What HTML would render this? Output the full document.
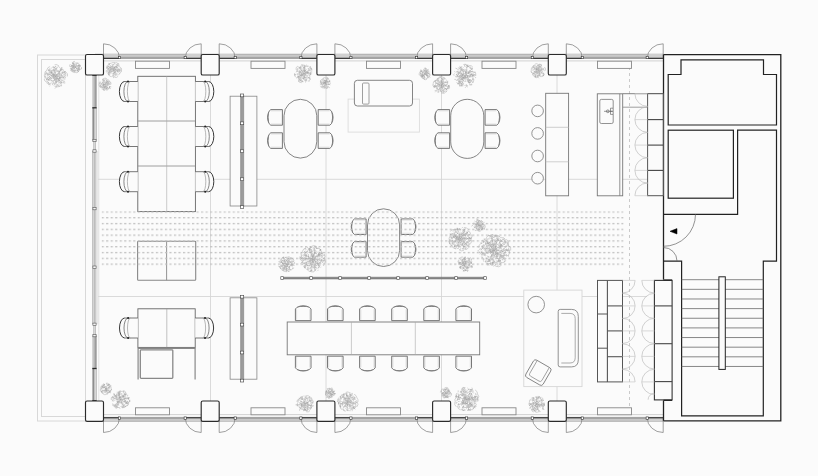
<!DOCTYPE html>
<html><head><meta charset="utf-8"><title>Floor plan</title>
<style>html,body{margin:0;padding:0;background:#fbfbfb;}svg{display:block}</style></head>
<body><svg width="818" height="476" viewBox="0 0 818 476">
<rect width="818" height="476" fill="#fbfbfb"/>
<rect x="37.5" y="55" width="57.5" height="366" fill="none" stroke="#d8d8d8" stroke-width="1" />
<rect x="41.5" y="59.5" width="44" height="357" fill="none" stroke="#d8d8d8" stroke-width="1" />
<line x1="210.5" y1="75" x2="210.5" y2="401" stroke="#d6d6d6" stroke-width="0.9" />
<line x1="326" y1="75" x2="326" y2="401" stroke="#d6d6d6" stroke-width="0.9" />
<line x1="441.5" y1="75" x2="441.5" y2="401" stroke="#d6d6d6" stroke-width="0.9" />
<line x1="557" y1="75" x2="557" y2="401" stroke="#d6d6d6" stroke-width="0.9" />
<line x1="98" y1="179.3" x2="647" y2="179.3" stroke="#d6d6d6" stroke-width="0.9" />
<line x1="98" y1="296.5" x2="647" y2="296.5" stroke="#d6d6d6" stroke-width="0.9" />
<line x1="629.5" y1="61" x2="629.5" y2="414" stroke="#c4c4c4" stroke-width="0.9" stroke-dasharray="3 3"/>
<rect x="95" y="54" width="568" height="2.5" fill="#c9c9c9" stroke="none" stroke-width="1" />
<rect x="95" y="56.5" width="568" height="2.5" fill="#a4a4a4" stroke="none" stroke-width="1" />
<line x1="95" y1="60.9" x2="663" y2="60.9" stroke="#cdcdcd" stroke-width="0.9" />
<line x1="95" y1="54.2" x2="663" y2="54.2" stroke="#9a9a9a" stroke-width="0.6" />
<rect x="95" y="419.3" width="568" height="2.3" fill="#c9c9c9" stroke="none" stroke-width="1" />
<rect x="95" y="416.9" width="568" height="2.4" fill="#a4a4a4" stroke="none" stroke-width="1" />
<line x1="95" y1="414.6" x2="663" y2="414.6" stroke="#cdcdcd" stroke-width="0.9" />
<line x1="95" y1="421.3" x2="663" y2="421.3" stroke="#9a9a9a" stroke-width="0.6" />
<rect x="103.5" y="54" width="16" height="4" fill="#d0d0d0" stroke="none" stroke-width="1" />
<line x1="103.5" y1="58.3" x2="119.5" y2="58.3" stroke="#2b2b2b" stroke-width="1.1" />
<line x1="103.5" y1="58.3" x2="103.5" y2="43.8" stroke="#777" stroke-width="0.7" />
<path d="M103.5 43.8 A16 14.5 0 0 1 119.5 58.3" fill="none" stroke="#777" stroke-width="0.7" />
<rect x="118.4" y="56.3" width="2.2" height="2.4" fill="#fff" stroke="#333" stroke-width="0.6" />
<rect x="185.2" y="54" width="16" height="4" fill="#d0d0d0" stroke="none" stroke-width="1" />
<line x1="201.2" y1="58.3" x2="185.2" y2="58.3" stroke="#2b2b2b" stroke-width="1.1" />
<line x1="201.2" y1="58.3" x2="201.2" y2="43.8" stroke="#777" stroke-width="0.7" />
<path d="M201.2 43.8 A16 14.5 0 0 0 185.2 58.3" fill="none" stroke="#777" stroke-width="0.7" />
<rect x="184.1" y="56.3" width="2.2" height="2.4" fill="#fff" stroke="#333" stroke-width="0.6" />
<rect x="219.2" y="54" width="16" height="4" fill="#d0d0d0" stroke="none" stroke-width="1" />
<line x1="219.2" y1="58.3" x2="235.2" y2="58.3" stroke="#2b2b2b" stroke-width="1.1" />
<line x1="219.2" y1="58.3" x2="219.2" y2="43.8" stroke="#777" stroke-width="0.7" />
<path d="M219.2 43.8 A16 14.5 0 0 1 235.2 58.3" fill="none" stroke="#777" stroke-width="0.7" />
<rect x="234.1" y="56.3" width="2.2" height="2.4" fill="#fff" stroke="#333" stroke-width="0.6" />
<rect x="300.9" y="54" width="16" height="4" fill="#d0d0d0" stroke="none" stroke-width="1" />
<line x1="316.9" y1="58.3" x2="300.9" y2="58.3" stroke="#2b2b2b" stroke-width="1.1" />
<line x1="316.9" y1="58.3" x2="316.9" y2="43.8" stroke="#777" stroke-width="0.7" />
<path d="M316.9 43.8 A16 14.5 0 0 0 300.9 58.3" fill="none" stroke="#777" stroke-width="0.7" />
<rect x="299.8" y="56.3" width="2.2" height="2.4" fill="#fff" stroke="#333" stroke-width="0.6" />
<rect x="334.9" y="54" width="16" height="4" fill="#d0d0d0" stroke="none" stroke-width="1" />
<line x1="334.9" y1="58.3" x2="350.9" y2="58.3" stroke="#2b2b2b" stroke-width="1.1" />
<line x1="334.9" y1="58.3" x2="334.9" y2="43.8" stroke="#777" stroke-width="0.7" />
<path d="M334.9 43.8 A16 14.5 0 0 1 350.9 58.3" fill="none" stroke="#777" stroke-width="0.7" />
<rect x="349.8" y="56.3" width="2.2" height="2.4" fill="#fff" stroke="#333" stroke-width="0.6" />
<rect x="416.6" y="54" width="16" height="4" fill="#d0d0d0" stroke="none" stroke-width="1" />
<line x1="432.6" y1="58.3" x2="416.6" y2="58.3" stroke="#2b2b2b" stroke-width="1.1" />
<line x1="432.6" y1="58.3" x2="432.6" y2="43.8" stroke="#777" stroke-width="0.7" />
<path d="M432.6 43.8 A16 14.5 0 0 0 416.6 58.3" fill="none" stroke="#777" stroke-width="0.7" />
<rect x="415.5" y="56.3" width="2.2" height="2.4" fill="#fff" stroke="#333" stroke-width="0.6" />
<rect x="450.6" y="54" width="16" height="4" fill="#d0d0d0" stroke="none" stroke-width="1" />
<line x1="450.6" y1="58.3" x2="466.6" y2="58.3" stroke="#2b2b2b" stroke-width="1.1" />
<line x1="450.6" y1="58.3" x2="450.6" y2="43.8" stroke="#777" stroke-width="0.7" />
<path d="M450.6 43.8 A16 14.5 0 0 1 466.6 58.3" fill="none" stroke="#777" stroke-width="0.7" />
<rect x="465.5" y="56.3" width="2.2" height="2.4" fill="#fff" stroke="#333" stroke-width="0.6" />
<rect x="532.3" y="54" width="16" height="4" fill="#d0d0d0" stroke="none" stroke-width="1" />
<line x1="548.3" y1="58.3" x2="532.3" y2="58.3" stroke="#2b2b2b" stroke-width="1.1" />
<line x1="548.3" y1="58.3" x2="548.3" y2="43.8" stroke="#777" stroke-width="0.7" />
<path d="M548.3 43.8 A16 14.5 0 0 0 532.3 58.3" fill="none" stroke="#777" stroke-width="0.7" />
<rect x="531.2" y="56.3" width="2.2" height="2.4" fill="#fff" stroke="#333" stroke-width="0.6" />
<rect x="566.3" y="54" width="16" height="4" fill="#d0d0d0" stroke="none" stroke-width="1" />
<line x1="566.3" y1="58.3" x2="582.3" y2="58.3" stroke="#2b2b2b" stroke-width="1.1" />
<line x1="566.3" y1="58.3" x2="566.3" y2="43.8" stroke="#777" stroke-width="0.7" />
<path d="M566.3 43.8 A16 14.5 0 0 1 582.3 58.3" fill="none" stroke="#777" stroke-width="0.7" />
<rect x="581.2" y="56.3" width="2.2" height="2.4" fill="#fff" stroke="#333" stroke-width="0.6" />
<rect x="647.2" y="54" width="16" height="4" fill="#d0d0d0" stroke="none" stroke-width="1" />
<line x1="663.2" y1="58.3" x2="647.2" y2="58.3" stroke="#2b2b2b" stroke-width="1.1" />
<line x1="663.2" y1="58.3" x2="663.2" y2="43.8" stroke="#777" stroke-width="0.7" />
<path d="M663.2 43.8 A16 14.5 0 0 0 647.2 58.3" fill="none" stroke="#777" stroke-width="0.7" />
<rect x="646.1" y="56.3" width="2.2" height="2.4" fill="#fff" stroke="#333" stroke-width="0.6" />
<rect x="103.5" y="418" width="16" height="3.5" fill="#d0d0d0" stroke="none" stroke-width="1" />
<line x1="103.5" y1="417.8" x2="119.5" y2="417.8" stroke="#2b2b2b" stroke-width="1.1" />
<line x1="103.5" y1="417.8" x2="103.5" y2="432.5" stroke="#777" stroke-width="0.7" />
<path d="M103.5 432.5 A16 14.7 0 0 0 119.5 417.8" fill="none" stroke="#777" stroke-width="0.7" />
<rect x="118.4" y="416.9" width="2.2" height="2.4" fill="#fff" stroke="#333" stroke-width="0.6" />
<rect x="185.2" y="418" width="16" height="3.5" fill="#d0d0d0" stroke="none" stroke-width="1" />
<line x1="201.2" y1="417.8" x2="185.2" y2="417.8" stroke="#2b2b2b" stroke-width="1.1" />
<line x1="201.2" y1="417.8" x2="201.2" y2="432.5" stroke="#777" stroke-width="0.7" />
<path d="M201.2 432.5 A16 14.7 0 0 1 185.2 417.8" fill="none" stroke="#777" stroke-width="0.7" />
<rect x="184.1" y="416.9" width="2.2" height="2.4" fill="#fff" stroke="#333" stroke-width="0.6" />
<rect x="219.2" y="418" width="16" height="3.5" fill="#d0d0d0" stroke="none" stroke-width="1" />
<line x1="219.2" y1="417.8" x2="235.2" y2="417.8" stroke="#2b2b2b" stroke-width="1.1" />
<line x1="219.2" y1="417.8" x2="219.2" y2="432.5" stroke="#777" stroke-width="0.7" />
<path d="M219.2 432.5 A16 14.7 0 0 0 235.2 417.8" fill="none" stroke="#777" stroke-width="0.7" />
<rect x="234.1" y="416.9" width="2.2" height="2.4" fill="#fff" stroke="#333" stroke-width="0.6" />
<rect x="300.9" y="418" width="16" height="3.5" fill="#d0d0d0" stroke="none" stroke-width="1" />
<line x1="316.9" y1="417.8" x2="300.9" y2="417.8" stroke="#2b2b2b" stroke-width="1.1" />
<line x1="316.9" y1="417.8" x2="316.9" y2="432.5" stroke="#777" stroke-width="0.7" />
<path d="M316.9 432.5 A16 14.7 0 0 1 300.9 417.8" fill="none" stroke="#777" stroke-width="0.7" />
<rect x="299.8" y="416.9" width="2.2" height="2.4" fill="#fff" stroke="#333" stroke-width="0.6" />
<rect x="334.9" y="418" width="16" height="3.5" fill="#d0d0d0" stroke="none" stroke-width="1" />
<line x1="334.9" y1="417.8" x2="350.9" y2="417.8" stroke="#2b2b2b" stroke-width="1.1" />
<line x1="334.9" y1="417.8" x2="334.9" y2="432.5" stroke="#777" stroke-width="0.7" />
<path d="M334.9 432.5 A16 14.7 0 0 0 350.9 417.8" fill="none" stroke="#777" stroke-width="0.7" />
<rect x="349.8" y="416.9" width="2.2" height="2.4" fill="#fff" stroke="#333" stroke-width="0.6" />
<rect x="416.6" y="418" width="16" height="3.5" fill="#d0d0d0" stroke="none" stroke-width="1" />
<line x1="432.6" y1="417.8" x2="416.6" y2="417.8" stroke="#2b2b2b" stroke-width="1.1" />
<line x1="432.6" y1="417.8" x2="432.6" y2="432.5" stroke="#777" stroke-width="0.7" />
<path d="M432.6 432.5 A16 14.7 0 0 1 416.6 417.8" fill="none" stroke="#777" stroke-width="0.7" />
<rect x="415.5" y="416.9" width="2.2" height="2.4" fill="#fff" stroke="#333" stroke-width="0.6" />
<rect x="450.6" y="418" width="16" height="3.5" fill="#d0d0d0" stroke="none" stroke-width="1" />
<line x1="450.6" y1="417.8" x2="466.6" y2="417.8" stroke="#2b2b2b" stroke-width="1.1" />
<line x1="450.6" y1="417.8" x2="450.6" y2="432.5" stroke="#777" stroke-width="0.7" />
<path d="M450.6 432.5 A16 14.7 0 0 0 466.6 417.8" fill="none" stroke="#777" stroke-width="0.7" />
<rect x="465.5" y="416.9" width="2.2" height="2.4" fill="#fff" stroke="#333" stroke-width="0.6" />
<rect x="532.3" y="418" width="16" height="3.5" fill="#d0d0d0" stroke="none" stroke-width="1" />
<line x1="548.3" y1="417.8" x2="532.3" y2="417.8" stroke="#2b2b2b" stroke-width="1.1" />
<line x1="548.3" y1="417.8" x2="548.3" y2="432.5" stroke="#777" stroke-width="0.7" />
<path d="M548.3 432.5 A16 14.7 0 0 1 532.3 417.8" fill="none" stroke="#777" stroke-width="0.7" />
<rect x="531.2" y="416.9" width="2.2" height="2.4" fill="#fff" stroke="#333" stroke-width="0.6" />
<rect x="566.3" y="418" width="16" height="3.5" fill="#d0d0d0" stroke="none" stroke-width="1" />
<line x1="566.3" y1="417.8" x2="582.3" y2="417.8" stroke="#2b2b2b" stroke-width="1.1" />
<line x1="566.3" y1="417.8" x2="566.3" y2="432.5" stroke="#777" stroke-width="0.7" />
<path d="M566.3 432.5 A16 14.7 0 0 0 582.3 417.8" fill="none" stroke="#777" stroke-width="0.7" />
<rect x="581.2" y="416.9" width="2.2" height="2.4" fill="#fff" stroke="#333" stroke-width="0.6" />
<rect x="647.2" y="418" width="16" height="3.5" fill="#d0d0d0" stroke="none" stroke-width="1" />
<line x1="663.2" y1="417.8" x2="647.2" y2="417.8" stroke="#2b2b2b" stroke-width="1.1" />
<line x1="663.2" y1="417.8" x2="663.2" y2="432.5" stroke="#777" stroke-width="0.7" />
<path d="M663.2 432.5 A16 14.7 0 0 1 647.2 417.8" fill="none" stroke="#777" stroke-width="0.7" />
<rect x="646.1" y="416.9" width="2.2" height="2.4" fill="#fff" stroke="#333" stroke-width="0.6" />
<rect x="92.3" y="75" width="2.1" height="32.8" fill="#c4c4c4" stroke="none" stroke-width="1" />
<rect x="94.4" y="75" width="2.3" height="32.8" fill="#9c9c9c" stroke="none" stroke-width="1" />
<rect x="92.4" y="107.8" width="2.2" height="32.7" fill="#8e8e8e" stroke="none" stroke-width="1" />
<rect x="94.6" y="107.8" width="1.6" height="32.7" fill="#dcdcdc" stroke="none" stroke-width="1" />
<line x1="96.4" y1="107.8" x2="96.4" y2="140.5" stroke="#999" stroke-width="0.6" />
<line x1="93.7" y1="140.5" x2="93.7" y2="151" stroke="#999" stroke-width="0.6" />
<line x1="95.3" y1="140.5" x2="95.3" y2="151" stroke="#999" stroke-width="0.6" />
<rect x="92.3" y="151" width="4.4" height="57.6" fill="#eeeeee" stroke="none" stroke-width="1" />
<line x1="92.6" y1="151" x2="92.6" y2="208.6" stroke="#9a9a9a" stroke-width="0.6" />
<line x1="94.2" y1="151" x2="94.2" y2="208.6" stroke="#8a8a8a" stroke-width="0.7" />
<line x1="95.8" y1="151" x2="95.8" y2="208.6" stroke="#9a9a9a" stroke-width="0.6" />
<line x1="97.7" y1="151" x2="97.7" y2="208.6" stroke="#d4d4d4" stroke-width="0.6" />
<rect x="92.3" y="208.6" width="4.4" height="58.6" fill="#eeeeee" stroke="none" stroke-width="1" />
<line x1="92.6" y1="208.6" x2="92.6" y2="267.2" stroke="#9a9a9a" stroke-width="0.6" />
<line x1="94.2" y1="208.6" x2="94.2" y2="267.2" stroke="#8a8a8a" stroke-width="0.7" />
<line x1="95.8" y1="208.6" x2="95.8" y2="267.2" stroke="#9a9a9a" stroke-width="0.6" />
<line x1="97.7" y1="208.6" x2="97.7" y2="267.2" stroke="#d4d4d4" stroke-width="0.6" />
<rect x="92.3" y="267.2" width="4.4" height="57.1" fill="#eeeeee" stroke="none" stroke-width="1" />
<line x1="92.6" y1="267.2" x2="92.6" y2="324.3" stroke="#9a9a9a" stroke-width="0.6" />
<line x1="94.2" y1="267.2" x2="94.2" y2="324.3" stroke="#8a8a8a" stroke-width="0.7" />
<line x1="95.8" y1="267.2" x2="95.8" y2="324.3" stroke="#9a9a9a" stroke-width="0.6" />
<line x1="97.7" y1="267.2" x2="97.7" y2="324.3" stroke="#d4d4d4" stroke-width="0.6" />
<line x1="93.7" y1="324.3" x2="93.7" y2="335.6" stroke="#999" stroke-width="0.6" />
<line x1="95.3" y1="324.3" x2="95.3" y2="335.6" stroke="#999" stroke-width="0.6" />
<rect x="92.3" y="335.6" width="2.1" height="32.9" fill="#c4c4c4" stroke="none" stroke-width="1" />
<rect x="94.4" y="335.6" width="2.3" height="32.9" fill="#9c9c9c" stroke="none" stroke-width="1" />
<rect x="92.4" y="368.5" width="2.2" height="32.5" fill="#8e8e8e" stroke="none" stroke-width="1" />
<rect x="94.6" y="368.5" width="1.6" height="32.5" fill="#dcdcdc" stroke="none" stroke-width="1" />
<line x1="96.4" y1="368.5" x2="96.4" y2="401" stroke="#999" stroke-width="0.6" />
<line x1="92.3" y1="107.8" x2="96.6" y2="107.8" stroke="#2b2b2b" stroke-width="1.3" />
<line x1="92.3" y1="368.5" x2="96.6" y2="368.5" stroke="#2b2b2b" stroke-width="1.3" />
<line x1="92.3" y1="75.4" x2="96.6" y2="75.4" stroke="#2b2b2b" stroke-width="1" />
<line x1="92.3" y1="400.6" x2="96.6" y2="400.6" stroke="#2b2b2b" stroke-width="1" />
<line x1="98.8" y1="75" x2="98.8" y2="401" stroke="#dadada" stroke-width="0.7" />
<rect x="92.9" y="139.3" width="3.2" height="2.4" fill="#f4f4f4" stroke="#555" stroke-width="0.6" />
<rect x="92.9" y="149.8" width="3.2" height="2.4" fill="#f4f4f4" stroke="#555" stroke-width="0.6" />
<rect x="92.9" y="207.4" width="3.2" height="2.4" fill="#f4f4f4" stroke="#555" stroke-width="0.6" />
<rect x="92.9" y="266" width="3.2" height="2.4" fill="#f4f4f4" stroke="#555" stroke-width="0.6" />
<rect x="92.9" y="323.1" width="3.2" height="2.4" fill="#f4f4f4" stroke="#555" stroke-width="0.6" />
<rect x="92.9" y="334.4" width="3.2" height="2.4" fill="#f4f4f4" stroke="#555" stroke-width="0.6" />
<rect x="85.5" y="54.5" width="18" height="20.5" rx="1.6" fill="#fbfbfb" stroke="#2b2b2b" stroke-width="1.15" />
<rect x="85.5" y="401" width="18" height="20.4" rx="1.6" fill="#fbfbfb" stroke="#2b2b2b" stroke-width="1.15" />
<rect x="201.2" y="54.5" width="18" height="20.5" rx="1.6" fill="#fbfbfb" stroke="#2b2b2b" stroke-width="1.15" />
<rect x="201.2" y="401" width="18" height="20.4" rx="1.6" fill="#fbfbfb" stroke="#2b2b2b" stroke-width="1.15" />
<rect x="316.9" y="54.5" width="18" height="20.5" rx="1.6" fill="#fbfbfb" stroke="#2b2b2b" stroke-width="1.15" />
<rect x="316.9" y="401" width="18" height="20.4" rx="1.6" fill="#fbfbfb" stroke="#2b2b2b" stroke-width="1.15" />
<rect x="432.6" y="54.5" width="18" height="20.5" rx="1.6" fill="#fbfbfb" stroke="#2b2b2b" stroke-width="1.15" />
<rect x="432.6" y="401" width="18" height="20.4" rx="1.6" fill="#fbfbfb" stroke="#2b2b2b" stroke-width="1.15" />
<rect x="548.3" y="54.5" width="18" height="20.5" rx="1.6" fill="#fbfbfb" stroke="#2b2b2b" stroke-width="1.15" />
<rect x="548.3" y="401" width="18" height="20.4" rx="1.6" fill="#fbfbfb" stroke="#2b2b2b" stroke-width="1.15" />
<rect x="135.5" y="61.2" width="34" height="7.2" fill="#fbfbfb" stroke="#888" stroke-width="0.9" />
<rect x="135.5" y="407.8" width="34" height="7" fill="#fbfbfb" stroke="#888" stroke-width="0.9" />
<rect x="251" y="61.2" width="34" height="7.2" fill="#fbfbfb" stroke="#888" stroke-width="0.9" />
<rect x="251" y="407.8" width="34" height="7" fill="#fbfbfb" stroke="#888" stroke-width="0.9" />
<rect x="366.5" y="61.2" width="34" height="7.2" fill="#fbfbfb" stroke="#888" stroke-width="0.9" />
<rect x="366.5" y="407.8" width="34" height="7" fill="#fbfbfb" stroke="#888" stroke-width="0.9" />
<rect x="482" y="61.2" width="34" height="7.2" fill="#fbfbfb" stroke="#888" stroke-width="0.9" />
<rect x="482" y="407.8" width="34" height="7" fill="#fbfbfb" stroke="#888" stroke-width="0.9" />
<rect x="597.5" y="61.2" width="34" height="7.2" fill="#fbfbfb" stroke="#888" stroke-width="0.9" />
<rect x="597.5" y="407.8" width="34" height="7" fill="#fbfbfb" stroke="#888" stroke-width="0.9" />
<path d="M663.5 54.6 L780.8 54.6 L780.8 420.8 L663.5 420.8" fill="none" stroke="#222" stroke-width="1.3" />
<path d="M663.5 54.6 L663.5 279.6" fill="none" stroke="#222" stroke-width="1.3" />
<path d="M663.5 400.5 L663.5 420.8" fill="none" stroke="#222" stroke-width="1.3" />
<path d="M668.2 125 L668.2 74.5 L681 74.5 L681 59.8 L763.5 59.8 L763.5 74.5 L776.5 74.5 L776.5 125 Z" fill="none" stroke="#222" stroke-width="1.2" />
<rect x="668.2" y="130.2" width="65.2" height="68" fill="none" stroke="#222" stroke-width="1.2" />
<path d="M663.5 214.3 L737.6 214.3 L737.6 130.2 L776.5 130.2 L776.5 261.2 L763.3 261.2 L763.3 415.9 L681.6 415.9 L681.6 261.2 L663.5 261.2" fill="none" stroke="#222" stroke-width="1.2" />
<path d="M695.5 214.3 A32 32 0 0 1 663.5 246.3" fill="none" stroke="#666" stroke-width="0.7" />
<path d="M663.5 247.5 A13.5 13.5 0 0 1 677 261" fill="none" stroke="#666" stroke-width="0.7" />
<path d="M670 231.3 L677 228.6 L677 234 Z" fill="#000" stroke="#000" stroke-width="0.5" />
<line x1="681.6" y1="279.7" x2="763.3" y2="279.7" stroke="#6a6a6a" stroke-width="0.8" />
<line x1="681.6" y1="289.34" x2="763.3" y2="289.34" stroke="#6a6a6a" stroke-width="0.8" />
<line x1="681.6" y1="298.98" x2="763.3" y2="298.98" stroke="#6a6a6a" stroke-width="0.8" />
<line x1="681.6" y1="308.62" x2="763.3" y2="308.62" stroke="#6a6a6a" stroke-width="0.8" />
<line x1="681.6" y1="318.26" x2="763.3" y2="318.26" stroke="#6a6a6a" stroke-width="0.8" />
<line x1="681.6" y1="327.9" x2="763.3" y2="327.9" stroke="#6a6a6a" stroke-width="0.8" />
<line x1="681.6" y1="337.54" x2="763.3" y2="337.54" stroke="#6a6a6a" stroke-width="0.8" />
<line x1="681.6" y1="347.18" x2="763.3" y2="347.18" stroke="#6a6a6a" stroke-width="0.8" />
<line x1="681.6" y1="356.82" x2="763.3" y2="356.82" stroke="#6a6a6a" stroke-width="0.8" />
<line x1="681.6" y1="366.46" x2="763.3" y2="366.46" stroke="#6a6a6a" stroke-width="0.8" />
<rect x="718.9" y="276.8" width="6.4" height="92.6" fill="#fbfbfb" stroke="#222" stroke-width="1" />
<rect x="137.8" y="76.3" width="57.6" height="135.3" fill="#fbfbfb" stroke="#666" stroke-width="0.9" />
<line x1="137.8" y1="121" x2="195.4" y2="121" stroke="#888" stroke-width="0.8" />
<line x1="137.8" y1="166" x2="195.4" y2="166" stroke="#888" stroke-width="0.8" />
<line x1="166.7" y1="76.3" x2="166.7" y2="211.6" stroke="#aaa" stroke-width="0.6" />
<g transform="translate(137.8,91.5) scale(1,1)">
<path d="M0 -10 L-13.2 -10 A5.2 10 0 0 0 -13.2 10 L0 10 Z" fill="#fbfbfb" stroke="none"/>
<path d="M0 -10 L-13.2 -10 M0 10 L-13.2 10" fill="none" stroke="#555" stroke-width="0.8"/>
<path d="M-13.2 -10 A5.2 10 0 0 0 -13.2 10" fill="none" stroke="#222" stroke-width="0.9"/>
<path d="M-9.8 -10 A4.1 10 0 0 0 -9.8 10" fill="none" stroke="#555" stroke-width="0.7"/>
<path d="M-7.6 -10 A2.8 10 0 0 0 -7.6 10" fill="none" stroke="#888" stroke-width="0.6"/>
<circle cx="-9.8" cy="-10" r="1" fill="#222"/><circle cx="-9.8" cy="10" r="1" fill="#222"/>
</g>
<g transform="translate(195.4,91.5) scale(-1,1)">
<path d="M0 -10 L-13.2 -10 A5.2 10 0 0 0 -13.2 10 L0 10 Z" fill="#fbfbfb" stroke="none"/>
<path d="M0 -10 L-13.2 -10 M0 10 L-13.2 10" fill="none" stroke="#555" stroke-width="0.8"/>
<path d="M-13.2 -10 A5.2 10 0 0 0 -13.2 10" fill="none" stroke="#222" stroke-width="0.9"/>
<path d="M-9.8 -10 A4.1 10 0 0 0 -9.8 10" fill="none" stroke="#555" stroke-width="0.7"/>
<path d="M-7.6 -10 A2.8 10 0 0 0 -7.6 10" fill="none" stroke="#888" stroke-width="0.6"/>
<circle cx="-9.8" cy="-10" r="1" fill="#222"/><circle cx="-9.8" cy="10" r="1" fill="#222"/>
</g>
<g transform="translate(137.8,136.5) scale(1,1)">
<path d="M0 -10 L-13.2 -10 A5.2 10 0 0 0 -13.2 10 L0 10 Z" fill="#fbfbfb" stroke="none"/>
<path d="M0 -10 L-13.2 -10 M0 10 L-13.2 10" fill="none" stroke="#555" stroke-width="0.8"/>
<path d="M-13.2 -10 A5.2 10 0 0 0 -13.2 10" fill="none" stroke="#222" stroke-width="0.9"/>
<path d="M-9.8 -10 A4.1 10 0 0 0 -9.8 10" fill="none" stroke="#555" stroke-width="0.7"/>
<path d="M-7.6 -10 A2.8 10 0 0 0 -7.6 10" fill="none" stroke="#888" stroke-width="0.6"/>
<circle cx="-9.8" cy="-10" r="1" fill="#222"/><circle cx="-9.8" cy="10" r="1" fill="#222"/>
</g>
<g transform="translate(195.4,136.5) scale(-1,1)">
<path d="M0 -10 L-13.2 -10 A5.2 10 0 0 0 -13.2 10 L0 10 Z" fill="#fbfbfb" stroke="none"/>
<path d="M0 -10 L-13.2 -10 M0 10 L-13.2 10" fill="none" stroke="#555" stroke-width="0.8"/>
<path d="M-13.2 -10 A5.2 10 0 0 0 -13.2 10" fill="none" stroke="#222" stroke-width="0.9"/>
<path d="M-9.8 -10 A4.1 10 0 0 0 -9.8 10" fill="none" stroke="#555" stroke-width="0.7"/>
<path d="M-7.6 -10 A2.8 10 0 0 0 -7.6 10" fill="none" stroke="#888" stroke-width="0.6"/>
<circle cx="-9.8" cy="-10" r="1" fill="#222"/><circle cx="-9.8" cy="10" r="1" fill="#222"/>
</g>
<g transform="translate(137.8,181.7) scale(1,1)">
<path d="M0 -10 L-13.2 -10 A5.2 10 0 0 0 -13.2 10 L0 10 Z" fill="#fbfbfb" stroke="none"/>
<path d="M0 -10 L-13.2 -10 M0 10 L-13.2 10" fill="none" stroke="#555" stroke-width="0.8"/>
<path d="M-13.2 -10 A5.2 10 0 0 0 -13.2 10" fill="none" stroke="#222" stroke-width="0.9"/>
<path d="M-9.8 -10 A4.1 10 0 0 0 -9.8 10" fill="none" stroke="#555" stroke-width="0.7"/>
<path d="M-7.6 -10 A2.8 10 0 0 0 -7.6 10" fill="none" stroke="#888" stroke-width="0.6"/>
<circle cx="-9.8" cy="-10" r="1" fill="#222"/><circle cx="-9.8" cy="10" r="1" fill="#222"/>
</g>
<g transform="translate(195.4,181.7) scale(-1,1)">
<path d="M0 -10 L-13.2 -10 A5.2 10 0 0 0 -13.2 10 L0 10 Z" fill="#fbfbfb" stroke="none"/>
<path d="M0 -10 L-13.2 -10 M0 10 L-13.2 10" fill="none" stroke="#555" stroke-width="0.8"/>
<path d="M-13.2 -10 A5.2 10 0 0 0 -13.2 10" fill="none" stroke="#222" stroke-width="0.9"/>
<path d="M-9.8 -10 A4.1 10 0 0 0 -9.8 10" fill="none" stroke="#555" stroke-width="0.7"/>
<path d="M-7.6 -10 A2.8 10 0 0 0 -7.6 10" fill="none" stroke="#888" stroke-width="0.6"/>
<circle cx="-9.8" cy="-10" r="1" fill="#222"/><circle cx="-9.8" cy="10" r="1" fill="#222"/>
</g>
<rect x="137.9" y="308.8" width="57.3" height="38.6" fill="#fbfbfb" stroke="#666" stroke-width="0.9" />
<line x1="166.8" y1="308.8" x2="166.8" y2="347.4" stroke="#999" stroke-width="0.6" />
<line x1="137.9" y1="348.3" x2="195.2" y2="348.3" stroke="#888" stroke-width="1.2" />
<line x1="138.1" y1="347.4" x2="138.1" y2="379.5" stroke="#888" stroke-width="1.2" />
<line x1="195.1" y1="347.4" x2="195.1" y2="379.5" stroke="#888" stroke-width="1.2" />
<rect x="140.3" y="349.8" width="32.5" height="28.5" rx="0.8" fill="#fbfbfb" stroke="#888" stroke-width="1.3" />
<g transform="translate(137.9,328) scale(1,1)">
<path d="M0 -10 L-13.2 -10 A5.2 10 0 0 0 -13.2 10 L0 10 Z" fill="#fbfbfb" stroke="none"/>
<path d="M0 -10 L-13.2 -10 M0 10 L-13.2 10" fill="none" stroke="#555" stroke-width="0.8"/>
<path d="M-13.2 -10 A5.2 10 0 0 0 -13.2 10" fill="none" stroke="#222" stroke-width="0.9"/>
<path d="M-9.8 -10 A4.1 10 0 0 0 -9.8 10" fill="none" stroke="#555" stroke-width="0.7"/>
<path d="M-7.6 -10 A2.8 10 0 0 0 -7.6 10" fill="none" stroke="#888" stroke-width="0.6"/>
<circle cx="-9.8" cy="-10" r="1" fill="#222"/><circle cx="-9.8" cy="10" r="1" fill="#222"/>
</g>
<g transform="translate(195.2,328) scale(-1,1)">
<path d="M0 -10 L-13.2 -10 A5.2 10 0 0 0 -13.2 10 L0 10 Z" fill="#fbfbfb" stroke="none"/>
<path d="M0 -10 L-13.2 -10 M0 10 L-13.2 10" fill="none" stroke="#555" stroke-width="0.8"/>
<path d="M-13.2 -10 A5.2 10 0 0 0 -13.2 10" fill="none" stroke="#222" stroke-width="0.9"/>
<path d="M-9.8 -10 A4.1 10 0 0 0 -9.8 10" fill="none" stroke="#555" stroke-width="0.7"/>
<path d="M-7.6 -10 A2.8 10 0 0 0 -7.6 10" fill="none" stroke="#888" stroke-width="0.6"/>
<circle cx="-9.8" cy="-10" r="1" fill="#222"/><circle cx="-9.8" cy="10" r="1" fill="#222"/>
</g>
<rect x="230.1" y="96.2" width="26.8" height="109.8" fill="#fbfbfb" stroke="#888" stroke-width="0.8" />
<rect x="240.6" y="95.2" width="3.1" height="111.8" fill="#9c9c9c" stroke="none" stroke-width="1" />
<line x1="240.6" y1="95.2" x2="240.6" y2="207" stroke="#777" stroke-width="0.5" />
<line x1="243.7" y1="95.2" x2="243.7" y2="207" stroke="#777" stroke-width="0.5" />
<rect x="240.6" y="94" width="3.1" height="2.8" fill="#fff" stroke="#444" stroke-width="0.6" />
<rect x="240.6" y="121.9" width="3.1" height="2.8" fill="#fff" stroke="#444" stroke-width="0.6" />
<rect x="240.6" y="149.8" width="3.1" height="2.8" fill="#fff" stroke="#444" stroke-width="0.6" />
<rect x="240.6" y="177.8" width="3.1" height="2.8" fill="#fff" stroke="#444" stroke-width="0.6" />
<rect x="240.6" y="205.7" width="3.1" height="2.8" fill="#fff" stroke="#444" stroke-width="0.6" />
<rect x="230.1" y="297.8" width="26.8" height="81.4" fill="#fbfbfb" stroke="#888" stroke-width="0.8" />
<rect x="240.6" y="296.8" width="3.1" height="83.4" fill="#9c9c9c" stroke="none" stroke-width="1" />
<line x1="240.6" y1="296.8" x2="240.6" y2="380.2" stroke="#777" stroke-width="0.5" />
<line x1="243.7" y1="296.8" x2="243.7" y2="380.2" stroke="#777" stroke-width="0.5" />
<rect x="240.6" y="295.3" width="3.1" height="2.8" fill="#fff" stroke="#444" stroke-width="0.6" />
<rect x="240.6" y="323.2" width="3.1" height="2.8" fill="#fff" stroke="#444" stroke-width="0.6" />
<rect x="240.6" y="351.1" width="3.1" height="2.8" fill="#fff" stroke="#444" stroke-width="0.6" />
<rect x="240.6" y="379.2" width="3.1" height="2.8" fill="#fff" stroke="#444" stroke-width="0.6" />
<g transform="translate(282.4,117.4) rotate(-90)">
<path d="M-7.8 0 L-7.8 -11.6 L-6.2 -13.3 Q0 -16.4 6.2 -13.3 L7.8 -11.6 L7.8 0 Z" fill="#fbfbfb" stroke="#555" stroke-width="0.8"/>
<path d="M-6.2 -13.3 Q0 -16.4 6.2 -13.3 Q0 -14.6 -6.2 -13.3 Z" fill="#777" stroke="none"/>
<path d="M-6.6 -0.8 L-6.6 -11.4 M6.6 -0.8 L6.6 -11.4" fill="none" stroke="#c4c4c4" stroke-width="0.5"/>
</g>
<g transform="translate(318.2,117.4) rotate(90)">
<path d="M-7.8 0 L-7.8 -11.6 L-6.2 -13.3 Q0 -16.4 6.2 -13.3 L7.8 -11.6 L7.8 0 Z" fill="#fbfbfb" stroke="#555" stroke-width="0.8"/>
<path d="M-6.2 -13.3 Q0 -16.4 6.2 -13.3 Q0 -14.6 -6.2 -13.3 Z" fill="#777" stroke="none"/>
<path d="M-6.6 -0.8 L-6.6 -11.4 M6.6 -0.8 L6.6 -11.4" fill="none" stroke="#c4c4c4" stroke-width="0.5"/>
</g>
<g transform="translate(282.4,140.6) rotate(-90)">
<path d="M-7.8 0 L-7.8 -11.6 L-6.2 -13.3 Q0 -16.4 6.2 -13.3 L7.8 -11.6 L7.8 0 Z" fill="#fbfbfb" stroke="#555" stroke-width="0.8"/>
<path d="M-6.2 -13.3 Q0 -16.4 6.2 -13.3 Q0 -14.6 -6.2 -13.3 Z" fill="#777" stroke="none"/>
<path d="M-6.6 -0.8 L-6.6 -11.4 M6.6 -0.8 L6.6 -11.4" fill="none" stroke="#c4c4c4" stroke-width="0.5"/>
</g>
<g transform="translate(318.2,140.6) rotate(90)">
<path d="M-7.8 0 L-7.8 -11.6 L-6.2 -13.3 Q0 -16.4 6.2 -13.3 L7.8 -11.6 L7.8 0 Z" fill="#fbfbfb" stroke="#555" stroke-width="0.8"/>
<path d="M-6.2 -13.3 Q0 -16.4 6.2 -13.3 Q0 -14.6 -6.2 -13.3 Z" fill="#777" stroke="none"/>
<path d="M-6.6 -0.8 L-6.6 -11.4 M6.6 -0.8 L6.6 -11.4" fill="none" stroke="#c4c4c4" stroke-width="0.5"/>
</g>
<rect x="284" y="99.3" width="32.8" height="58.8" rx="16.4" fill="#fbfbfb" stroke="#666" stroke-width="0.8" />
<g transform="translate(449.6,117.4) rotate(-90)">
<path d="M-7.8 0 L-7.8 -11.6 L-6.2 -13.3 Q0 -16.4 6.2 -13.3 L7.8 -11.6 L7.8 0 Z" fill="#fbfbfb" stroke="#555" stroke-width="0.8"/>
<path d="M-6.2 -13.3 Q0 -16.4 6.2 -13.3 Q0 -14.6 -6.2 -13.3 Z" fill="#777" stroke="none"/>
<path d="M-6.6 -0.8 L-6.6 -11.4 M6.6 -0.8 L6.6 -11.4" fill="none" stroke="#c4c4c4" stroke-width="0.5"/>
</g>
<g transform="translate(485.1,117.4) rotate(90)">
<path d="M-7.8 0 L-7.8 -11.6 L-6.2 -13.3 Q0 -16.4 6.2 -13.3 L7.8 -11.6 L7.8 0 Z" fill="#fbfbfb" stroke="#555" stroke-width="0.8"/>
<path d="M-6.2 -13.3 Q0 -16.4 6.2 -13.3 Q0 -14.6 -6.2 -13.3 Z" fill="#777" stroke="none"/>
<path d="M-6.6 -0.8 L-6.6 -11.4 M6.6 -0.8 L6.6 -11.4" fill="none" stroke="#c4c4c4" stroke-width="0.5"/>
</g>
<g transform="translate(449.6,140.6) rotate(-90)">
<path d="M-7.8 0 L-7.8 -11.6 L-6.2 -13.3 Q0 -16.4 6.2 -13.3 L7.8 -11.6 L7.8 0 Z" fill="#fbfbfb" stroke="#555" stroke-width="0.8"/>
<path d="M-6.2 -13.3 Q0 -16.4 6.2 -13.3 Q0 -14.6 -6.2 -13.3 Z" fill="#777" stroke="none"/>
<path d="M-6.6 -0.8 L-6.6 -11.4 M6.6 -0.8 L6.6 -11.4" fill="none" stroke="#c4c4c4" stroke-width="0.5"/>
</g>
<g transform="translate(485.1,140.6) rotate(90)">
<path d="M-7.8 0 L-7.8 -11.6 L-6.2 -13.3 Q0 -16.4 6.2 -13.3 L7.8 -11.6 L7.8 0 Z" fill="#fbfbfb" stroke="#555" stroke-width="0.8"/>
<path d="M-6.2 -13.3 Q0 -16.4 6.2 -13.3 Q0 -14.6 -6.2 -13.3 Z" fill="#777" stroke="none"/>
<path d="M-6.6 -0.8 L-6.6 -11.4 M6.6 -0.8 L6.6 -11.4" fill="none" stroke="#c4c4c4" stroke-width="0.5"/>
</g>
<rect x="450.7" y="99.3" width="33.1" height="59.1" rx="16.55" fill="#fbfbfb" stroke="#666" stroke-width="0.8" />
<rect x="348.1" y="99.1" width="71.3" height="33" fill="none" stroke="#dcdcdc" stroke-width="0.9" />
<rect x="354.4" y="80.3" width="58.1" height="25.7" rx="3" fill="#fbfbfb" stroke="#777" stroke-width="0.9" />
<rect x="362.5" y="83" width="6.5" height="21.1" rx="1" fill="#fbfbfb" stroke="#888" stroke-width="0.8" />
<rect x="545.7" y="93.3" width="22.9" height="102.5" fill="#fbfbfb" stroke="#777" stroke-width="0.9" />
<line x1="545.7" y1="127.3" x2="568.6" y2="127.3" stroke="#bbb" stroke-width="0.7" />
<line x1="545.7" y1="161.8" x2="568.6" y2="161.8" stroke="#bbb" stroke-width="0.7" />
<circle cx="537.6" cy="110.9" r="5.8" fill="#fbfbfb" stroke="#777" stroke-width="0.8"/>
<circle cx="537.6" cy="133.4" r="5.8" fill="#fbfbfb" stroke="#777" stroke-width="0.8"/>
<circle cx="537.6" cy="156" r="5.8" fill="#fbfbfb" stroke="#777" stroke-width="0.8"/>
<circle cx="537.6" cy="178.2" r="5.8" fill="#fbfbfb" stroke="#777" stroke-width="0.8"/>
<rect x="597.3" y="93.8" width="25.4" height="102" fill="#fbfbfb" stroke="#777" stroke-width="0.9" />
<line x1="619.8" y1="93.8" x2="619.8" y2="195.8" stroke="#777" stroke-width="0.8" />
<rect x="599.8" y="99.4" width="13.4" height="24.1" rx="1.5" fill="#fbfbfb" stroke="#777" stroke-width="0.8" />
<circle cx="607.8" cy="111.3" r="1.4" fill="none" stroke="#555" stroke-width="0.6"/>
<line x1="604" y1="111.3" x2="612.5" y2="111.3" stroke="#555" stroke-width="0.6" />
<line x1="610.5" y1="108.2" x2="610.5" y2="114.4" stroke="#555" stroke-width="0.6" />
<line x1="610.5" y1="108.2" x2="613" y2="108.2" stroke="#555" stroke-width="0.6" />
<line x1="610.5" y1="111.3" x2="613" y2="111.3" stroke="#555" stroke-width="0.6" />
<line x1="610.5" y1="114.4" x2="613" y2="114.4" stroke="#555" stroke-width="0.6" />
<line x1="622.8" y1="93.7" x2="663" y2="93.7" stroke="#777" stroke-width="0.9" />
<line x1="622.8" y1="107.2" x2="647.6" y2="107.2" stroke="#888" stroke-width="0.8" />
<rect x="647.6" y="93.7" width="15.6" height="102" fill="#fbfbfb" stroke="#555" stroke-width="1" />
<line x1="647.6" y1="119.6" x2="663" y2="119.6" stroke="#444" stroke-width="1.1" />
<line x1="647.6" y1="145.1" x2="663" y2="145.1" stroke="#444" stroke-width="1.1" />
<line x1="647.6" y1="170.4" x2="663" y2="170.4" stroke="#444" stroke-width="1.1" />
<path d="M634.9 93.7 A12.7 12.7 0 0 0 647.6 106.4" fill="none" stroke="#bdbdbd" stroke-width="0.7" />
<line x1="634.9" y1="93.7" x2="647.6" y2="93.7" stroke="#c8c8c8" stroke-width="0.7" />
<path d="M647.6 106.9 A12.7 12.7 0 0 0 647.6 132.3" fill="none" stroke="#bdbdbd" stroke-width="0.7" />
<line x1="634.9" y1="119.6" x2="647.6" y2="119.6" stroke="#c8c8c8" stroke-width="0.7" />
<path d="M647.6 132.4 A12.7 12.7 0 0 0 647.6 157.8" fill="none" stroke="#bdbdbd" stroke-width="0.7" />
<line x1="634.9" y1="145.1" x2="647.6" y2="145.1" stroke="#c8c8c8" stroke-width="0.7" />
<path d="M647.6 157.7 A12.7 12.7 0 0 0 647.6 183.1" fill="none" stroke="#bdbdbd" stroke-width="0.7" />
<line x1="634.9" y1="170.4" x2="647.6" y2="170.4" stroke="#c8c8c8" stroke-width="0.7" />
<path d="M647.6 183 A12.7 12.7 0 0 0 634.9 195.7" fill="none" stroke="#bdbdbd" stroke-width="0.7" />
<line x1="634.9" y1="195.7" x2="647.6" y2="195.7" stroke="#c8c8c8" stroke-width="0.7" />
<rect x="597.5" y="280.4" width="25" height="101.5" fill="#fbfbfb" stroke="#555" stroke-width="1" />
<line x1="607.4" y1="280.4" x2="607.4" y2="381.9" stroke="#555" stroke-width="1.1" />
<line x1="597.5" y1="314" x2="607.4" y2="314" stroke="#555" stroke-width="1" />
<line x1="597.5" y1="348.2" x2="607.4" y2="348.2" stroke="#555" stroke-width="1" />
<line x1="607.4" y1="305.9" x2="622.5" y2="305.9" stroke="#555" stroke-width="1.1" />
<line x1="607.4" y1="330.9" x2="622.5" y2="330.9" stroke="#555" stroke-width="1.1" />
<line x1="607.4" y1="356.7" x2="622.5" y2="356.7" stroke="#555" stroke-width="1.1" />
<rect x="654.4" y="280.4" width="17.7" height="119.5" fill="#fbfbfb" stroke="#333" stroke-width="1.1" />
<line x1="654.4" y1="305.9" x2="672.1" y2="305.9" stroke="#444" stroke-width="1.1" />
<line x1="654.4" y1="343.7" x2="672.1" y2="343.7" stroke="#444" stroke-width="1.1" />
<line x1="654.4" y1="381.6" x2="672.1" y2="381.6" stroke="#444" stroke-width="1.1" />
<path d="M635.1 280.4 A12.6 12.6 0 0 1 622.5 293" fill="none" stroke="#bdbdbd" stroke-width="0.7" />
<line x1="622.5" y1="280.4" x2="635.1" y2="280.4" stroke="#c8c8c8" stroke-width="0.7" />
<path d="M622.5 293.3 A12.6 12.6 0 0 1 622.5 318.5" fill="none" stroke="#bdbdbd" stroke-width="0.7" />
<line x1="622.5" y1="305.9" x2="635.1" y2="305.9" stroke="#c8c8c8" stroke-width="0.7" />
<path d="M622.5 318.3 A12.6 12.6 0 0 1 622.5 343.5" fill="none" stroke="#bdbdbd" stroke-width="0.7" />
<line x1="622.5" y1="330.9" x2="635.1" y2="330.9" stroke="#c8c8c8" stroke-width="0.7" />
<path d="M622.5 343.8 A12.6 12.6 0 0 1 622.5 369" fill="none" stroke="#bdbdbd" stroke-width="0.7" />
<line x1="622.5" y1="356.4" x2="635.1" y2="356.4" stroke="#c8c8c8" stroke-width="0.7" />
<path d="M622.5 369.3 A12.6 12.6 0 0 1 635.1 381.9" fill="none" stroke="#bdbdbd" stroke-width="0.7" />
<line x1="622.5" y1="381.9" x2="635.1" y2="381.9" stroke="#c8c8c8" stroke-width="0.7" />
<path d="M641.8 280.4 A12.6 12.6 0 0 0 654.4 293" fill="none" stroke="#bdbdbd" stroke-width="0.7" />
<line x1="641.8" y1="280.4" x2="654.4" y2="280.4" stroke="#c8c8c8" stroke-width="0.7" />
<path d="M654.4 293.3 A12.6 12.6 0 0 0 654.4 318.5" fill="none" stroke="#bdbdbd" stroke-width="0.7" />
<line x1="641.8" y1="305.9" x2="654.4" y2="305.9" stroke="#c8c8c8" stroke-width="0.7" />
<path d="M654.4 318.3 A12.6 12.6 0 0 0 654.4 343.5" fill="none" stroke="#bdbdbd" stroke-width="0.7" />
<line x1="641.8" y1="330.9" x2="654.4" y2="330.9" stroke="#c8c8c8" stroke-width="0.7" />
<path d="M654.4 343.8 A12.6 12.6 0 0 0 654.4 369" fill="none" stroke="#bdbdbd" stroke-width="0.7" />
<line x1="641.8" y1="356.4" x2="654.4" y2="356.4" stroke="#c8c8c8" stroke-width="0.7" />
<path d="M654.4 369.3 A12.6 12.6 0 0 0 654.4 394.5" fill="none" stroke="#bdbdbd" stroke-width="0.7" />
<line x1="641.8" y1="381.9" x2="654.4" y2="381.9" stroke="#c8c8c8" stroke-width="0.7" />
<path d="M654.4 393.4 A6.3 6.3 0 0 0 648.1 399.7" fill="none" stroke="#bdbdbd" stroke-width="0.7" />
<line x1="672.1" y1="400.3" x2="663.5" y2="400.3" stroke="#222" stroke-width="1.3" />
<line x1="663.5" y1="280" x2="672.1" y2="280" stroke="#222" stroke-width="1.2" />
<rect x="523.8" y="290.1" width="58.2" height="96.5" fill="#fbfbfb" stroke="#d6d6d6" stroke-width="0.9" />
<circle cx="536.2" cy="304.6" r="8.3" fill="#fbfbfb" stroke="#777" stroke-width="0.8"/>
<path d="M560.2 309.4 L571.5 309.4 Q578.3 309.4 578.3 316.5 L578.3 359.8 Q578.3 366.9 571.5 366.9 L560.2 366.9 Q558.2 366.9 558.2 364.9 L558.2 311.4 Q558.2 309.4 560.2 309.4 Z" fill="#fbfbfb" stroke="#777" stroke-width="0.8" />
<path d="M561.3 313.4 L570 313.4 Q575.2 313.4 575.2 318.6 L575.2 357.8 Q575.2 363 570 363 L561.3 363" fill="none" stroke="#888" stroke-width="0.7" />
<g transform="translate(538.3,372.6) rotate(30)">
<rect x="-10" y="-10" width="20" height="20" rx="2.5" fill="#fbfbfb" stroke="#777" stroke-width="0.8"/>
<path d="M-7 -10 L-7 5 Q-7 7 -5 7 L5 7 Q7 7 7 5 L7 -10" fill="none" stroke="#888" stroke-width="0.7"/>
</g>
<g transform="translate(303.2,320.6) rotate(0)">
<path d="M-7.8 0 L-7.8 -11.6 L-6.2 -13.3 Q0 -16.4 6.2 -13.3 L7.8 -11.6 L7.8 0 Z" fill="#fbfbfb" stroke="#555" stroke-width="0.8"/>
<path d="M-6.2 -13.3 Q0 -16.4 6.2 -13.3 Q0 -14.6 -6.2 -13.3 Z" fill="#777" stroke="none"/>
<path d="M-6.6 -0.8 L-6.6 -11.4 M6.6 -0.8 L6.6 -11.4" fill="none" stroke="#c4c4c4" stroke-width="0.5"/>
</g>
<g transform="translate(303.2,356.2) rotate(180)">
<path d="M-7.8 0 L-7.8 -11.6 L-6.2 -13.3 Q0 -16.4 6.2 -13.3 L7.8 -11.6 L7.8 0 Z" fill="#fbfbfb" stroke="#555" stroke-width="0.8"/>
<path d="M-6.2 -13.3 Q0 -16.4 6.2 -13.3 Q0 -14.6 -6.2 -13.3 Z" fill="#777" stroke="none"/>
<path d="M-6.6 -0.8 L-6.6 -11.4 M6.6 -0.8 L6.6 -11.4" fill="none" stroke="#c4c4c4" stroke-width="0.5"/>
</g>
<g transform="translate(335.3,320.6) rotate(0)">
<path d="M-7.8 0 L-7.8 -11.6 L-6.2 -13.3 Q0 -16.4 6.2 -13.3 L7.8 -11.6 L7.8 0 Z" fill="#fbfbfb" stroke="#555" stroke-width="0.8"/>
<path d="M-6.2 -13.3 Q0 -16.4 6.2 -13.3 Q0 -14.6 -6.2 -13.3 Z" fill="#777" stroke="none"/>
<path d="M-6.6 -0.8 L-6.6 -11.4 M6.6 -0.8 L6.6 -11.4" fill="none" stroke="#c4c4c4" stroke-width="0.5"/>
</g>
<g transform="translate(335.3,356.2) rotate(180)">
<path d="M-7.8 0 L-7.8 -11.6 L-6.2 -13.3 Q0 -16.4 6.2 -13.3 L7.8 -11.6 L7.8 0 Z" fill="#fbfbfb" stroke="#555" stroke-width="0.8"/>
<path d="M-6.2 -13.3 Q0 -16.4 6.2 -13.3 Q0 -14.6 -6.2 -13.3 Z" fill="#777" stroke="none"/>
<path d="M-6.6 -0.8 L-6.6 -11.4 M6.6 -0.8 L6.6 -11.4" fill="none" stroke="#c4c4c4" stroke-width="0.5"/>
</g>
<g transform="translate(367.4,320.6) rotate(0)">
<path d="M-7.8 0 L-7.8 -11.6 L-6.2 -13.3 Q0 -16.4 6.2 -13.3 L7.8 -11.6 L7.8 0 Z" fill="#fbfbfb" stroke="#555" stroke-width="0.8"/>
<path d="M-6.2 -13.3 Q0 -16.4 6.2 -13.3 Q0 -14.6 -6.2 -13.3 Z" fill="#777" stroke="none"/>
<path d="M-6.6 -0.8 L-6.6 -11.4 M6.6 -0.8 L6.6 -11.4" fill="none" stroke="#c4c4c4" stroke-width="0.5"/>
</g>
<g transform="translate(367.4,356.2) rotate(180)">
<path d="M-7.8 0 L-7.8 -11.6 L-6.2 -13.3 Q0 -16.4 6.2 -13.3 L7.8 -11.6 L7.8 0 Z" fill="#fbfbfb" stroke="#555" stroke-width="0.8"/>
<path d="M-6.2 -13.3 Q0 -16.4 6.2 -13.3 Q0 -14.6 -6.2 -13.3 Z" fill="#777" stroke="none"/>
<path d="M-6.6 -0.8 L-6.6 -11.4 M6.6 -0.8 L6.6 -11.4" fill="none" stroke="#c4c4c4" stroke-width="0.5"/>
</g>
<g transform="translate(399.5,320.6) rotate(0)">
<path d="M-7.8 0 L-7.8 -11.6 L-6.2 -13.3 Q0 -16.4 6.2 -13.3 L7.8 -11.6 L7.8 0 Z" fill="#fbfbfb" stroke="#555" stroke-width="0.8"/>
<path d="M-6.2 -13.3 Q0 -16.4 6.2 -13.3 Q0 -14.6 -6.2 -13.3 Z" fill="#777" stroke="none"/>
<path d="M-6.6 -0.8 L-6.6 -11.4 M6.6 -0.8 L6.6 -11.4" fill="none" stroke="#c4c4c4" stroke-width="0.5"/>
</g>
<g transform="translate(399.5,356.2) rotate(180)">
<path d="M-7.8 0 L-7.8 -11.6 L-6.2 -13.3 Q0 -16.4 6.2 -13.3 L7.8 -11.6 L7.8 0 Z" fill="#fbfbfb" stroke="#555" stroke-width="0.8"/>
<path d="M-6.2 -13.3 Q0 -16.4 6.2 -13.3 Q0 -14.6 -6.2 -13.3 Z" fill="#777" stroke="none"/>
<path d="M-6.6 -0.8 L-6.6 -11.4 M6.6 -0.8 L6.6 -11.4" fill="none" stroke="#c4c4c4" stroke-width="0.5"/>
</g>
<g transform="translate(431.6,320.6) rotate(0)">
<path d="M-7.8 0 L-7.8 -11.6 L-6.2 -13.3 Q0 -16.4 6.2 -13.3 L7.8 -11.6 L7.8 0 Z" fill="#fbfbfb" stroke="#555" stroke-width="0.8"/>
<path d="M-6.2 -13.3 Q0 -16.4 6.2 -13.3 Q0 -14.6 -6.2 -13.3 Z" fill="#777" stroke="none"/>
<path d="M-6.6 -0.8 L-6.6 -11.4 M6.6 -0.8 L6.6 -11.4" fill="none" stroke="#c4c4c4" stroke-width="0.5"/>
</g>
<g transform="translate(431.6,356.2) rotate(180)">
<path d="M-7.8 0 L-7.8 -11.6 L-6.2 -13.3 Q0 -16.4 6.2 -13.3 L7.8 -11.6 L7.8 0 Z" fill="#fbfbfb" stroke="#555" stroke-width="0.8"/>
<path d="M-6.2 -13.3 Q0 -16.4 6.2 -13.3 Q0 -14.6 -6.2 -13.3 Z" fill="#777" stroke="none"/>
<path d="M-6.6 -0.8 L-6.6 -11.4 M6.6 -0.8 L6.6 -11.4" fill="none" stroke="#c4c4c4" stroke-width="0.5"/>
</g>
<g transform="translate(463.7,320.6) rotate(0)">
<path d="M-7.8 0 L-7.8 -11.6 L-6.2 -13.3 Q0 -16.4 6.2 -13.3 L7.8 -11.6 L7.8 0 Z" fill="#fbfbfb" stroke="#555" stroke-width="0.8"/>
<path d="M-6.2 -13.3 Q0 -16.4 6.2 -13.3 Q0 -14.6 -6.2 -13.3 Z" fill="#777" stroke="none"/>
<path d="M-6.6 -0.8 L-6.6 -11.4 M6.6 -0.8 L6.6 -11.4" fill="none" stroke="#c4c4c4" stroke-width="0.5"/>
</g>
<g transform="translate(463.7,356.2) rotate(180)">
<path d="M-7.8 0 L-7.8 -11.6 L-6.2 -13.3 Q0 -16.4 6.2 -13.3 L7.8 -11.6 L7.8 0 Z" fill="#fbfbfb" stroke="#555" stroke-width="0.8"/>
<path d="M-6.2 -13.3 Q0 -16.4 6.2 -13.3 Q0 -14.6 -6.2 -13.3 Z" fill="#777" stroke="none"/>
<path d="M-6.6 -0.8 L-6.6 -11.4 M6.6 -0.8 L6.6 -11.4" fill="none" stroke="#c4c4c4" stroke-width="0.5"/>
</g>
<rect x="287.2" y="322" width="192.5" height="32.8" fill="#fbfbfb" stroke="#777" stroke-width="0.9" />
<line x1="351.4" y1="322" x2="351.4" y2="354.8" stroke="#aaa" stroke-width="0.6" />
<line x1="415.3" y1="322" x2="415.3" y2="354.8" stroke="#aaa" stroke-width="0.6" />
<rect x="282.2" y="277.2" width="202.7" height="1.8" fill="#8a8a8a" stroke="none" stroke-width="1" />
<line x1="282.2" y1="277.2" x2="484.9" y2="277.2" stroke="#666" stroke-width="0.5" />
<line x1="282.2" y1="279" x2="484.9" y2="279" stroke="#666" stroke-width="0.5" />
<rect x="280.8" y="276.7" width="2.8" height="2.8" fill="#fff" stroke="#444" stroke-width="0.6" />
<rect x="309.8" y="276.7" width="2.8" height="2.8" fill="#fff" stroke="#444" stroke-width="0.6" />
<rect x="338.8" y="276.7" width="2.8" height="2.8" fill="#fff" stroke="#444" stroke-width="0.6" />
<rect x="367.8" y="276.7" width="2.8" height="2.8" fill="#fff" stroke="#444" stroke-width="0.6" />
<rect x="396.8" y="276.7" width="2.8" height="2.8" fill="#fff" stroke="#444" stroke-width="0.6" />
<rect x="425.8" y="276.7" width="2.8" height="2.8" fill="#fff" stroke="#444" stroke-width="0.6" />
<rect x="454.8" y="276.7" width="2.8" height="2.8" fill="#fff" stroke="#444" stroke-width="0.6" />
<rect x="483.8" y="276.7" width="2.8" height="2.8" fill="#fff" stroke="#444" stroke-width="0.6" />
<g transform="translate(366.1,226.7) rotate(-90)">
<path d="M-7.8 0 L-7.8 -11.6 L-6.2 -13.3 Q0 -16.4 6.2 -13.3 L7.8 -11.6 L7.8 0 Z" fill="#fbfbfb" stroke="#555" stroke-width="0.8"/>
<path d="M-6.2 -13.3 Q0 -16.4 6.2 -13.3 Q0 -14.6 -6.2 -13.3 Z" fill="#777" stroke="none"/>
<path d="M-6.6 -0.8 L-6.6 -11.4 M6.6 -0.8 L6.6 -11.4" fill="none" stroke="#c4c4c4" stroke-width="0.5"/>
</g>
<g transform="translate(401.1,226.7) rotate(90)">
<path d="M-7.8 0 L-7.8 -11.6 L-6.2 -13.3 Q0 -16.4 6.2 -13.3 L7.8 -11.6 L7.8 0 Z" fill="#fbfbfb" stroke="#555" stroke-width="0.8"/>
<path d="M-6.2 -13.3 Q0 -16.4 6.2 -13.3 Q0 -14.6 -6.2 -13.3 Z" fill="#777" stroke="none"/>
<path d="M-6.6 -0.8 L-6.6 -11.4 M6.6 -0.8 L6.6 -11.4" fill="none" stroke="#c4c4c4" stroke-width="0.5"/>
</g>
<g transform="translate(366.1,249.4) rotate(-90)">
<path d="M-7.8 0 L-7.8 -11.6 L-6.2 -13.3 Q0 -16.4 6.2 -13.3 L7.8 -11.6 L7.8 0 Z" fill="#fbfbfb" stroke="#555" stroke-width="0.8"/>
<path d="M-6.2 -13.3 Q0 -16.4 6.2 -13.3 Q0 -14.6 -6.2 -13.3 Z" fill="#777" stroke="none"/>
<path d="M-6.6 -0.8 L-6.6 -11.4 M6.6 -0.8 L6.6 -11.4" fill="none" stroke="#c4c4c4" stroke-width="0.5"/>
</g>
<g transform="translate(401.1,249.4) rotate(90)">
<path d="M-7.8 0 L-7.8 -11.6 L-6.2 -13.3 Q0 -16.4 6.2 -13.3 L7.8 -11.6 L7.8 0 Z" fill="#fbfbfb" stroke="#555" stroke-width="0.8"/>
<path d="M-6.2 -13.3 Q0 -16.4 6.2 -13.3 Q0 -14.6 -6.2 -13.3 Z" fill="#777" stroke="none"/>
<path d="M-6.6 -0.8 L-6.6 -11.4 M6.6 -0.8 L6.6 -11.4" fill="none" stroke="#c4c4c4" stroke-width="0.5"/>
</g>
<rect x="367.5" y="208.8" width="32.1" height="57.7" rx="16.05" fill="#fbfbfb" stroke="#666" stroke-width="0.8" />
<rect x="137.6" y="241.3" width="58.1" height="38.9" rx="0.8" fill="none" stroke="#888" stroke-width="1.1" />
<line x1="166.6" y1="241.3" x2="166.6" y2="280.2" stroke="#888" stroke-width="0.9" />
<defs><pattern id="dp" x="101.6" y="211.3" width="4.52" height="5.8" patternUnits="userSpaceOnUse"><rect x="0" y="0" width="2.2" height="1.3" fill="#c2c2c2"/></pattern></defs>
<rect x="101.6" y="211.3" width="522" height="54.5" fill="url(#dp)"/>
<path d="M55.8 76.4L56.0 78.1L55.6 79.3L56.4 81.1L56.0 83.4L56.3 84.9L56.4 86.4M56.0 78.1l2.0 1.1M56.0 78.1l-1.7 1.1M55.6 79.3l1.7 0.8M55.6 79.3l-1.4 1.8M56.4 81.1l2.1 1.0M56.0 83.4l-1.4 0.8M55.8 76.4L54.9 78.5L54.3 80.0L53.5 81.6L52.9 83.2L52.3 85.1M54.9 78.5l-2.3 0.0M54.3 80.0l-2.1 0.9M52.9 83.2l0.8 1.0M55.8 76.4L53.9 77.3L53.2 77.2L51.5 78.0L49.5 78.5L48.5 79.5L46.4 79.9M53.9 77.3l-0.2 1.5M53.2 77.2l-1.0 -1.1M51.5 78.0l-0.2 1.0M51.5 78.0l-1.6 -1.0M49.5 78.5l-1.1 2.0M49.5 78.5l-1.6 -1.7M48.5 79.5l-0.5 1.7M48.5 79.5l-1.5 -1.1M55.8 76.4L54.3 75.9L52.9 75.3L51.0 75.4L49.6 74.6L47.7 74.1L46.6 73.3L45.1 73.3M54.3 75.9l-1.3 1.1M54.3 75.9l-0.8 -1.9M52.9 75.3l-1.1 -1.7M51.0 75.4l-0.7 -1.8M49.6 74.6l-1.2 0.8M49.6 74.6l-0.4 -1.4M47.7 74.1l-0.7 0.7M47.7 74.1l-0.3 -1.4M46.6 73.3l-0.9 1.0M46.6 73.3l-0.7 -1.9M55.8 76.4L54.4 75.6L53.3 74.6L51.8 73.1L51.0 72.5L49.6 70.9L48.1 70.1M54.4 75.6l-2.1 0.9M54.4 75.6l-0.1 -2.2M53.3 74.6l-1.4 0.6M53.3 74.6l-0.0 -2.2M51.8 73.1l-1.6 0.3M51.8 73.1l0.1 -2.4M51.0 72.5l-2.4 -0.0M49.6 70.9l0.7 -2.3M55.8 76.4L55.7 74.8L55.1 72.7L54.7 70.9L54.1 69.4L54.0 67.8L53.4 66.1M55.7 74.8l-2.3 -0.5M55.1 72.7l-1.6 -1.3M55.1 72.7l1.2 -1.6M54.7 70.9l-2.1 -1.1M54.7 70.9l0.9 -1.1M54.1 69.4l1.2 -0.9M54.0 67.8l-2.0 -0.9M54.0 67.8l1.9 -1.5M55.8 76.4L56.5 75.1L58.4 73.2L59.0 71.9L60.4 70.6L61.5 69.5L62.3 67.5M56.5 75.1l-0.1 -1.1M58.4 73.2l1.5 0.1M59.0 71.9l-0.4 -1.9M59.0 71.9l1.3 -0.0M60.4 70.6l-0.2 -1.8M61.5 69.5l-0.1 -1.3M61.5 69.5l2.1 0.2M55.8 76.4L57.5 75.6L59.0 74.9L60.9 74.0L62.5 73.3L63.8 72.6L65.8 71.4M57.5 75.6l0.5 -2.2M59.0 74.9l-0.0 -2.2M59.0 74.9l1.0 0.6M60.9 74.0l1.7 1.4M62.5 73.3l0.1 -1.8M62.5 73.3l0.9 0.5M63.8 72.6l0.0 -1.1M63.8 72.6l2.2 0.7M55.8 76.4L57.9 76.3L59.7 76.9L61.5 77.4L63.1 77.4L64.4 77.6M57.9 76.3l0.7 -0.9M59.7 76.9l1.0 1.5M61.5 77.4l0.9 1.1M63.1 77.4l0.9 -1.3M63.1 77.4l0.8 1.3M55.8 76.4L57.0 78.1L58.2 79.3L59.2 80.6L61.0 82.0L62.0 83.2M57.0 78.1l1.2 -0.4M57.0 78.1l-0.8 2.2M58.2 79.3l2.1 -0.2M58.2 79.3l-0.1 1.3M59.2 80.6l1.3 -0.0M59.2 80.6l-0.6 1.3M61.0 82.0l-0.7 1.7M59.0 86.2Q57.0 87.6 54.8 86.1M47.9 82.1Q44.0 81.7 44.3 78.8M45.2 78.6Q43.9 76.4 45.5 74.2M44.7 74.0Q44.4 71.3 47.1 70.1M46.8 69.9Q47.4 67.1 50.1 66.5M54.6 64.8Q57.1 63.6 59.0 66.4M65.8 71.9Q68.3 73.7 67.5 76.4M56.3 86.4l0.4 1.0M54.5 71.9l1.2 -1.5M59.4 72.3l-0.5 1.2M63.7 81.1l1.5 1.0M52.2 81.0l-1.4 -0.8M55.3 77.2l-1.3 0.5M51.5 73.9l1.2 -0.4M61.6 81.8l-0.2 1.6M58.6 74.0l0.8 -0.5M48.4 83.8l0.2 -1.7M53.2 71.2l-1.0 -1.5M55.9 70.8l1.6 -0.4M61.8 81.6l-1.2 0.0M51.8 68.2l-0.9 -0.4M49.9 70.0l0.8 1.7M62.1 82.5l0.9 -0.4M54.7 70.3l-1.2 -0.8M47.4 78.7l-0.4 0.9M55.2 73.6l0.0 -1.5M49.9 83.6l-0.1 1.3M65.5 79.0l-1.1 -0.0M50.0 83.9l-0.6 1.1M56.9 68.5l-1.1 1.4M55.3 80.0l0.8 0.5M54.4 67.0l0.4 0.9M55.5 69.4l0.7 -1.6M60.8 83.0l-0.8 0.6M48.7 73.1l0.3 1.1M65.2 78.2l0.6 -1.8M48.0 83.5l-1.4 -0.5M64.3 75.2l-0.4 -1.1M45.8 77.4l-1.3 -1.0M55.9 75.9l-0.7 -1.2M48.2 78.3l0.5 1.3M53.7 76.4l-0.8 -1.1M63.7 74.3l0.7 -0.6M48.9 69.7l1.2 0.4M60.4 78.9l-1.9 -0.5M60.0 71.9l-0.3 -0.9M47.7 70.5l1.5 -0.7M50.6 84.1l0.7 -1.8M46.6 80.3l0.1 -1.4M59.2 77.3l0.9 0.5M51.5 76.5l-0.5 -1.4M51.6 70.7l-0.5 1.3M48.1 81.9l0.8 1.7M49.7 83.2l-1.0 1.0M57.2 84.6l1.1 0.0M61.7 83.9l-1.0 0.3M58.2 80.7l-0.8 0.6M57.2 77.5l0.7 1.2M58.4 76.8l-1.2 0.4M64.4 79.3l-1.0 0.7M57.5 76.0l0.2 0.9M59.6 82.8l-0.9 -0.8M59.4 77.6l-0.2 -1.1M46.4 78.5l1.1 -0.5M55.3 81.8l0.6 -1.4M61.1 79.9l-0.8 -1.8M64.1 76.6l0.9 0.2M60.1 77.4l1.5 0.5M58.9 86.2l1.4 -0.2M64.2 71.6l0.8 -0.3M51.1 72.7l0.9 -0.3M59.2 71.7l1.0 0.8M53.1 70.8l0.9 -0.4M54.9 67.2l0.8 -1.3M49.0 84.3l-0.9 0.5M46.3 77.6l-0.1 1.0M48.6 70.7l-0.3 -1.2M60.1 82.6l-0.2 -0.8M56.2 69.0l-0.4 -0.8M58.7 72.0l-1.2 -1.4M46.2 79.5l1.3 -1.0M51.5 80.9l1.2 0.6M64.1 82.9l-0.8 -0.4M54.0 73.9l0.1 0.9M53.2 73.1l-0.7 -0.4M60.9 75.3l0.3 1.4M57.2 69.5l-1.4 -1.1M58.8 83.7l0.4 0.8M63.3 82.8l1.9 0.3M59.6 73.4l1.2 0.7M58.2 71.9l-1.2 -1.0M62.3 69.6l-0.9 1.3M61.3 81.0l0.8 -1.3M58.5 85.8l-1.3 -0.3M64.0 80.7l-0.8 1.1M53.1 75.5l-0.1 -1.3M49.0 71.0l0.3 1.2M50.3 85.7l-0.8 0.4M58.4 80.7l1.5 -0.7M65.9 75.5l-1.5 -1.2M48.9 80.3l1.8 -0.6M45.3 77.4l0.2 -1.3M65.3 71.2l-0.5 1.9M59.6 79.0l-0.2 -1.1M50.8 70.4l1.6 0.4M50.6 78.7l-0.9 1.4M53.6 85.5l0.9 0.7M61.9 79.6l1.0 1.4M64.7 75.1l1.8 -0.2M59.3 82.0l-0.5 1.3M48.2 74.4l-1.2 1.4M50.2 77.7l1.3 -1.2M56.1 82.3l0.3 -0.8M52.0 75.6l-1.0 -0.2M56.5 78.7l0.2 -1.3M58.2 66.0l0.8 -0.1M60.4 76.8l-1.1 0.5M53.5 75.7l1.0 0.7M57.5 71.3l-1.0 0.5M53.8 77.4l-1.1 -1.2M59.5 66.8l0.0 1.0M58.1 67.3l-1.8 -0.1M54.3 84.3l0.4 0.7M62.7 71.2l1.1 -0.8M63.7 72.6l0.6 -1.4M48.9 75.6l0.5 0.9M64.7 76.0l-1.2 -0.4M49.6 78.2l0.4 -1.3M61.7 85.2l-0.6 1.3M59.9 70.8l0.9 -1.7M64.1 78.0l-1.3 -0.7M54.4 83.8l-0.5 -1.8M54.1 73.4l-1.0 1.0M65.7 73.9l-0.6 -0.8M60.1 85.8l-1.3 1.2M55.0 82.4l1.8 -0.6M51.1 80.2l-0.2 0.9M61.2 75.7l0.9 0.5M60.0 78.7l-1.7 -0.3M49.1 69.1l0.3 -0.7M61.4 75.0l1.0 0.5M55.0 83.9l-0.8 -0.2M60.9 75.0l1.2 1.5M60.4 76.2l-0.7 -1.4M59.6 77.8l0.1 -1.0M57.9 72.2l0.6 -0.6M45.5 74.1l-0.7 0.6M62.5 75.9l-0.2 0.9M58.7 79.3l-1.1 1.5M56.9 79.2l1.9 -0.7M56.1 87.1l-1.2 1.5M53.6 69.2l-0.3 0.8M55.7 70.1l0.3 -1.5M48.7 74.7l-1.3 0.5M58.8 85.8l-1.6 -1.1M60.1 85.4l1.8 -0.4M55.4 80.8l0.3 0.8M46.8 82.2l0.7 -0.7M56.7 75.5l0.5 -1.9M47.0 75.0l0.1 -0.9M48.4 79.3l0.9 1.2M49.7 76.2l-0.8 0.8M50.6 72.6l1.9 -0.2M60.9 67.8l-0.5 1.9M59.8 80.3l-1.7 -0.0M51.9 71.4l-0.4 1.9M48.6 77.4l-1.8 -0.4M45.2 74.5l-1.4 0.6M53.3 77.7l1.0 -1.4M57.4 74.3l-1.5 1.3M57.2 82.8l-1.8 -0.6M60.6 71.2l-0.3 -1.2M49.9 76.2l-1.0 0.7M62.0 70.2l-0.8 -0.5M52.3 80.1l-0.7 -0.6M54.5 79.2l-0.2 0.8M62.8 72.6l-1.6 -0.4M60.9 68.0l1.1 -0.7" fill="none" stroke="#a2a2a2" stroke-width="0.45"/>
<path d="M75.3 67.0L74.1 65.4L73.5 63.6L71.9 62.4M74.1 65.4l-1.0 -0.3M74.1 65.4l0.3 -2.0M73.5 63.6l-1.5 -0.2M73.5 63.6l0.6 -1.7M75.3 67.0L75.7 65.8L76.9 63.5L77.4 62.4M75.7 65.8l1.4 -0.7M76.9 63.5l-1.3 -1.5M76.9 63.5l1.7 -0.4M75.3 67.0L76.8 66.2L78.6 65.7L80.4 65.7M76.8 66.2l0.7 -1.1M76.8 66.2l1.1 1.3M78.6 65.7l0.2 -1.8M78.6 65.7l1.2 0.7M75.3 67.0L76.7 67.9L78.0 68.8L79.9 69.7M76.7 67.9l0.5 1.4M78.0 68.8l2.0 -0.6M78.0 68.8l-0.1 2.1M75.3 67.0L76.3 68.4L77.2 69.9L78.5 71.8M77.2 69.9l1.5 0.1M77.2 69.9l-0.3 1.3M75.3 67.0L74.3 68.3L73.8 70.2L72.9 71.8M74.3 68.3l1.0 1.4M74.3 68.3l-1.5 0.1M73.8 70.2l0.9 1.5M73.8 70.2l-1.8 0.8M75.3 67.0L73.7 67.3L72.2 68.1L69.9 68.7M73.7 67.3l-1.0 -1.3M72.2 68.1l-0.3 1.4M75.3 67.0L73.8 66.7L72.3 65.8L71.1 65.1M73.8 66.7l-1.7 1.1M73.8 66.7l-0.8 -1.8M72.3 65.8l-1.9 0.9M81.5 67.0Q81.8 68.8 80.5 70.0M79.9 69.6Q79.4 71.1 77.8 71.3M78.2 72.1Q77.0 73.2 75.3 72.4M75.3 72.6Q73.7 73.0 72.7 71.5M72.5 71.9Q70.9 71.4 70.6 69.7M70.0 67.0Q69.1 65.3 70.3 64.1M79.7 64.5Q80.7 65.6 80.3 67.0M76.5 70.8l-1.0 -0.0M73.5 66.6l1.6 -0.9M72.0 69.4l1.0 0.5M78.3 65.9l1.4 1.3M71.7 68.6l-0.2 1.9M73.1 65.9l-1.0 -0.1M78.0 66.8l0.4 -1.6M79.7 70.1l-0.5 -1.6M72.7 67.7l1.2 -0.2M77.8 71.3l-0.6 -1.0M72.5 69.9l1.2 -1.2M73.8 63.3l-1.6 0.8M72.5 66.2l-1.1 -0.6M75.9 68.1l-0.7 -0.8M70.4 66.8l1.7 -0.5M71.9 70.5l1.4 0.4M79.6 64.7l0.3 0.9M74.9 61.4l-1.7 0.2M73.2 66.4l-0.7 -1.3M76.8 68.7l-1.3 -1.3M77.4 67.1l1.5 0.9M71.9 68.0l1.5 -0.1M74.4 64.2l1.1 0.0M77.6 71.2l1.4 0.3M78.5 66.4l1.4 1.1M76.5 63.7l-1.5 0.5M75.8 70.2l-1.7 0.5M75.7 70.3l-0.8 0.5M72.4 65.6l-1.5 -0.4M78.3 67.5l1.2 0.2M73.0 65.9l-0.2 1.7M73.0 63.3l-0.1 -1.4M74.0 70.5l1.6 0.7M78.5 69.4l1.3 -0.7M71.2 68.7l1.4 1.4M73.7 68.7l0.9 -0.0M71.3 67.5l0.0 1.9M78.9 67.3l-0.8 0.1M78.5 63.5l0.7 -0.5M73.7 71.4l-1.1 0.2M77.4 69.3l-0.6 -0.6M80.7 68.5l1.0 -0.2M75.2 65.4l-1.7 -0.3M72.5 64.0l1.4 0.8M79.2 66.0l0.9 0.0M79.5 64.9l-1.5 0.8M72.0 69.7l-1.5 0.3M75.0 67.9l-0.1 -1.1M75.1 70.9l-1.0 1.2M80.0 65.7l-1.0 0.2M78.4 68.2l0.1 1.5" fill="none" stroke="#a2a2a2" stroke-width="0.45"/>
<path d="M113.8 70.1L112.1 68.9L111.1 68.1L110.1 67.5L108.3 66.4M112.1 68.9l-1.8 0.9M112.1 68.9l0.1 -1.4M111.1 68.1l-1.2 0.3M111.1 68.1l0.1 -2.0M110.1 67.5l-1.4 0.8M110.1 67.5l-0.0 -1.6M113.8 70.1L113.4 68.6L113.1 66.6L112.6 65.5L112.0 64.0M113.4 68.6l-2.1 -0.4M113.4 68.6l1.5 -1.7M113.1 66.6l-2.2 -0.3M113.1 66.6l0.6 -1.1M112.6 65.5l0.8 -1.3M113.8 70.1L114.5 69.2L115.8 67.5L117.3 66.1L117.7 65.4M114.5 69.2l-0.3 -2.2M114.5 69.2l1.4 0.4M115.8 67.5l-0.2 -1.7M115.8 67.5l1.7 0.0M117.3 66.1l-0.9 -2.0M113.8 70.1L115.6 69.4L117.6 69.6L120.2 69.0M115.6 69.4l0.9 -1.3M115.6 69.4l0.8 1.1M117.6 69.6l0.2 -1.2M113.8 70.1L115.2 70.9L117.2 70.9L119.2 71.6L120.6 71.7M115.2 70.9l1.9 -0.9M115.2 70.9l0.7 1.2M117.2 70.9l1.4 -1.0M117.2 70.9l0.6 1.3M119.2 71.6l1.1 -1.2M113.8 70.1L114.6 72.2L115.9 73.7L117.0 75.8M114.6 72.2l1.5 0.2M114.6 72.2l-0.7 1.5M115.9 73.7l1.6 0.2M113.8 70.1L113.4 72.3L113.4 74.2L113.3 75.6L113.5 78.1M113.4 74.2l-0.9 0.7M113.3 75.6l-1.8 0.9M113.8 70.1L112.5 71.0L110.3 72.2L108.7 72.4L107.7 73.4M112.5 71.0l-0.4 1.2M110.3 72.2l-0.3 2.2M110.3 72.2l-1.7 -1.0M108.7 72.4l0.0 1.9M108.7 72.4l-1.6 -0.5M113.8 70.1L112.3 69.5L110.9 69.5L109.0 69.3L107.1 69.1M110.9 69.5l-1.0 0.7M109.0 69.3l-1.3 1.1M109.0 69.3l-0.7 -1.2M121.5 70.1Q122.0 72.1 119.9 73.3M118.1 76.3Q116.8 77.9 114.7 77.4M111.3 76.7Q109.4 76.5 108.7 74.6M107.0 68.4Q106.1 66.0 107.8 64.8M108.5 65.4Q109.1 63.3 111.1 63.1M111.2 63.2Q112.8 62.0 114.7 62.9M114.7 63.0Q116.8 62.1 118.2 63.7M119.9 66.9Q122.1 68.0 121.6 70.1M111.8 70.3l-1.5 0.6M113.5 73.4l1.0 1.1M119.4 70.1l0.5 0.9M106.9 72.1l-1.1 -0.5M116.1 64.6l-0.4 -0.7M108.9 70.4l1.7 0.5M112.7 74.1l-1.1 -1.1M117.1 66.1l-1.2 -0.1M112.0 69.5l-0.9 1.1M118.1 70.3l1.0 0.2M115.1 68.3l-0.9 -0.5M109.7 65.4l1.6 0.6M117.3 70.0l0.7 0.9M116.2 67.3l0.6 -1.4M111.2 71.3l-0.3 -0.8M117.6 64.2l1.5 -0.7M119.5 69.2l-0.1 1.2M114.9 72.4l0.3 -0.9M108.7 74.0l1.2 -1.2M117.2 65.0l1.1 0.3M109.8 72.0l-0.9 -1.6M119.5 67.3l-0.4 -1.2M113.8 64.8l0.5 -1.1M110.5 67.2l0.3 1.8M113.8 70.0l-1.0 0.1M108.3 71.0l1.8 -0.4M117.7 66.0l0.7 -0.7M117.2 64.3l1.7 -0.1M115.1 74.5l-0.6 -0.9M108.1 67.2l0.6 -1.1M117.2 67.8l-0.7 -1.1M108.7 72.3l-0.9 -1.1M117.7 69.6l1.3 -1.1M115.1 73.8l-0.2 -1.8M115.2 75.9l-0.3 -1.4M110.0 67.7l-1.5 0.5M120.2 69.4l1.1 1.0M109.8 64.1l-1.6 -0.9M114.1 68.8l-1.1 -1.0M110.8 67.3l1.0 1.0M117.2 68.5l0.5 -1.3M109.0 74.3l-1.0 -0.1M114.4 63.3l0.1 -0.9M120.5 70.6l-1.3 -0.6M112.2 70.9l1.2 -1.0M115.4 66.3l-1.2 1.5M117.9 72.3l0.9 -0.2M114.3 66.4l1.1 1.0M108.0 66.4l-1.0 1.4M107.9 66.9l-0.8 -0.8M118.5 69.9l0.8 -0.1M114.3 73.3l0.3 -1.0M114.1 67.1l1.0 1.7M117.8 67.1l0.4 -0.9M108.2 73.4l0.1 0.8M108.1 67.8l-0.6 1.7M110.7 71.2l1.0 0.6M106.9 70.1l0.6 0.9M112.8 75.9l0.7 -0.6M108.8 65.3l0.5 -1.1M114.7 71.8l-0.6 -0.6M114.3 67.7l1.3 -1.3M107.4 67.8l1.2 -1.2M108.9 72.6l0.9 0.1M110.2 71.0l1.4 1.4M113.5 64.5l0.8 -0.7M120.5 68.3l-0.1 0.9M118.9 65.9l0.4 -1.2M118.1 73.9l0.1 1.3M119.2 73.5l0.8 -0.4M114.4 77.3l0.7 -1.6M106.7 71.4l-0.4 -1.1M119.0 74.4l1.1 -1.0M115.5 69.4l-0.4 0.8M117.5 70.7l-0.3 1.6M108.8 64.7l1.1 -1.4M109.1 74.2l-0.0 1.0M115.4 75.3l-0.1 -1.2M108.4 68.5l-0.7 -0.7M112.4 66.6l0.4 1.6M108.2 74.8l1.5 -0.4M106.7 68.9l0.0 -1.6M110.6 69.7l-1.2 -0.7" fill="none" stroke="#a2a2a2" stroke-width="0.45"/>
<path d="M105.2 84.3L104.7 82.3L103.9 80.9L103.3 78.6M104.7 82.3l-1.5 0.0M103.9 80.9l-1.5 -0.4M103.9 80.9l1.2 -1.2M105.2 84.3L105.9 82.8L106.5 81.4L106.5 79.8M105.9 82.8l-0.7 -1.4M105.9 82.8l1.8 -0.8M105.2 84.3L106.3 83.2L107.8 82.0L109.1 81.2M106.3 83.2l-0.2 -1.1M106.3 83.2l1.0 0.1M107.8 82.0l-0.2 -1.7M107.8 82.0l1.8 0.9M105.2 84.3L107.1 84.4L108.0 84.3L110.1 84.4M107.1 84.4l0.8 -1.2M107.1 84.4l0.6 1.9M108.0 84.3l0.8 -1.1M108.0 84.3l0.8 1.5M105.2 84.3L106.0 86.1L107.6 87.1L108.1 89.5M106.0 86.1l1.7 -0.2M106.0 86.1l-0.4 0.9M107.6 87.1l-1.2 1.7M105.2 84.3L104.8 86.2L104.6 87.4L104.5 89.8M104.8 86.2l1.1 1.1M104.8 86.2l-1.8 1.2M104.6 87.4l1.6 1.3M104.6 87.4l-1.5 1.3M105.2 84.3L103.9 85.4L101.9 86.3L100.8 87.8M103.9 85.4l-0.2 1.3M101.9 86.3l0.1 1.8M101.9 86.3l-1.4 -0.5M105.2 84.3L103.6 84.2L101.2 84.3L99.2 83.5M103.6 84.2l-0.9 1.4M103.6 84.2l-0.3 -1.1M101.2 84.3l-0.9 1.8M109.9 87.0Q109.4 88.5 107.7 88.6M108.2 89.6Q106.9 90.8 105.2 89.3M105.2 90.3Q103.5 90.7 102.5 88.9M100.5 87.0Q98.6 86.1 99.0 84.3M99.2 84.3Q98.8 82.6 100.2 81.4M102.4 79.4Q103.6 78.3 105.2 78.8M105.2 79.0Q106.7 78.7 107.8 79.8M107.9 79.6Q109.4 80.1 109.6 81.8M110.0 81.5Q111.3 82.7 111.0 84.3M107.2 87.0l-0.9 1.6M107.7 82.7l-0.6 1.8M102.9 85.1l0.7 0.7M102.5 87.4l-1.0 -0.2M103.8 87.1l0.7 -0.5M107.4 81.4l-1.0 -0.5M109.6 87.9l0.5 0.6M107.6 81.4l-0.2 1.1M109.7 86.7l1.6 0.2M103.5 84.0l0.9 1.2M100.2 85.8l-0.2 1.5M109.6 86.0l0.1 1.2M104.6 88.3l-0.6 -0.9M102.0 88.6l0.2 0.9M105.6 86.3l1.0 -0.9M108.9 83.4l1.7 -0.4M103.9 86.8l-1.1 -0.0M106.0 87.5l0.1 1.7M101.1 85.8l-1.5 0.3M109.8 85.0l0.8 -1.1M108.4 83.4l0.1 -1.2M104.4 84.6l-1.2 0.5M103.6 83.5l-0.1 1.7M104.1 88.3l0.6 -1.2M104.9 85.9l1.2 0.4M110.2 82.3l-0.6 -0.8M106.0 87.0l-1.1 1.1M104.4 84.4l-1.4 0.7M101.1 87.4l-0.9 -0.7M102.7 81.4l1.3 0.5M106.8 88.0l0.0 1.8M106.4 87.4l-0.3 1.4M103.1 87.2l-0.5 1.0M101.9 81.9l1.3 0.8M108.3 83.9l0.9 -0.4M102.5 88.2l1.4 1.2M106.4 79.0l-1.3 -1.5M103.3 80.5l-1.1 -1.5M103.4 89.2l0.4 1.4M102.6 87.8l1.2 -1.4M100.6 83.3l-0.3 -1.0M108.8 88.0l1.3 -0.9M106.3 87.1l-1.1 -0.8M109.1 87.0l0.9 -0.9M104.9 80.5l-1.0 -0.8M102.2 85.0l1.1 0.2M109.0 87.8l1.6 0.9M101.8 83.7l-1.4 -0.9M105.6 81.1l1.8 0.0M103.0 82.1l-0.6 1.6M102.4 82.2l-0.8 1.6" fill="none" stroke="#a2a2a2" stroke-width="0.45"/>
<path d="M303.9 73.4L304.3 71.4L303.8 70.1L304.5 67.7L304.5 66.5L304.1 64.6M304.3 71.4l-1.5 -0.9M304.3 71.4l1.4 -1.3M303.8 70.1l0.8 -0.8M304.5 67.7l-1.9 -0.8M304.5 66.5l1.9 -1.4M303.9 73.4L305.8 72.6L307.3 71.7L308.6 70.0L310.2 68.9L311.7 68.4M305.8 72.6l0.2 -1.1M305.8 72.6l1.7 0.7M307.3 71.7l1.1 0.3M308.6 70.0l1.9 1.0M310.2 68.9l-0.2 -1.4M310.2 68.9l1.9 0.7M303.9 73.4L305.3 73.4L307.1 72.8L308.6 73.0L310.2 72.9L312.2 72.8M305.3 73.4l1.2 2.0M307.1 72.8l0.8 -0.8M310.2 72.9l0.6 -1.0M310.2 72.9l0.6 1.2M303.9 73.4L305.4 74.5L306.4 76.1L308.3 77.4L309.3 78.5L311.0 79.5M305.4 74.5l0.0 1.0M308.3 77.4l1.4 0.0M308.3 77.4l-0.3 1.2M309.3 78.5l1.4 -0.4M303.9 73.4L304.4 75.0L304.4 77.1L305.2 78.4L305.3 80.2L305.5 81.4M304.4 75.0l1.1 0.2M304.4 77.1l2.0 0.3M304.4 77.1l-1.3 1.9M305.3 80.2l1.9 0.8M303.9 73.4L303.2 75.0L302.0 75.6L300.7 77.4L299.9 78.9L299.1 80.0M303.2 75.0l0.6 1.9M302.0 75.6l-2.4 -0.1M300.7 77.4l0.1 1.2M299.9 78.9l0.8 2.0M303.9 73.4L302.6 74.5L301.1 75.5L299.4 76.4L297.8 76.7L296.1 78.3M302.6 74.5l-0.2 2.2M302.6 74.5l-1.4 -0.9M301.1 75.5l-0.4 1.2M301.1 75.5l-1.6 -0.7M299.4 76.4l-0.0 1.1M299.4 76.4l-1.6 -0.3M297.8 76.7l0.2 1.5M303.9 73.4L302.6 72.7L300.8 72.5L299.6 72.0L297.3 71.3L296.5 71.1M302.6 72.7l-1.2 0.6M300.8 72.5l-0.9 1.0M300.8 72.5l-0.3 -1.3M299.6 72.0l-1.1 0.9M299.6 72.0l-0.6 -2.3M297.3 71.3l-1.5 0.8M297.3 71.3l-0.7 -2.2M303.9 73.4L302.8 71.8L301.8 70.7L300.7 69.6L300.2 68.4L298.5 66.5M302.8 71.8l0.1 -1.1M301.8 70.7l0.3 -1.1M300.2 68.4l-1.7 0.4M300.2 68.4l0.2 -1.4M301.8 82.7Q299.4 82.8 298.0 80.8M295.9 77.3Q293.8 75.7 294.5 73.4M295.9 69.5Q295.7 66.9 298.0 66.0M309.0 67.0Q311.7 67.2 312.1 69.5M300.6 70.1l1.1 0.8M298.6 77.9l0.1 -1.8M304.2 68.7l0.1 -1.5M297.6 70.5l-0.1 -1.6M301.1 69.6l-0.3 -1.3M300.5 81.2l-1.4 -0.5M306.7 79.8l-0.5 -0.8M297.6 75.4l-0.6 -1.7M305.0 82.3l1.2 -0.7M310.1 75.0l0.7 -0.8M302.3 77.9l0.1 1.1M299.2 72.4l-1.1 1.3M311.8 69.8l-1.1 1.1M302.7 65.8l-0.8 0.6M299.5 66.9l-1.0 1.3M304.4 71.1l1.6 -1.2M302.8 70.6l0.2 -1.0M306.5 79.9l0.2 0.8M306.7 69.5l-1.5 -0.9M309.0 80.6l1.1 -1.5M300.3 79.7l0.6 1.2M303.5 78.9l-0.7 -1.4M306.0 77.4l-1.7 0.0M299.3 67.7l1.4 -1.0M303.7 67.4l-0.6 -1.0M301.3 76.0l-0.3 -1.7M299.1 72.1l1.4 0.7M304.6 67.4l0.6 -0.7M308.1 81.2l1.9 -0.4M302.8 77.5l1.2 1.5M311.6 71.8l0.4 -1.2M299.0 79.6l-0.6 1.2M300.8 80.3l-1.4 -0.5M296.0 74.9l-1.3 0.7M303.2 67.3l0.8 0.6M302.4 74.3l0.9 -1.2M310.5 70.6l0.5 -1.0M299.8 72.4l0.2 1.5M301.9 75.0l-0.2 -1.1M303.9 69.9l0.7 1.8M309.3 68.9l-1.4 -0.3M308.2 75.0l1.0 -0.3M306.2 72.3l-1.5 -0.3M302.9 64.8l-0.1 1.1M300.8 66.8l0.2 1.1M309.9 75.7l0.5 -1.5M300.8 71.7l-0.8 -0.5M305.4 67.7l-1.6 0.5M308.2 73.4l-0.7 -1.3M303.3 74.1l1.3 0.0M304.0 77.2l-0.3 0.9M299.1 73.3l1.0 1.1M302.3 64.8l0.9 -0.3M304.3 80.7l1.3 -0.6M305.1 65.9l0.6 0.7M307.3 66.0l-0.8 0.3M304.3 72.1l-0.4 -1.2M306.5 66.5l1.7 0.1M310.0 66.9l1.0 -0.9M309.2 78.0l0.4 -1.5M309.4 75.2l0.6 1.2M295.4 74.9l0.7 -0.8M304.3 77.9l-0.4 1.7M301.6 78.3l-0.6 -1.2M301.1 65.4l0.6 -1.1M298.5 75.1l1.9 -0.1M297.1 73.7l1.6 0.8M297.9 77.1l0.7 1.2M303.0 80.9l-0.1 1.4M310.2 73.7l1.2 0.5M298.3 78.5l1.1 0.1M304.3 69.4l0.3 2.0M306.0 77.8l1.4 0.2M305.2 67.1l-0.7 -1.3M305.8 72.5l0.0 1.1M300.7 71.4l-0.7 -1.0M308.5 73.7l-1.4 -0.9M304.1 76.5l0.0 -1.7M307.2 73.1l-0.3 -1.6M308.9 72.3l-1.5 0.6M308.4 65.7l0.4 0.9M306.9 76.2l1.1 -1.0M299.7 78.0l-1.3 0.0M297.3 77.3l1.2 -1.3M303.9 65.0l0.6 1.2M298.8 79.9l-0.9 -0.5M299.8 80.5l-1.1 1.4M306.6 73.5l-1.2 0.6M301.5 75.3l0.2 -1.8M306.3 65.1l1.1 0.6M309.8 74.5l0.2 -1.1M300.3 66.3l-0.1 1.2M305.9 79.1l1.3 0.1M303.8 77.7l0.4 -1.6M309.6 74.3l0.1 -1.1M303.9 70.5l0.9 -0.6M309.0 69.1l-1.2 -0.2M307.4 74.0l1.4 -1.1M301.6 70.4l0.6 1.6M302.1 68.2l-0.9 -0.2M300.1 67.8l0.8 0.2M303.1 68.8l1.3 -0.2M301.8 65.3l-0.2 1.3M295.7 74.3l-1.7 -0.1M300.5 74.3l-1.5 -0.2M302.9 80.8l-1.3 0.2M304.6 70.6l1.4 -0.4M300.0 77.6l-1.2 0.4M308.3 71.9l-0.7 0.8M311.2 73.6l-0.9 1.2M301.2 81.1l1.9 0.6M303.1 73.9l-2.0 -0.1M304.2 78.8l-0.3 1.2M306.7 71.4l-1.7 -0.1M301.5 69.3l0.9 -0.6M302.0 82.0l-0.4 -1.9M309.5 70.8l-1.0 0.8M297.0 68.2l0.9 0.3M300.4 79.0l1.7 0.6M308.1 70.5l-0.7 0.8" fill="none" stroke="#a2a2a2" stroke-width="0.45"/>
<path d="M325.5 82.9L323.8 83.4L322.0 84.0L320.1 84.5M323.8 83.4l-0.1 1.9M323.8 83.4l-0.8 -0.6M322.0 84.0l-1.2 -1.0M325.5 82.9L323.6 82.1L321.6 82.2L320.0 81.0M323.6 82.1l-1.3 0.7M321.6 82.2l-1.7 1.3M325.5 82.9L325.4 81.5L324.2 80.4L323.7 78.9M325.4 81.5l-1.4 -0.7M325.4 81.5l1.2 -1.6M324.2 80.4l-1.4 -0.2M325.5 82.9L325.8 81.5L326.6 79.3L327.3 78.0M325.8 81.5l-1.0 -1.4M325.8 81.5l1.3 -0.7M326.6 79.3l1.6 -0.7M325.5 82.9L326.9 81.9L329.3 81.8L330.4 81.2M326.9 81.9l0.3 -1.4M326.9 81.9l1.3 0.8M329.3 81.8l0.3 -2.0M329.3 81.8l1.2 0.5M325.5 82.9L326.6 83.8L328.5 83.9L330.3 84.9M325.5 82.9L326.4 84.6L327.1 86.2L328.0 88.0M326.4 84.6l2.0 0.1M327.1 86.2l-0.4 2.1M325.5 82.9L325.0 84.7L324.7 86.6L324.5 88.5M325.0 84.7l0.8 0.8M324.7 86.6l1.0 1.4M324.7 86.6l-1.9 0.4M328.2 87.6Q327.1 88.8 325.5 88.4M322.8 87.6Q320.9 87.5 320.4 85.8M320.5 82.9Q320.1 81.4 321.1 80.3M323.1 78.7Q324.0 77.5 325.5 77.8M325.5 77.3Q327.1 76.9 328.3 78.1M328.4 86.5l1.3 1.2M325.6 82.9l0.7 1.7M322.6 84.3l-1.8 -0.5M325.9 83.9l-1.3 0.9M323.7 83.7l-0.8 -0.4M328.4 84.1l0.7 -0.4M323.8 81.5l0.2 1.5M328.7 82.7l-1.1 -0.5M323.2 83.2l0.2 -1.6M320.9 82.4l1.2 -0.5M329.4 81.8l0.3 -1.3M326.1 78.0l-0.3 1.2M322.1 86.3l-0.9 1.2M325.4 84.4l1.1 -0.1M330.4 83.1l-0.5 1.3M328.4 81.8l1.1 -0.3M327.3 81.9l0.4 -1.4M326.8 83.0l-0.6 -1.5M323.6 86.1l-0.2 1.2M322.8 80.6l-1.0 0.6M324.1 80.7l0.9 -0.4M322.6 79.1l0.1 1.0M328.5 86.9l0.7 0.6M321.9 86.3l1.1 0.0M321.6 83.5l1.1 1.5M324.8 87.4l-0.5 1.0M324.9 82.4l-0.2 1.6M323.3 87.4l-0.3 1.2M329.1 84.0l-0.9 0.8M326.4 81.3l-0.5 -1.3M325.3 81.4l-1.4 1.3M325.8 87.3l0.0 -1.5M326.4 79.8l-0.5 0.9M324.6 82.2l-0.1 1.0M325.7 81.7l-0.3 1.8M327.7 78.2l0.3 1.9M328.0 79.3l1.0 -0.6M328.2 80.9l-0.2 0.9M324.5 82.5l-0.7 1.8M325.1 83.2l-0.4 -1.5M322.6 78.8l1.4 -1.4M321.4 79.8l-1.2 0.9M325.4 85.5l-1.3 -0.2M328.4 84.6l1.2 -0.1M323.3 86.0l-1.6 -0.6M321.3 79.7l1.1 -0.5M323.5 86.1l0.9 -0.2M325.8 80.3l0.1 0.9" fill="none" stroke="#a2a2a2" stroke-width="0.45"/>
<path d="M424.7 73.9L423.4 75.0L422.4 76.1L421.5 77.3M423.4 75.0l0.9 1.9M423.4 75.0l-1.1 -0.1M422.4 76.1l0.5 2.1M422.4 76.1l-1.9 -0.2M424.7 73.9L422.9 74.5L421.7 75.0L420.0 74.8M422.9 74.5l-0.5 1.3M422.9 74.5l-1.2 -1.0M421.7 75.0l-0.2 1.3M424.7 73.9L423.2 72.8L421.9 71.7L420.2 70.9M423.2 72.8l-1.6 0.9M423.2 72.8l0.1 -1.2M421.9 71.7l-2.0 0.3M421.9 71.7l0.3 -1.4M424.7 73.9L424.8 72.1L424.4 70.4L424.0 69.1M424.8 72.1l1.3 -1.6M424.4 70.4l-1.4 -0.6M424.4 70.4l0.9 -0.6M424.7 73.9L425.8 72.6L426.9 72.2L428.0 70.8M425.8 72.6l0.3 -1.6M425.8 72.6l1.6 0.7M426.9 72.2l-0.5 -2.1M426.9 72.2l1.7 0.8M424.7 73.9L426.1 73.7L428.5 73.4L430.0 73.2M426.1 73.7l0.9 -1.2M426.1 73.7l1.2 1.7M428.5 73.4l1.2 1.7M424.7 73.9L425.8 74.4L427.5 75.8L428.7 76.4M425.8 74.4l1.0 -0.5M425.8 74.4l0.4 1.3M427.5 75.8l-0.1 1.8M424.7 73.9L424.2 75.5L424.6 77.5L424.4 78.8M424.2 75.5l-1.6 0.6M424.6 77.5l0.8 0.7M430.0 73.9Q430.3 75.5 429.1 76.8M428.9 76.6Q428.3 78.1 426.7 78.3M427.1 79.1Q425.6 80.1 423.9 79.4M424.0 78.6Q422.5 78.8 421.5 77.6M419.4 75.5Q418.6 73.9 419.7 72.4M419.9 72.5Q420.1 70.9 421.6 70.3M423.9 68.4Q425.6 67.8 426.9 69.1M426.7 69.5Q428.1 69.9 428.5 71.4M424.9 74.6l1.5 -0.2M426.8 75.2l0.8 0.1M423.7 75.5l0.6 0.9M427.6 76.9l1.1 1.3M422.8 71.9l-0.4 1.6M424.6 74.4l0.8 -0.9M425.7 77.9l1.0 0.8M428.1 74.7l-1.3 -0.2M424.9 70.8l1.0 -0.8M425.1 71.0l0.1 -1.4M422.5 77.3l-0.2 -1.5M423.2 78.5l1.7 0.7M426.0 70.1l-0.0 -1.7M426.8 71.5l-1.0 -0.9M426.5 75.1l0.1 1.2M422.5 71.8l1.4 -0.4M428.9 74.2l-0.5 -1.4M422.0 77.6l-0.9 -1.1M420.5 75.8l0.8 -1.6M420.9 73.9l-0.4 -1.4M429.4 71.8l-1.6 0.0M426.1 72.9l-0.6 -0.6M425.0 73.5l0.3 -1.5M424.8 77.2l-1.9 0.2M428.7 75.0l0.2 0.9M427.5 69.9l1.2 -0.6M427.4 75.0l-0.0 1.2M423.0 76.7l-0.3 -1.8M426.0 71.0l-0.3 1.1M428.6 76.4l1.8 0.9M421.7 75.8l0.3 -1.9M425.8 70.9l1.3 1.4M422.2 76.1l0.9 0.1M427.1 76.1l-1.1 -1.7M424.8 71.1l-1.3 -0.8M420.1 74.3l0.5 -0.9M420.5 73.1l0.3 1.0M421.4 70.1l-1.4 0.0M421.5 70.3l0.3 1.9M425.6 69.2l-0.4 -1.6M427.6 73.5l-0.2 -1.0M420.5 76.0l1.7 0.7M422.5 75.1l1.2 0.8M426.4 70.5l1.8 -0.5" fill="none" stroke="#a2a2a2" stroke-width="0.45"/>
<path d="M441.5 85.4L440.4 83.8L439.8 82.4L438.9 80.8L437.8 79.3L437.1 78.1M440.4 83.8l0.5 -1.9M439.8 82.4l-1.7 0.2M439.8 82.4l1.1 -2.1M438.9 80.8l-1.7 -0.1M437.8 79.3l0.7 -2.0M441.5 85.4L441.8 83.1L441.7 82.0L442.3 79.7L442.7 78.1M441.8 83.1l0.9 -0.4M441.7 82.0l-1.3 -1.0M441.7 82.0l1.9 -0.5M442.3 79.7l1.6 -1.0M441.5 85.4L442.5 84.7L444.2 82.9L445.6 82.4L446.3 81.5M442.5 84.7l-0.1 -2.0M442.5 84.7l1.6 0.3M444.2 82.9l-0.6 -2.1M445.6 82.4l2.2 0.4M441.5 85.4L443.5 85.6L444.7 86.0L447.1 86.4L448.8 87.0M443.5 85.6l0.3 1.1M444.7 86.0l1.3 -0.8M441.5 85.4L442.6 86.7L444.6 87.8L446.0 89.1L447.4 90.3M442.6 86.7l0.2 1.8M446.0 89.1l1.2 -0.4M446.0 89.1l-0.0 1.3M441.5 85.4L442.1 87.1L442.6 88.8L443.1 90.6L443.5 92.3M442.1 87.1l-1.5 1.8M442.6 88.8l1.5 0.8M443.1 90.6l1.5 0.4M443.1 90.6l-0.8 0.8M441.5 85.4L440.8 86.6L439.8 88.1L438.7 89.6L438.0 91.0M440.8 86.6l0.5 1.3M439.8 88.1l0.2 1.3M438.7 89.6l-1.3 -0.3M441.5 85.4L439.7 85.4L438.3 85.9L436.7 86.4L435.0 86.4L433.5 86.6M439.7 85.4l-0.5 1.3M439.7 85.4l-0.7 -0.9M438.3 85.9l-0.8 -0.6M436.7 86.4l-1.1 -1.3M435.0 86.4l-1.1 1.7M435.0 86.4l-1.6 -1.7M441.5 85.4L439.7 84.6L438.6 84.3L436.6 83.4L435.0 82.7M439.7 84.6l-1.1 1.0M439.7 84.6l-0.2 -1.3M438.6 84.3l-1.8 1.1M438.6 84.3l-0.4 -1.3M436.6 83.4l-1.6 0.7M436.6 83.4l-0.6 -1.3M448.8 85.4Q450.3 87.6 448.8 89.2M445.9 91.7Q444.7 93.7 442.5 93.4M433.9 87.3Q432.2 85.4 433.3 83.4M433.1 83.3Q433.0 81.0 436.2 80.7M436.0 80.5Q436.9 78.7 438.9 78.5M438.8 78.2Q440.3 75.9 442.6 76.8M442.5 77.2Q444.7 76.9 445.7 79.3M442.4 89.9l0.3 1.1M444.9 88.2l-0.7 1.8M436.1 80.5l1.9 -0.5M443.8 86.1l-0.7 1.2M449.4 86.7l-0.5 -1.7M441.9 81.3l0.6 -0.7M435.1 86.5l0.1 -1.0M448.0 85.9l1.3 0.3M437.2 87.4l0.5 1.9M436.3 85.5l-1.2 1.4M444.5 84.0l0.7 1.7M437.3 82.3l0.2 1.8M442.3 81.7l-1.0 -1.6M444.0 77.9l0.8 1.6M442.5 83.0l0.9 -0.5M442.1 83.9l-1.0 1.3M448.3 82.8l-1.8 -0.2M442.5 77.8l-1.3 1.4M445.7 82.4l-1.0 0.9M442.7 86.3l1.2 -0.6M434.7 86.5l-0.2 -1.4M440.3 88.2l-0.7 -0.7M448.7 88.3l-1.7 -0.7M445.7 90.8l1.3 1.0M445.7 88.4l1.1 1.1M441.2 86.6l1.0 -0.4M448.8 86.6l0.3 0.8M435.3 82.6l0.2 -1.8M446.8 89.7l-0.8 0.2M436.4 90.4l-1.8 0.4M435.2 80.5l-1.4 1.2M443.1 92.6l-1.9 0.6M448.3 81.3l-1.0 0.1M443.6 92.7l-1.0 -0.8M436.6 90.9l-1.3 1.3M448.3 85.3l0.7 0.7M434.9 85.5l1.1 -0.8M439.8 85.7l0.0 1.8M446.2 80.0l1.1 0.9M445.0 84.9l0.9 1.3M443.6 91.9l-0.8 -0.5M441.1 87.2l1.2 0.6M447.4 82.4l-0.1 1.4M438.8 91.5l-0.5 1.2M436.8 91.0l0.1 -1.0M440.4 89.7l0.1 1.0M443.5 80.8l-1.1 -1.7M440.0 89.6l0.1 1.4M442.4 82.7l-0.8 0.4M436.4 87.8l0.4 1.1M448.1 85.3l-0.9 -0.7M440.8 86.7l0.1 1.3M440.5 90.7l1.0 1.6M440.3 77.7l1.3 -0.6M435.1 87.9l-0.9 -1.6M443.5 79.0l-0.9 -0.8M447.2 81.1l0.1 1.0M441.5 86.1l0.4 0.9M440.2 88.4l1.0 1.7M443.6 85.6l1.1 -0.6M438.6 91.7l0.8 0.1M448.8 87.8l-1.0 0.4M436.9 89.9l0.4 -1.0M447.3 84.7l-1.9 -0.4M442.8 84.2l-1.5 1.3M441.3 92.1l0.1 -1.0M441.2 79.6l0.4 0.8M444.3 92.2l0.1 -1.4M443.8 82.7l-0.8 0.8M449.1 84.9l-1.0 1.7M442.2 82.9l-0.9 -0.6M439.4 90.0l-0.6 -1.2M438.9 80.9l-0.5 0.7M445.2 81.2l0.1 1.1M445.5 91.9l1.1 -0.3M440.9 81.8l1.1 -0.9M444.4 88.4l1.6 0.1M438.8 91.7l-1.7 0.3M438.7 79.3l0.9 -0.5M436.0 79.8l-0.7 1.5M437.7 87.7l0.8 -1.6M443.7 79.6l0.8 -0.9M443.5 84.6l1.2 0.5M439.0 84.8l0.2 -0.8M436.9 88.6l-0.9 -1.6M447.6 87.8l-0.8 1.1M443.5 82.9l-0.8 0.9M437.9 84.5l0.3 -0.9M439.9 90.8l1.2 0.5M436.7 81.2l1.6 -0.0M440.4 77.8l-0.7 -1.7M441.7 78.0l-0.5 1.0M448.9 86.6l-1.4 1.2M437.2 85.5l-0.9 1.3M448.3 88.1l-1.5 1.0M446.6 84.7l-0.2 1.4M443.8 82.9l-1.8 0.2" fill="none" stroke="#a2a2a2" stroke-width="0.45"/>
<path d="M465.1 76.0L463.9 74.7L463.6 72.5L462.6 71.0L461.6 69.8L460.8 67.9L459.6 65.9M463.9 74.7l-2.3 -0.4M463.9 74.7l1.1 -1.5M463.6 72.5l0.5 -2.1M462.6 71.0l-1.3 -0.4M462.6 71.0l1.2 -1.6M461.6 69.8l-1.5 -0.2M461.6 69.8l0.6 -1.9M460.8 67.9l-1.1 -0.1M460.8 67.9l1.3 -1.9M465.1 76.0L465.7 74.5L466.0 72.5L465.9 71.5L466.5 70.1L466.8 68.0L467.2 66.9L467.8 64.8M465.7 74.5l-0.7 -0.7M466.0 72.5l-1.7 -1.5M466.0 72.5l1.9 -0.7M465.9 71.5l-1.4 -1.8M465.9 71.5l1.0 -0.3M466.5 70.1l-1.3 -0.9M466.8 68.0l-1.0 -1.3M467.2 66.9l-0.8 -1.6M467.2 66.9l1.6 -0.5M465.1 76.0L466.2 74.5L467.4 73.1L468.7 72.4L470.1 70.9L471.2 69.5L472.8 68.8M466.2 74.5l-0.6 -2.3M466.2 74.5l1.2 0.4M467.4 73.1l1.1 0.0M468.7 72.4l-0.4 -1.5M468.7 72.4l1.3 0.4M470.1 70.9l2.1 0.9M471.2 69.5l-0.8 -2.1M465.1 76.0L466.6 75.7L468.4 75.8L469.9 75.3L471.5 74.9L473.0 74.7L475.1 74.5M466.6 75.7l1.9 1.5M468.4 75.8l1.0 -1.4M469.9 75.3l0.6 -0.9M469.9 75.3l1.6 1.5M471.5 74.9l0.5 -1.1M471.5 74.9l1.6 1.1M473.0 74.7l1.3 1.8M465.1 76.0L466.4 77.1L468.0 78.1L468.9 79.8L470.8 80.6L472.1 81.3L473.4 82.9M466.4 77.1l2.0 -0.3M468.0 78.1l-0.2 1.5M468.9 79.8l1.9 -0.1M468.9 79.8l0.0 1.7M470.8 80.6l-0.2 1.9M465.1 76.0L465.6 77.6L467.1 79.6L467.6 81.0L468.8 82.1L469.7 84.4L470.1 85.6M465.6 77.6l2.4 -0.2M465.6 77.6l-0.5 1.1M467.1 79.6l2.3 0.6M467.6 81.0l1.9 0.1M467.6 81.0l-0.7 0.9M468.8 82.1l2.2 0.7M469.7 84.4l2.1 0.7M465.1 76.0L464.6 77.5L464.1 78.7L463.6 80.3L462.6 82.3L461.7 83.3L461.7 84.9L461.2 86.6M464.6 77.5l0.8 1.3M464.6 77.5l-1.7 0.2M464.1 78.7l0.9 0.9M464.1 78.7l-1.7 0.1M463.6 80.3l0.6 1.0M463.6 80.3l-1.2 0.5M462.6 82.3l1.1 1.3M461.7 83.3l0.7 1.3M461.7 83.3l-1.4 0.2M461.7 84.9l0.7 1.3M461.7 84.9l-1.0 0.1M465.1 76.0L463.6 77.4L462.5 78.9L461.0 79.7L459.0 80.8L458.3 82.3M463.6 77.4l0.1 1.5M463.6 77.4l-1.7 -0.2M462.5 78.9l-0.1 1.2M462.5 78.9l-1.9 -0.4M461.0 79.7l-2.1 -0.6M459.0 80.8l0.2 1.2M459.0 80.8l-1.4 -0.5M465.1 76.0L462.9 75.9L461.3 76.0L459.2 76.4L457.7 75.9L455.3 76.3M461.3 76.0l-0.7 1.9M461.3 76.0l-1.0 -1.3M459.2 76.4l-1.4 1.4M457.7 75.9l-0.8 1.3M457.7 75.9l-1.5 -1.9M465.1 76.0L463.2 75.2L461.6 74.3L460.4 73.1L458.8 72.5L457.3 71.3M463.2 75.2l-1.5 0.7M461.6 74.3l-1.1 0.4M461.6 74.3l-0.3 -1.3M460.4 73.1l-2.2 0.8M460.4 73.1l-0.3 -1.7M458.8 72.5l-2.2 0.4M458.8 72.5l0.3 -1.9M473.9 79.9Q473.8 82.3 471.6 83.3M460.2 84.4Q457.3 84.6 456.6 82.2M463.9 64.3Q466.4 63.2 468.1 66.7M468.5 65.7Q471.6 64.8 472.9 67.3M474.5 71.8Q476.5 73.6 475.7 76.0M462.0 67.5l-1.3 1.2M466.1 84.2l0.4 1.0M471.4 68.6l0.8 1.3M467.8 77.1l-0.6 -1.3M458.6 78.8l-1.2 0.4M470.4 73.7l1.4 0.6M462.1 79.4l0.9 0.3M473.4 77.7l-1.3 0.8M471.6 80.9l-1.1 0.6M471.5 68.8l-1.5 -1.0M472.0 75.0l-0.4 -1.8M463.6 71.9l-0.8 -1.4M466.5 86.1l1.1 1.0M470.1 75.0l1.2 -0.7M457.8 69.6l1.3 -0.8M470.0 75.8l-0.1 0.9M459.6 68.2l0.7 -0.8M470.1 66.9l-0.5 -0.6M458.5 82.8l0.8 0.9M460.9 85.6l-1.8 0.4M458.8 82.6l-0.7 1.3M463.9 68.2l-0.6 -0.8M468.3 66.4l-1.0 -0.0M469.8 70.5l-0.2 1.2M464.6 67.0l0.6 -1.1M466.3 85.2l1.5 0.5M468.9 72.3l-0.5 1.1M474.9 77.7l1.2 -0.2M464.0 77.9l0.8 0.8M458.0 73.1l0.7 1.9M468.3 78.6l-0.1 0.8M470.8 84.4l1.5 0.2M469.7 80.3l-1.0 0.2M462.1 75.9l0.1 1.2M472.7 75.7l-1.2 -0.9M459.3 77.4l-0.2 1.8M470.5 67.1l-1.4 0.9M466.6 70.3l1.0 -0.3M468.2 75.9l-1.6 -0.8M468.4 66.6l0.9 0.7M469.7 71.3l-0.1 -1.1M466.3 72.1l0.6 -0.6M469.8 80.0l-0.7 0.3M468.3 81.9l1.8 0.7M468.9 74.1l-0.2 -1.2M460.5 80.8l-0.2 1.5M461.8 73.9l-1.0 0.1M462.6 86.3l-1.2 -1.2M457.0 71.6l-1.3 0.3M473.7 79.6l-1.7 -0.7M457.9 76.8l-0.6 -1.6M460.1 72.3l0.6 -1.4M470.0 75.9l-0.9 1.3M464.1 73.7l-1.8 -0.6M470.2 76.7l-0.6 1.2M461.8 84.3l0.2 -1.8M467.0 75.8l1.0 0.4M466.1 73.1l1.1 -0.3M473.0 74.2l0.1 -1.1M471.5 72.3l1.0 -1.0M472.5 79.5l-1.4 1.1M465.8 78.0l-0.8 -0.3M465.2 71.4l0.5 1.3M454.8 74.3l-0.3 -0.8M457.4 74.5l-1.4 0.1M463.0 74.2l-1.0 1.3M469.7 73.1l-1.7 0.4M463.5 83.6l-1.0 0.4M460.0 82.0l-0.2 2.0M454.5 75.3l-1.6 -0.7M457.7 80.4l-1.8 -0.0M462.8 77.5l1.3 0.7M463.5 76.7l0.8 0.9M466.2 86.6l-1.2 1.3M465.8 80.9l-1.3 0.7M464.9 80.9l1.0 0.4M459.5 72.2l-0.4 1.4M463.3 85.4l-0.3 -1.7M464.5 65.6l-1.0 -1.2M470.3 71.9l0.5 1.1M461.3 75.8l1.3 -0.9M466.1 75.1l1.0 0.4M472.5 77.0l0.4 -1.6M458.7 67.6l-1.0 0.5M460.9 71.6l0.5 -0.9M460.5 69.7l0.2 1.6M461.8 80.7l0.5 1.9M464.3 78.0l-1.1 -0.9M460.0 75.8l-1.4 0.3M468.7 82.2l-0.4 -1.1M460.2 84.3l0.7 -0.8M473.6 74.5l-0.5 1.7M473.1 76.2l-1.1 -0.7M466.0 73.3l-0.6 -1.8M462.6 79.0l-1.1 -0.6M462.5 78.8l-1.3 0.6M458.8 79.4l-1.6 -0.0M459.8 76.7l1.0 -1.4M473.7 71.8l-1.8 0.1M459.2 83.6l0.1 -1.4M469.5 82.9l-0.1 -1.2M458.1 74.9l0.1 -2.0M460.1 67.3l-0.4 1.4M460.0 82.8l1.0 -0.6M472.8 74.7l0.3 1.3M474.6 71.9l-1.5 0.6M472.1 80.2l1.6 -0.9M467.4 86.1l-1.7 -0.5M471.3 68.2l1.5 0.5M469.1 80.9l-0.9 -0.0M459.7 78.4l-1.0 0.7M457.6 75.6l0.6 0.9M471.3 76.8l-1.9 -0.3M469.1 72.4l-0.9 1.0M456.2 79.4l-1.9 0.0M462.4 77.0l-0.4 1.3M462.1 68.6l-0.5 1.8M466.9 65.6l-1.4 -1.1M463.3 74.3l-1.1 0.4M458.8 82.3l0.7 -0.6M459.6 76.9l0.6 0.7M464.4 84.9l1.1 1.2M457.5 69.5l-0.8 -0.8M467.3 65.9l0.5 -1.4M460.0 76.9l-1.2 1.0M466.3 79.9l-0.9 -0.3M460.9 74.9l-1.7 0.6M455.1 72.3l-0.8 -1.0M459.1 81.9l1.0 -1.0M460.5 78.6l0.5 -0.7M465.1 65.2l-1.1 -0.0M462.1 80.5l-0.2 -1.5M459.5 81.2l-0.9 0.5M462.7 69.8l1.9 0.2M463.7 76.5l-0.4 1.4M460.7 72.7l1.8 0.5M472.2 68.5l-0.3 -0.9M457.5 72.0l0.4 -1.3M461.7 84.9l1.0 0.2M460.1 85.5l0.7 0.8M468.9 66.2l-0.8 0.3M474.8 76.2l-0.0 -1.3M471.5 76.6l-1.0 -1.6M470.3 70.9l0.5 1.1M467.9 82.5l1.4 -0.1M464.9 75.8l0.7 1.0M459.9 84.3l-0.2 1.8M470.4 74.3l0.9 0.2M457.1 68.8l-1.7 -0.6M469.1 71.7l-0.3 1.8M471.2 71.5l1.7 -0.4M461.1 77.0l1.1 -0.7M460.3 77.0l0.6 0.7M473.4 76.5l-1.0 0.7M458.9 83.4l-1.5 0.6M460.7 76.6l0.4 1.2M474.2 72.6l1.7 -0.5M463.1 77.0l-0.8 0.9M461.9 69.4l1.5 0.1M465.1 73.4l1.5 -0.6M474.5 74.8l1.0 -0.6M456.7 77.0l-1.3 -0.2M464.4 77.2l1.8 0.3M474.1 79.4l-1.2 -1.4M460.4 68.8l-1.3 0.1M470.4 79.3l-0.4 1.0M460.2 81.1l-0.7 1.9M461.1 79.3l0.5 -1.1M462.9 75.1l-1.0 1.5M462.0 81.4l-1.5 -0.1M468.7 77.5l0.1 -1.1" fill="none" stroke="#a2a2a2" stroke-width="0.45"/>
<path d="M538.2 70.6L539.4 70.0L540.9 69.8L542.9 69.4L544.3 69.1M539.4 70.0l1.7 1.4M540.9 69.8l1.2 -1.8M540.9 69.8l1.2 0.8M542.9 69.4l1.8 1.4M538.2 70.6L539.6 71.2L541.4 72.5L542.8 73.1L544.3 73.6M539.6 71.2l1.6 -1.2M539.6 71.2l0.2 1.3M541.4 72.5l1.5 -0.9M541.4 72.5l0.4 1.4M538.2 70.6L538.7 71.8L539.2 73.5L539.6 75.1L540.4 76.7M538.7 71.8l1.7 0.2M539.2 73.5l1.5 0.5M539.2 73.5l-0.8 1.8M538.2 70.6L537.0 72.2L536.6 73.5L535.8 74.9L535.3 76.5M537.0 72.2l0.7 2.2M537.0 72.2l-1.0 0.1M536.6 73.5l0.4 0.9M535.8 74.9l0.4 1.5M535.8 74.9l-2.0 0.4M538.2 70.6L536.7 71.6L535.6 72.1L533.9 73.6L532.2 73.9M536.7 71.6l-2.1 -0.4M535.6 72.1l0.0 1.2M535.6 72.1l-1.2 -0.6M533.9 73.6l0.2 1.4M533.9 73.6l-1.0 -0.7M538.2 70.6L536.8 69.3L535.0 68.6L533.6 67.7L532.4 67.4M536.8 69.3l-1.3 0.8M536.8 69.3l-0.2 -1.5M535.0 68.6l-1.3 0.6M535.0 68.6l-0.2 -1.2M533.6 67.7l-1.8 0.8M533.6 67.7l-0.0 -1.3M538.2 70.6L537.6 69.2L536.7 67.1L535.6 65.3M537.6 69.2l0.6 -0.9M536.7 67.1l-2.1 -0.3M536.7 67.1l0.7 -1.2M538.2 70.6L538.8 68.5L539.1 66.6L539.6 64.7M538.8 68.5l-1.5 -1.1M538.8 68.5l1.5 -0.3M539.1 66.6l-0.9 -1.6M539.1 66.6l1.1 -0.2M544.4 74.2Q543.7 76.1 541.7 76.6M538.2 77.4Q536.1 78.3 534.6 76.8M534.7 76.6Q532.8 76.0 532.4 74.0M532.9 73.7Q530.7 72.6 531.1 70.6M531.3 70.6Q530.9 68.6 532.2 67.1M532.2 67.1Q532.8 65.2 535.1 65.3M534.6 64.4Q536.2 63.0 538.2 64.3M538.2 64.5Q540.0 63.9 541.4 65.1M544.4 67.0Q546.0 68.5 545.6 70.6M535.8 76.0l-0.4 0.8M534.5 74.0l-1.2 -0.5M538.5 65.0l-1.2 0.7M540.0 75.9l-0.6 -0.7M534.7 71.9l-1.3 0.0M537.3 76.9l0.6 -1.6M537.6 73.7l-0.3 -1.5M541.6 66.5l0.6 0.8M535.7 76.9l-0.9 -0.7M539.2 68.4l0.0 -1.1M538.4 68.5l-0.3 1.7M541.6 70.4l0.8 0.9M535.9 68.3l0.2 -0.9M542.8 68.5l-1.3 1.0M536.6 76.1l1.4 -1.1M539.4 75.1l1.4 1.2M533.1 70.0l-0.7 0.4M540.9 71.7l1.5 -1.2M535.0 67.5l-1.6 -1.1M542.7 75.6l1.4 -0.6M539.2 66.6l1.7 0.4M543.7 73.9l-0.2 2.0M533.3 66.1l0.9 -0.2M540.8 67.1l1.1 0.4M536.0 69.2l1.4 -0.1M543.9 73.1l-1.7 0.9M538.3 77.3l0.6 1.0M543.0 75.1l-0.1 1.2M539.1 66.1l-1.7 -0.2M540.4 66.4l-0.9 1.2M534.6 72.8l0.8 1.7M542.0 69.1l-0.5 -0.8M541.9 65.3l-0.9 -0.6M536.7 76.7l1.6 -1.0M537.2 72.2l1.8 -0.2M535.3 72.2l0.7 -0.5M537.5 68.0l-1.2 1.0M533.8 70.6l-0.9 -1.4M536.2 69.4l1.9 -0.3M536.2 70.3l0.6 1.9M541.1 68.6l-1.6 1.1M536.2 70.3l-1.1 -0.7M539.9 67.3l1.5 1.0M541.1 64.8l-0.8 -1.0M538.4 75.3l-0.1 1.4M539.8 70.6l-1.0 -1.7M543.2 73.5l0.7 0.6M538.2 65.3l-0.8 0.2M539.5 64.1l0.8 1.6M536.2 76.9l-0.8 -0.3M539.4 74.5l1.6 -0.6M538.0 67.2l0.6 0.6M540.2 66.7l1.0 -0.5M534.8 71.9l-1.3 1.0M538.4 75.3l-0.3 1.4M539.1 72.3l0.4 1.0M536.8 70.4l-0.8 -0.8M536.0 76.9l-1.6 0.0M543.2 68.4l0.9 0.3M539.6 71.7l-1.0 1.1M542.0 65.9l-1.2 -0.8M539.2 75.1l0.3 1.2M536.5 68.9l0.0 2.0M538.4 66.7l-0.1 1.1M533.8 69.6l1.0 -0.2M539.2 71.2l0.5 -0.7M540.9 76.6l1.0 -0.6M531.9 72.4l-0.6 0.6M534.1 71.8l1.3 -0.6M532.2 72.6l-1.1 -1.1M536.2 69.3l-0.3 -1.3M539.7 73.1l-1.7 0.9" fill="none" stroke="#a2a2a2" stroke-width="0.45"/>
<path d="M286.8 264.2L285.3 265.1L283.1 265.4L281.3 265.8L280.0 266.3M285.3 265.1l-0.2 1.3M283.1 265.4l-0.5 1.1M281.3 265.8l-0.7 1.7M281.3 265.8l-1.0 -1.0M286.8 264.2L284.9 263.7L282.9 263.5L281.6 262.4L279.4 261.8M284.9 263.7l-0.5 -1.2M282.9 263.5l-1.0 0.9M282.9 263.5l-0.3 -1.3M281.6 262.4l-0.7 -2.2M286.8 264.2L285.6 262.0L284.5 260.8L283.9 258.3M285.6 262.0l-1.1 -0.2M285.6 262.0l0.5 -2.2M284.5 260.8l-2.1 -0.3M284.5 260.8l0.9 -1.8M286.8 264.2L287.5 262.2L287.9 260.6L288.3 259.0L288.9 257.5M287.5 262.2l-0.6 -1.0M287.5 262.2l1.8 -0.7M287.9 260.6l-0.7 -1.6M287.9 260.6l1.8 -0.2M288.3 259.0l-0.6 -0.9M288.3 259.0l1.1 -0.5M286.8 264.2L288.4 263.3L290.2 262.6L291.9 262.0L292.9 261.5M288.4 263.3l0.9 -1.9M288.4 263.3l0.9 0.4M290.2 262.6l0.5 -1.7M290.2 262.6l1.3 0.7M286.8 264.2L288.3 264.5L290.9 265.1L292.6 265.3L294.6 265.4M288.3 264.5l0.8 -1.0M290.9 265.1l1.0 -1.6M290.9 265.1l0.9 1.3M292.6 265.3l1.0 -1.7M286.8 264.2L287.8 265.7L288.6 267.1L289.5 268.4L290.9 270.0M287.8 265.7l-0.3 1.0M288.6 267.1l1.5 0.3M289.5 268.4l-1.0 1.9M286.8 264.2L286.9 266.1L286.1 267.8L286.6 269.9L286.2 272.1M286.9 266.1l0.9 1.0M286.1 267.8l1.6 1.0M286.1 267.8l-1.4 0.9M286.6 269.9l1.0 0.8M286.6 269.9l-1.3 0.6M286.8 264.2L285.8 265.8L284.3 267.5L283.7 268.6L282.1 270.8M285.8 265.8l0.5 1.0M284.3 267.5l0.4 1.9M284.3 267.5l-2.3 0.3M283.7 268.6l0.5 2.1M292.8 267.4Q292.8 269.5 290.9 270.2M290.7 269.9Q289.6 271.6 287.7 271.4M284.2 271.0Q282.3 270.8 281.5 268.9M281.3 269.1Q279.3 268.2 279.3 266.0M281.0 259.1Q281.9 257.1 284.0 256.9M284.4 257.9Q285.9 256.7 287.6 257.4M287.7 256.7Q289.7 256.5 290.9 258.2M290.8 258.4Q293.6 258.2 294.1 260.4M293.0 260.9Q295.3 262.1 294.7 264.2M285.9 269.6l0.6 0.8M281.8 266.6l1.0 -0.6M290.3 259.6l0.2 -1.6M282.6 258.4l0.8 -1.4M284.1 262.0l-0.1 -1.6M291.7 265.0l-1.5 -0.9M281.0 259.9l-1.1 0.1M288.1 261.1l1.3 0.2M283.4 266.6l0.9 -0.0M285.8 257.7l1.0 0.4M288.7 267.8l-1.3 1.2M279.8 261.2l-1.4 0.5M282.8 262.8l-0.5 1.3M282.0 262.5l-1.4 -0.6M283.8 268.1l-1.1 0.9M285.7 262.9l-0.6 -0.8M283.2 257.9l0.7 -1.1M286.6 271.7l-1.4 -0.3M282.6 264.8l0.8 -0.3M290.5 269.7l-1.6 -0.4M289.4 259.4l0.2 -0.8M286.4 260.5l-0.4 -1.4M287.5 265.7l-0.6 1.3M286.8 270.7l-1.0 -1.2M289.6 260.5l0.2 1.7M287.1 260.5l-1.1 0.4M281.8 269.1l0.3 -1.4M286.2 266.0l0.2 0.9M286.0 263.7l-1.6 0.0M291.3 265.1l1.1 -1.3M280.5 267.2l-0.1 1.9M284.7 263.6l0.9 0.8M292.3 259.2l-0.9 -0.0M291.3 261.1l0.5 -0.7M282.9 264.5l1.2 0.4M286.3 269.9l0.1 -1.9M282.9 263.8l-0.2 -1.0M281.8 261.8l0.8 -1.3M285.3 257.2l1.1 1.3M281.8 262.3l-1.5 0.1M282.4 266.5l0.7 -0.8M283.7 267.6l0.9 0.0M292.0 263.9l-1.0 -0.4M286.5 265.7l1.1 -0.4M281.3 259.9l1.6 1.1M291.8 265.3l1.2 -1.0M284.9 265.5l-0.9 0.5M290.5 259.4l-0.6 -0.9M281.2 259.1l1.0 1.5M290.4 257.7l1.4 -0.1M288.3 263.2l-0.9 -1.8M283.0 257.6l1.5 1.1M284.9 265.3l-0.9 0.5M286.1 259.9l0.9 1.3M288.9 266.9l1.0 -0.5M286.4 263.8l-1.5 -0.2M284.9 271.5l-1.6 -0.7M284.2 261.9l-0.7 1.8M287.4 265.7l-0.1 -0.9M283.4 269.4l-0.9 -1.3M292.6 261.6l0.4 0.8M290.9 265.4l-1.4 1.4M284.3 266.7l1.6 0.4M281.9 263.3l1.0 -0.5M287.0 270.3l1.8 -0.8M291.1 262.4l0.4 0.8M285.0 268.6l0.4 1.1M284.8 267.2l-0.3 -1.0M290.1 259.4l-0.9 -0.0M289.5 266.9l-0.4 1.6M280.7 266.1l1.4 0.4M279.7 266.6l-1.4 -0.4M291.7 262.5l1.2 0.6M292.8 268.6l1.3 -0.7M291.2 261.6l1.0 -0.2M290.2 265.6l-0.8 1.2M284.2 260.5l0.8 0.1M284.9 268.9l-1.3 0.8M292.3 265.9l0.7 0.4M293.0 261.8l0.7 -1.1M280.9 261.0l0.8 0.4M280.2 263.5l-0.8 -1.0M287.6 268.1l-1.4 -0.0M281.2 265.1l-0.1 -0.9M289.2 271.0l-1.0 0.6M287.5 264.5l1.4 0.0M285.0 262.0l-1.7 -0.8M285.9 267.8l-0.5 -1.7M292.8 260.7l0.5 -0.7" fill="none" stroke="#a2a2a2" stroke-width="0.45"/>
<path d="M312.8 259.0L311.0 258.7L308.9 258.5L307.1 258.5L305.3 258.7L303.6 258.4L301.9 258.0L300.0 257.9M311.0 258.7l-0.7 -1.1M308.9 258.5l-0.6 1.0M308.9 258.5l-0.7 -1.7M307.1 258.5l-1.5 1.4M307.1 258.5l-1.0 -1.1M305.3 258.7l-0.7 -1.8M303.6 258.4l-0.7 1.3M303.6 258.4l-0.6 -1.0M301.9 258.0l-1.6 1.3M312.8 259.0L311.2 258.3L309.6 257.5L308.4 256.3L306.2 255.8L305.0 255.2L303.3 254.5M309.6 257.5l-1.4 1.2M308.4 256.3l0.2 -2.2M306.2 255.8l-1.3 0.9M306.2 255.8l-0.3 -1.4M305.0 255.2l-2.0 0.9M305.0 255.2l-0.7 -2.0M312.8 259.0L312.5 256.8L311.7 255.8L311.8 253.7L311.6 251.6L311.1 250.0L310.1 248.7L310.4 246.3M312.5 256.8l-2.3 -0.4M312.5 256.8l1.8 -1.4M311.7 255.8l-1.2 -0.3M311.7 255.8l1.5 -1.8M311.8 253.7l-1.5 -0.8M311.6 251.6l-1.1 -0.2M311.6 251.6l0.7 -1.1M311.1 250.0l1.1 -1.3M310.1 248.7l-1.9 -0.3M312.8 259.0L313.3 257.5L313.3 255.9L314.0 254.2L314.2 252.1L314.4 250.9L314.4 249.2L314.6 247.6M313.3 257.5l-0.7 -1.3M313.3 255.9l-1.2 -1.2M313.3 255.9l1.5 -0.7M314.0 254.2l1.8 -1.4M314.2 252.1l1.9 -1.3M314.4 250.9l-1.2 -1.5M314.4 249.2l-0.8 -1.4M312.8 259.0L314.4 258.3L315.3 257.5L316.8 256.3L318.3 255.1L319.6 254.5L321.5 253.6L322.7 253.1M314.4 258.3l-0.0 -1.9M314.4 258.3l1.2 0.8M315.3 257.5l-0.2 -1.7M316.8 256.3l0.3 -1.6M316.8 256.3l1.5 0.6M318.3 255.1l0.4 -2.0M318.3 255.1l2.1 0.6M319.6 254.5l-0.3 -2.5M319.6 254.5l2.2 0.8M321.5 253.6l0.5 -1.8M312.8 259.0L314.4 259.5L316.5 259.3L318.3 259.5L319.5 259.9L321.7 260.2L323.5 260.6L325.2 260.8M314.4 259.5l1.1 -1.0M314.4 259.5l0.9 1.5M316.5 259.3l1.2 -1.4M316.5 259.3l1.5 2.0M319.5 259.9l1.2 1.7M321.7 260.2l0.9 1.9M323.5 260.6l0.7 1.8M312.8 259.0L314.1 260.6L315.4 261.3L316.2 263.1L317.5 264.0L318.5 265.3L319.4 266.4M315.4 261.3l2.3 -0.5M315.4 261.3l-0.2 1.8M316.2 263.1l2.1 -0.5M316.2 263.1l-0.9 2.3M317.5 264.0l1.1 -0.2M318.5 265.3l2.1 -0.1M318.5 265.3l-0.2 1.2M312.8 259.0L312.9 260.9L313.6 262.4L313.6 264.1L313.7 265.3L314.4 267.1L314.4 268.4L314.6 270.7M312.9 260.9l1.5 0.6M312.9 260.9l-1.6 1.9M313.6 262.4l-1.4 1.1M313.7 265.3l1.3 0.6M314.4 267.1l2.3 0.7M314.4 267.1l-0.8 0.7M314.4 268.4l1.4 1.1M312.8 259.0L312.5 260.5L312.3 262.8L311.9 264.3L311.9 266.4L311.1 267.9L311.4 269.9L310.5 271.8M312.5 260.5l1.3 0.9M312.3 262.8l-1.0 0.5M311.9 264.3l-1.6 1.0M311.9 266.4l-1.3 0.7M311.1 267.9l-2.0 0.4M311.4 269.9l-1.2 0.7M312.8 259.0L311.0 260.1L310.0 261.0L308.4 261.3L306.6 262.6L305.0 263.0L304.0 264.4M311.0 260.1l-0.6 2.4M311.0 260.1l-2.1 -1.2M310.0 261.0l-0.5 1.8M310.0 261.0l-1.4 -1.1M308.4 261.3l-1.3 -0.4M306.6 262.6l-0.3 2.4M306.6 262.6l-1.4 -0.5M305.0 263.0l-1.1 -0.6M324.8 259.0Q326.5 261.9 324.4 264.2M316.1 269.0Q314.3 273.2 311.4 271.9M311.5 271.6Q308.5 272.2 306.9 269.2M302.1 261.3Q298.4 259.0 300.0 256.3M301.5 256.6Q300.0 253.3 302.5 251.5M302.4 251.4Q303.2 248.3 306.2 247.6M311.5 246.3Q314.3 244.7 316.8 246.6M316.2 248.5Q319.5 247.4 321.0 249.9M320.3 250.7Q322.7 251.8 322.8 254.5M324.1 254.0Q326.1 256.2 323.8 259.0M308.8 265.7l1.6 -0.1M311.8 265.2l1.2 -0.9M304.0 256.8l0.3 0.8M314.5 267.6l1.1 -0.9M319.3 255.7l-1.0 -1.5M309.3 249.0l0.4 -1.2M310.9 267.7l0.7 -1.1M309.4 252.2l0.8 0.3M318.4 268.9l-1.0 -0.7M313.4 267.2l-0.5 -0.6M314.9 253.4l-0.3 -1.4M319.0 259.3l1.3 1.4M305.1 268.1l-0.6 -1.2M302.9 264.0l0.6 -0.6M304.8 266.1l1.0 -0.1M309.3 256.4l-1.0 0.1M309.0 261.8l0.3 -1.5M316.6 268.3l-0.7 -0.5M313.5 259.2l1.4 1.2M301.5 256.0l-0.5 1.2M304.6 252.2l-1.5 0.3M321.1 256.1l0.7 1.5M315.4 257.5l0.8 -1.7M311.5 254.0l-0.5 1.2M304.7 265.0l0.9 -0.2M317.4 264.8l1.3 -0.7M303.2 260.6l-0.4 0.7M307.5 264.7l-1.5 0.6M314.4 264.7l1.2 1.2M317.9 269.9l-0.0 1.0M305.4 257.1l0.9 -0.6M318.1 255.3l1.3 1.4M316.1 247.6l0.5 1.4M302.1 258.8l-0.0 1.6M307.5 250.0l0.4 0.8M311.2 252.4l-2.0 0.1M315.8 253.4l1.0 0.3M312.0 256.2l1.2 -0.4M317.8 263.2l0.2 1.2M308.9 256.9l-0.7 0.5M303.6 263.5l-1.5 1.1M315.2 252.7l1.2 1.5M315.4 256.2l1.2 -0.1M307.1 251.8l0.6 -0.9M303.7 263.6l1.6 0.2M301.8 262.6l-1.2 0.8M304.9 250.0l0.6 -1.6M311.8 257.6l1.6 -0.2M307.7 256.6l1.3 -0.2M318.9 257.1l-0.2 -1.2M320.0 261.9l1.4 1.1M308.4 249.3l1.2 -0.1M310.1 247.4l1.4 0.1M302.4 257.1l-0.5 1.9M307.9 265.5l-1.1 -0.4M309.7 252.6l1.0 0.1M310.8 263.8l-0.9 0.2M322.7 264.9l1.4 0.9M312.7 266.3l-0.7 -0.4M307.0 259.5l1.3 -0.2M305.9 251.2l1.4 0.6M322.3 253.7l-1.3 -0.7M319.0 251.6l0.9 -1.6M303.4 266.5l1.4 -0.7M308.1 248.3l-0.9 -1.4M310.8 250.9l0.9 -0.4M305.5 253.0l-1.0 -1.5M319.6 261.8l-0.7 1.8M323.0 256.1l-1.6 -1.0M305.9 256.1l0.0 -1.2M315.7 262.9l-1.1 -0.3M318.4 253.9l0.3 -0.8M303.7 258.6l0.0 1.0M313.5 254.4l1.1 -0.7M307.6 269.0l1.7 0.7M308.1 265.0l-1.6 1.1M316.9 261.8l-1.7 -0.4M311.3 259.0l1.3 -0.4M310.4 263.5l0.3 -1.3M312.2 267.8l1.2 -0.9M311.1 269.3l-0.7 -0.4M303.6 259.7l-0.1 1.0M309.0 249.9l1.2 -1.2M304.1 267.2l1.4 0.1M307.1 254.8l-1.9 -0.3M311.8 246.9l-0.6 1.0M315.7 264.1l-1.6 0.1M304.6 259.4l-0.7 1.0M304.4 267.1l1.5 0.2M321.1 262.9l-1.7 -0.2M309.5 264.3l-0.9 -1.2M311.3 270.4l-0.9 0.4M304.3 267.7l0.4 -1.4M315.9 256.8l0.1 0.8M311.1 270.6l0.9 0.3M310.1 249.4l-1.3 0.2M318.1 255.4l0.8 0.5M320.6 251.0l-0.2 -2.0M306.6 268.8l1.0 1.2M310.1 259.7l1.6 0.8M313.6 256.9l0.8 -0.4M320.3 262.9l0.0 0.9M317.4 265.5l-1.7 0.1M321.8 258.0l0.7 -1.8M312.1 252.3l1.1 -1.7M304.6 266.9l1.4 -0.2M323.3 263.0l-1.4 -0.9M310.6 247.5l-0.8 1.1M319.3 266.1l-0.9 1.8M312.0 253.2l1.0 0.4M309.8 260.9l0.3 0.7M305.1 267.9l0.2 0.9M310.6 263.1l-0.9 0.2M319.2 266.1l-0.3 -1.0M309.6 250.2l0.7 1.7M308.6 267.8l-1.0 0.8M315.3 247.1l1.7 0.5M316.3 250.8l0.7 1.0M320.8 250.2l-1.1 -0.9M308.6 263.4l-1.3 -0.1M309.0 251.4l1.4 -0.8M320.2 267.0l-1.2 -0.3M311.7 263.1l1.4 -1.5M319.7 263.3l-0.9 -0.3M319.0 264.0l-0.9 -0.7M314.3 265.5l-0.0 1.7M315.1 270.0l1.1 1.0M317.5 263.8l-0.0 -1.5M319.2 255.2l-1.5 -0.2M315.0 250.3l1.0 -0.3M309.7 250.7l0.9 -1.5M314.4 261.2l0.4 -1.1M301.3 257.6l-1.2 -0.2M310.8 260.1l-0.7 -0.7M307.2 256.6l-1.3 -0.8M314.0 254.6l-1.8 0.7M317.3 260.5l0.9 -1.7M307.2 261.6l-1.1 -1.1M322.6 258.3l0.8 -0.1M309.2 258.3l-0.5 0.9M307.4 266.0l2.0 -0.3M303.7 266.2l0.8 -1.1M312.3 256.9l0.3 -1.0M314.2 249.3l0.2 1.2M323.0 254.6l0.6 1.3M316.7 253.2l0.7 -0.9M306.1 264.7l-1.0 1.4M313.6 262.9l-0.4 -1.4M313.6 267.2l-0.8 1.2M320.9 250.9l-0.0 -1.5M304.5 253.4l1.6 -0.7M313.9 248.0l-1.2 -0.5M319.7 254.7l0.6 -0.8M321.3 267.0l-0.7 0.5M311.0 259.6l0.5 -0.9M314.1 254.4l0.5 -1.9M311.6 270.0l0.1 1.2M321.2 252.6l-1.5 1.3M307.8 268.7l-0.0 -1.2M306.4 249.5l-0.8 -1.2M307.4 253.8l0.8 -0.7M308.9 249.5l-1.2 -0.3M310.9 266.3l0.9 -0.4M311.0 254.8l0.4 -0.8M317.8 254.5l1.5 -0.5M304.5 260.5l0.9 -1.8M309.2 250.9l0.7 -1.7M320.6 261.4l1.3 -0.3M305.7 251.8l0.7 0.5M320.3 255.1l-1.6 -0.8M306.2 256.6l0.3 -1.1M319.5 255.4l0.1 1.0M309.4 266.2l-0.5 -1.2M315.7 268.4l0.1 -1.9M306.3 258.9l0.8 -0.3M311.5 263.2l-1.2 0.6M312.4 260.2l1.2 0.2M306.9 262.5l-0.7 -0.5M304.7 252.5l1.3 0.5M324.1 255.4l0.8 -0.6M302.2 256.1l-0.3 -1.6M302.4 261.4l0.9 1.6M311.9 262.0l0.6 -1.0M320.7 256.4l0.8 -1.3M308.7 268.5l-1.2 -1.3M309.2 262.3l-1.0 -0.1M319.6 249.5l1.3 0.4M321.4 260.0l0.5 -1.2M310.7 264.4l0.9 1.2M301.2 262.4l1.7 0.6M302.6 262.7l-0.4 -1.0M323.7 258.3l0.5 1.2M317.8 263.9l1.0 0.7M311.8 258.5l0.5 1.3M315.6 247.6l0.3 0.8M322.5 259.6l-0.9 0.2M303.6 260.9l-1.7 -0.1M308.4 264.7l-0.5 0.8M313.1 264.2l-0.7 0.4M316.8 248.4l1.8 -0.3M312.4 257.3l1.1 -1.5M322.1 253.7l-1.0 -0.7M308.6 252.4l-1.3 -1.0M311.0 261.6l0.4 -1.6M305.0 258.8l0.6 1.5M312.3 269.7l-0.5 1.2M323.3 260.6l1.8 -0.7M305.4 251.0l-1.4 1.1M313.9 259.9l-0.7 -0.8M317.9 262.0l0.3 -1.8M321.6 261.3l-0.2 -1.7M316.2 265.3l-0.6 1.0M317.5 257.6l0.1 -1.4M318.0 263.6l-1.1 -0.5M319.3 267.3l-1.3 0.5" fill="none" stroke="#a2a2a2" stroke-width="0.45"/>
<path d="M460.3 238.7L459.1 238.0L457.4 237.0L455.7 236.5L454.2 235.2L452.7 234.0L451.8 233.5M459.1 238.0l-0.9 0.6M459.1 238.0l0.3 -2.2M457.4 237.0l-2.1 1.2M457.4 237.0l-0.6 -2.1M455.7 236.5l-1.6 1.1M455.7 236.5l-0.6 -1.8M454.2 235.2l-1.9 0.7M454.2 235.2l0.1 -1.1M452.7 234.0l-1.2 0.4M460.3 238.7L459.7 237.4L459.8 235.7L459.2 233.5L458.8 231.9L457.9 230.3L457.3 229.3L457.2 227.7M459.7 237.4l-2.1 -0.9M457.9 230.3l-1.3 -0.7M457.9 230.3l1.8 -1.4M457.3 229.3l-1.0 -0.5M457.3 229.3l0.7 -1.2M460.3 238.7L461.0 237.3L462.1 235.8L462.3 234.1L463.1 232.4L464.1 231.1L464.5 229.6M461.0 237.3l-1.2 -1.9M462.1 235.8l-0.8 -2.0M462.3 234.1l-0.5 -1.2M462.3 234.1l1.8 -0.1M463.1 232.4l-0.4 -1.2M463.1 232.4l1.3 -0.5M464.1 231.1l-1.4 -1.9M464.1 231.1l1.3 -0.0M460.3 238.7L461.6 237.7L463.0 236.2L463.8 235.0L465.1 234.1L467.0 233.2L468.1 231.8M461.6 237.7l-0.6 -1.9M463.0 236.2l0.0 -1.3M463.8 235.0l-0.2 -1.7M463.8 235.0l2.1 1.0M465.1 234.1l-0.6 -1.7M465.1 234.1l1.4 0.6M467.0 233.2l0.0 -1.8M467.0 233.2l1.1 0.5M460.3 238.7L462.3 238.6L463.9 238.3L465.7 238.4L467.6 238.6L468.9 238.2L470.9 238.4M462.3 238.6l1.2 -1.9M462.3 238.6l0.8 1.7M463.9 238.3l1.2 -1.2M463.9 238.3l1.8 1.7M465.7 238.4l1.3 -1.8M467.6 238.6l1.0 -1.0M467.6 238.6l1.7 1.9M468.9 238.2l0.6 -0.9M468.9 238.2l0.9 1.6M460.3 238.7L461.6 239.6L462.7 240.7L464.1 242.2L465.2 243.5L466.4 244.2L467.5 246.0M461.6 239.6l2.3 -0.5M461.6 239.6l-0.0 2.0M462.7 240.7l-0.0 1.3M464.1 242.2l-0.3 1.1M465.2 243.5l1.2 -0.4M465.2 243.5l-0.3 1.4M466.4 244.2l1.2 0.0M466.4 244.2l-0.5 2.0M460.3 238.7L461.2 240.2L461.7 242.3L462.2 243.9L462.5 245.3L463.5 246.5L463.7 248.6M461.2 240.2l-1.7 1.5M462.2 243.9l1.9 0.1M462.2 243.9l-1.2 1.5M462.5 245.3l2.0 0.3M463.5 246.5l1.8 0.5M460.3 238.7L459.8 240.2L458.7 241.9L458.3 243.6L457.8 245.6L456.4 247.7M458.7 241.9l0.9 1.7M458.7 241.9l-1.9 0.7M458.3 243.6l1.3 1.7M457.8 245.6l1.0 1.3M457.8 245.6l-1.6 0.5M460.3 238.7L459.2 239.5L457.2 240.2L455.7 241.4L454.4 241.7L453.0 243.1L451.5 243.3M459.2 239.5l-0.2 2.0M459.2 239.5l-1.6 -0.5M457.2 240.2l0.3 1.7M457.2 240.2l-1.0 -0.4M455.7 241.4l-0.0 1.3M455.7 241.4l-1.0 -0.5M454.4 241.7l-0.3 2.2M454.4 241.7l-1.6 -0.3M453.0 243.1l-0.2 1.5M453.0 243.1l-1.4 -1.1M460.3 238.7L458.6 238.7L456.9 238.6L455.1 238.3L453.9 237.4L451.7 237.3L450.2 237.7M458.6 238.7l-0.9 1.0M458.6 238.7l-1.5 -1.7M456.9 238.6l-0.7 0.9M456.9 238.6l-0.6 -1.7M455.1 238.3l-0.6 -2.4M453.9 237.4l-1.2 -2.2M451.7 237.3l-0.7 0.8M451.7 237.3l-0.8 -1.1M470.6 238.7Q472.7 241.3 470.8 243.4M470.3 243.2Q470.1 245.8 467.0 246.1M468.4 247.7Q467.0 250.3 463.5 248.7M464.0 250.2Q461.7 251.9 459.1 249.6M454.6 248.5Q451.9 248.0 451.9 244.8M451.1 245.4Q448.9 243.8 449.2 241.1M450.2 240.8Q448.3 238.7 449.7 236.4M450.4 231.5Q451.3 228.7 455.3 230.1M463.9 227.5Q467.0 227.1 468.4 229.7M467.5 230.7Q470.4 231.4 470.7 234.1M461.2 240.5l-1.5 0.5M460.0 229.3l1.0 0.4M456.1 239.9l0.5 -1.6M467.5 242.5l-1.3 0.9M456.0 240.3l-1.0 0.6M453.1 237.2l1.5 -1.0M467.2 234.8l-1.2 -1.1M468.3 235.1l-1.2 -0.2M450.4 239.1l-1.1 1.5M468.9 242.1l-1.5 -0.3M467.2 238.3l1.3 0.5M450.5 241.6l-1.7 0.7M456.7 230.2l0.2 -1.0M469.3 240.7l0.8 1.5M469.5 234.3l0.5 1.3M463.5 240.5l-0.5 -0.6M460.2 237.0l-0.5 1.2M459.3 245.2l-1.9 -0.1M469.4 243.0l-0.7 1.0M468.7 234.5l0.9 -0.0M465.3 236.7l0.4 -1.8M466.4 240.0l-0.4 -0.7M460.6 244.0l0.5 1.1M454.7 246.4l0.4 -1.3M454.0 241.3l-1.6 -1.0M460.3 244.0l0.0 -2.0M468.5 245.9l-0.9 0.0M461.6 245.0l-0.0 0.9M465.6 238.4l-0.7 -1.5M457.6 243.7l1.1 -1.5M466.7 243.1l-1.6 0.0M463.8 229.6l0.9 -0.1M449.7 240.7l-1.3 -0.7M452.3 242.0l0.5 -1.1M460.3 244.2l-0.4 1.1M449.3 240.8l-0.6 1.2M455.1 245.7l-1.0 1.3M457.5 229.8l-0.0 -1.3M455.5 236.1l1.3 1.0M459.1 228.3l1.3 1.0M466.0 242.2l1.2 -0.4M457.4 240.0l-1.3 -1.4M461.7 235.6l0.6 0.7M458.9 235.2l0.1 -1.7M457.1 234.7l-1.3 0.1M466.8 234.6l0.3 1.1M457.1 236.2l1.4 0.3M451.4 241.6l1.2 0.4M455.5 230.5l-0.0 -1.3M471.4 238.8l-1.0 -0.6M456.7 238.3l-0.7 -0.8M451.3 233.3l-0.1 1.2M461.9 230.0l1.1 0.2M466.1 234.0l-1.2 -0.4M453.9 244.1l0.1 1.0M464.2 238.2l0.2 1.4M465.0 246.1l0.3 0.8M465.1 245.3l-0.5 -1.9M461.5 237.6l-0.1 -1.0M454.7 245.2l-0.3 1.2M451.5 245.3l-0.9 0.3M455.9 248.3l-0.1 1.1M466.9 246.7l-1.1 1.0M457.0 233.7l0.9 -0.3M449.9 236.9l0.8 -0.7M463.1 236.8l0.4 1.8M463.6 235.0l0.6 -0.8M450.1 235.6l0.3 -1.0M451.8 239.9l0.5 1.1M459.4 249.9l1.2 -0.4M456.9 233.3l-0.7 -1.1M457.3 233.2l0.7 0.9M455.9 248.6l-1.9 -0.4M465.4 240.6l-1.1 -1.2M470.1 237.7l-1.5 -0.7M469.7 240.8l0.9 -0.3M463.6 242.9l0.9 -1.7M467.9 242.3l0.8 0.5M462.1 243.9l1.3 -0.5M464.5 238.5l-0.5 0.7M458.8 240.6l-1.2 -1.2M468.4 236.6l-0.6 -1.8M455.8 245.0l0.6 1.6M457.5 241.1l-1.0 0.7M453.6 244.4l1.0 0.8M457.2 237.7l0.9 0.7M467.3 241.7l0.5 1.2M454.2 236.5l-1.5 0.3M455.9 236.8l1.7 1.0M463.4 242.2l1.4 -0.3M461.9 241.4l0.9 1.2M455.1 236.6l1.6 -0.9M455.2 235.1l-0.7 -1.8M469.9 238.7l1.4 -0.7M464.1 232.3l0.6 -1.1M467.9 232.7l-1.1 -0.6M458.8 235.0l-0.2 1.0M462.1 235.8l0.4 -1.0M456.8 243.3l-0.8 -0.3M459.7 234.4l0.8 -0.4M455.5 232.5l-1.1 1.4M459.3 236.6l-0.3 1.6M469.4 238.5l-0.2 -1.2M461.1 234.8l0.9 -1.2M454.1 235.9l-0.6 1.8M462.2 248.3l1.0 0.3M455.0 232.7l0.2 -1.5M457.1 245.8l0.2 -1.7M463.1 238.1l-1.0 0.5M458.3 233.9l-1.4 -1.3M455.6 239.8l0.2 -1.1M469.3 237.8l0.8 1.5M450.4 234.6l-0.3 -1.1M456.9 248.4l1.9 0.1M469.9 238.0l0.8 1.2M450.6 243.8l-0.9 -1.4M470.9 237.2l0.9 0.6M458.4 229.8l-0.7 -1.7M457.7 229.4l-0.8 0.9M452.9 243.7l-0.4 -0.9M458.6 246.5l-0.0 -1.7M459.3 237.4l0.6 -1.9M457.8 231.5l-0.1 1.0M464.9 236.0l0.3 -1.0M458.2 246.3l0.5 1.5M465.9 232.6l0.8 0.1M454.3 232.3l-1.0 1.4M470.7 237.3l0.9 0.3M461.2 242.9l-1.8 -0.9M470.6 234.9l0.8 0.4M466.5 233.3l1.2 -1.4M450.7 239.0l1.5 -0.5M453.2 233.5l-0.8 0.4M453.2 230.2l-0.1 1.4M458.0 240.0l0.9 -0.3M462.8 245.5l-0.2 -0.9M456.8 231.2l-0.7 1.5M468.8 244.9l-0.9 -1.4M464.8 229.5l0.8 -0.7M452.0 244.4l-0.7 1.4M461.9 233.3l-1.3 -1.2M461.8 238.2l-0.0 -0.8M455.6 244.6l0.2 0.9M450.1 234.3l0.8 0.0M464.8 230.1l-1.6 0.4M461.9 244.1l1.3 -0.0M461.7 228.1l1.1 -0.8M467.2 241.0l-0.4 1.7M453.2 238.0l-1.0 0.6M470.6 234.7l1.8 0.7M452.3 234.6l-1.1 0.6M453.1 240.2l-1.6 0.6M469.2 233.9l-0.3 0.9M455.3 230.7l0.6 1.3M462.0 248.9l1.7 0.1M468.5 237.0l-0.9 -0.4M471.1 236.9l1.5 -0.2M465.7 247.3l0.3 1.4M461.8 234.1l-1.3 0.3M450.3 243.0l-1.3 0.9M462.7 232.1l1.1 1.0M459.4 234.3l1.2 0.1M451.5 237.7l0.8 1.7M471.2 240.8l-1.1 -0.4M453.3 247.0l1.5 -0.6M464.6 237.6l0.8 1.3M470.9 238.2l1.1 0.6M462.6 246.6l2.0 -0.2M459.4 239.3l-1.7 -0.1M463.2 235.4l-1.3 0.1M461.3 248.7l-1.0 -0.1M465.2 248.1l0.8 1.5M467.2 238.0l0.7 1.4M465.1 244.3l-0.9 0.1M450.3 233.8l0.8 1.1M459.3 229.5l0.9 1.0M465.0 228.8l-0.6 0.7M460.4 233.1l0.8 0.6M459.6 239.3l1.4 -0.6M465.7 239.4l1.3 -0.2M460.5 246.9l-1.4 -1.3M454.6 244.7l0.8 -0.4M466.5 234.0l-1.0 0.6M454.1 230.3l-0.3 -1.3M455.2 236.0l1.0 -0.7" fill="none" stroke="#a2a2a2" stroke-width="0.45"/>
<path d="M479.0 225.4L477.2 226.1L476.2 227.0L474.1 227.6M477.2 226.1l0.1 1.2M477.2 226.1l-1.5 -1.4M476.2 227.0l0.1 1.4M476.2 227.0l-1.3 -0.6M479.0 225.4L477.0 224.7L475.7 224.6L473.9 223.5M477.0 224.7l-0.9 0.5M477.0 224.7l-0.5 -1.3M475.7 224.6l-1.1 0.5M475.7 224.6l-0.1 -1.8M479.0 225.4L478.1 223.7L477.3 223.1L475.9 221.3M478.1 223.7l-1.2 0.3M478.1 223.7l0.2 -1.3M477.3 223.1l0.1 -1.2M479.0 225.4L479.2 223.3L478.7 221.4L479.4 220.0M479.2 223.3l-0.9 -1.0M479.2 223.3l0.8 -0.7M478.7 221.4l-1.2 -0.7M478.7 221.4l1.0 -1.0M479.0 225.4L480.2 225.0L482.3 224.2L483.3 223.3M480.2 225.0l0.3 -2.2M480.2 225.0l1.1 1.0M482.3 224.2l0.4 -1.1M482.3 224.2l1.3 0.4M479.0 225.4L480.9 225.8L482.4 226.9L484.7 227.0M480.9 225.8l0.8 2.1M482.4 226.9l1.3 -1.1M482.4 226.9l0.2 1.9M479.0 225.4L480.4 226.9L481.8 228.4L482.6 229.1M480.4 226.9l2.1 0.1M480.4 226.9l-0.2 1.4M481.8 228.4l1.1 -0.1M481.8 228.4l-0.9 2.0M479.0 225.4L478.9 227.0L478.9 228.7L479.0 231.1M478.9 227.0l1.5 1.6M478.9 228.7l0.9 1.1M478.9 228.7l-1.6 0.7M485.2 225.4Q485.7 227.2 484.4 228.5M481.6 229.9Q480.6 231.5 479.0 231.1M479.0 230.6Q477.5 231.0 476.4 230.0M481.6 228.5l1.7 -0.3M476.0 223.5l1.1 1.5M482.3 221.1l0.7 1.0M475.9 225.4l-1.4 1.3M480.3 221.8l0.4 -1.3M477.7 224.7l2.0 0.2M479.3 225.5l-0.1 1.6M484.4 225.5l-1.2 0.9M482.2 225.0l-0.8 0.9M483.9 222.8l0.6 -0.9M475.7 229.9l0.2 1.2M477.1 220.4l0.3 -1.4M480.8 221.8l1.0 0.6M482.3 221.5l-0.9 -1.2M476.7 224.7l0.9 -0.5M483.4 223.2l-1.0 -0.6M484.1 225.5l1.2 -1.0M478.1 225.3l-0.1 1.5M480.2 226.6l0.8 -0.6M480.2 228.8l-0.9 -1.1M481.2 221.3l0.5 1.4M475.9 229.8l-0.7 0.8M476.2 223.4l1.7 -1.0M480.8 223.3l-0.2 -1.2M478.9 230.1l1.1 -1.5M474.6 223.1l-0.9 -0.6M476.3 225.5l0.6 1.5M476.4 229.3l-0.2 -1.0M483.4 228.2l1.1 0.9M481.3 224.5l-1.3 1.5M478.6 224.7l1.5 0.3M478.1 220.6l0.1 -1.4M475.9 228.4l1.1 0.1M481.3 225.5l-0.7 0.9M475.4 221.5l-1.0 -0.5M484.3 228.0l0.0 1.7M482.1 224.3l1.7 0.5M484.2 224.8l-0.3 -1.0M478.1 229.6l1.6 -0.3M480.1 221.4l1.6 -0.5M482.2 229.3l-1.2 0.2M478.9 221.9l0.4 -1.7M478.4 220.4l0.5 0.7M473.1 225.1l-1.7 1.1M481.0 229.7l0.0 -0.9M477.0 229.1l0.2 -2.0M479.9 221.2l-0.8 -0.3M478.5 221.9l0.4 0.7M475.3 227.7l-1.6 -0.9M483.2 228.6l-1.1 1.0M482.7 224.6l-1.1 1.4M476.1 221.9l0.7 -1.1M479.5 231.1l-1.0 0.2M477.0 219.9l-0.1 -1.6M474.2 224.8l-0.8 -0.6M478.1 221.0l-1.8 -0.3" fill="none" stroke="#a2a2a2" stroke-width="0.45"/>
<path d="M494.1 250.4L494.7 249.1L495.1 246.9L495.8 245.6L495.7 243.5L496.6 242.4L497.3 241.0L497.8 239.3L498.0 237.7M494.7 249.1l-0.7 -0.9M494.7 249.1l2.3 -0.2M495.1 246.9l-1.6 -1.7M495.1 246.9l1.5 -0.4M495.8 245.6l-0.9 -1.9M495.7 243.5l-1.4 -1.6M495.7 243.5l1.3 -0.8M496.6 242.4l-0.9 -1.3M497.3 241.0l-2.0 -1.7M497.3 241.0l1.6 -0.6M497.8 239.3l-1.1 -1.1M497.8 239.3l1.7 -0.8M494.1 250.4L495.4 249.6L497.0 248.2L498.1 247.4L499.9 246.6L501.0 245.1L502.1 243.9L503.2 243.3L504.9 241.9M495.4 249.6l0.3 -1.9M495.4 249.6l2.3 0.5M497.0 248.2l0.2 -1.0M498.1 247.4l2.1 0.1M499.9 246.6l2.3 0.4M501.0 245.1l-0.3 -1.4M501.0 245.1l1.0 0.4M503.2 243.3l0.0 -1.0M494.1 250.4L496.2 250.0L497.8 250.7L499.5 250.2L500.9 250.6L502.7 250.1L505.0 250.4L506.6 250.2L508.2 250.4L510.3 250.3M496.2 250.0l0.8 1.5M497.8 250.7l0.7 -1.3M500.9 250.6l0.8 0.7M502.7 250.1l1.6 -1.7M505.0 250.4l1.4 -1.7M505.0 250.4l0.8 1.8M506.6 250.2l0.5 -1.0M506.6 250.2l0.6 1.0M508.2 250.4l0.9 -1.7M508.2 250.4l1.0 1.2M494.1 250.4L495.9 251.7L497.3 252.8L498.2 253.5L500.4 254.8L501.9 255.6L502.9 256.3L504.6 257.5M497.3 252.8l1.5 -0.7M497.3 252.8l0.4 2.5M498.2 253.5l1.3 -0.6M498.2 253.5l0.4 1.6M500.4 254.8l2.1 -1.3M500.4 254.8l0.0 2.4M501.9 255.6l2.5 -0.7M501.9 255.6l-0.0 1.6M502.9 256.3l1.6 -0.7M502.9 256.3l0.0 2.5M494.1 250.4L495.2 252.1L495.8 253.7L496.7 255.1L496.7 256.5L497.5 258.2L498.7 259.9L498.9 260.8L500.2 263.1L500.5 264.4M495.8 253.7l2.6 0.5M495.8 253.7l-1.0 2.1M496.7 255.1l1.9 0.4M496.7 256.5l1.4 0.1M496.7 256.5l-0.5 1.7M497.5 258.2l2.3 0.4M498.7 259.9l1.5 0.2M498.7 259.9l-0.7 1.5M498.9 260.8l2.0 0.2M498.9 260.8l-1.4 1.8M500.2 263.1l-0.5 1.5M494.1 250.4L494.1 252.0L493.6 253.8L493.8 255.6L493.0 256.7L492.8 258.7L493.0 260.4L492.9 262.3L492.4 263.6L492.0 265.5M494.1 252.0l-1.2 0.4M493.6 253.8l-1.8 1.4M493.8 255.6l0.8 1.2M493.0 256.7l1.2 1.3M492.8 258.7l1.4 0.9M492.8 258.7l-2.0 1.1M493.0 260.4l1.3 1.5M492.9 262.3l-2.3 1.1M492.4 263.6l1.4 1.0M494.1 250.4L493.2 251.8L492.8 253.5L492.0 255.0L491.5 256.3L491.0 258.1L490.0 259.4L489.6 260.8L488.5 262.0M493.2 251.8l0.6 1.3M493.2 251.8l-2.4 1.0M492.8 253.5l0.5 0.9M492.0 255.0l-1.1 0.5M491.5 256.3l-2.0 0.7M490.0 259.4l1.2 1.4M490.0 259.4l-2.2 0.2M489.6 260.8l1.2 2.1M489.6 260.8l-2.2 0.7M494.1 250.4L492.5 250.6L490.9 251.6L489.0 252.1L487.4 252.8L485.8 252.9L484.2 253.7L482.9 254.1L481.7 254.3M492.5 250.6l-0.4 2.2M492.5 250.6l-0.8 -0.8M490.9 251.6l-0.5 2.5M490.9 251.6l-1.7 -1.7M489.0 252.1l-0.3 1.6M487.4 252.8l-0.3 1.2M487.4 252.8l-2.2 -1.3M484.2 253.7l-0.3 1.7M494.1 250.4L492.9 250.0L490.7 250.1L489.6 249.8L488.2 248.7L486.5 248.5L484.8 248.6L483.2 247.9L481.6 248.2M490.7 250.1l-2.0 1.1M490.7 250.1l-1.1 -1.9M489.6 249.8l-0.8 0.6M489.6 249.8l-0.9 -1.4M488.2 248.7l-1.0 0.5M488.2 248.7l-0.6 -1.0M486.5 248.5l-0.8 0.7M486.5 248.5l-1.1 -1.7M484.8 248.6l-0.9 -1.5M483.2 247.9l-1.5 1.2M483.2 247.9l-0.7 -1.0M494.1 250.4L492.9 248.7L491.7 247.8L490.7 246.2L489.3 245.1L488.7 243.5L487.1 242.9L486.5 241.4L485.1 239.9L483.8 238.7M492.9 248.7l-1.8 -0.0M492.9 248.7l0.4 -1.7M491.7 247.8l0.1 -1.0M490.7 246.2l-1.0 0.1M490.7 246.2l0.6 -1.8M489.3 245.1l-2.0 0.4M489.3 245.1l0.3 -1.6M488.7 243.5l-2.0 -0.0M488.7 243.5l0.6 -1.4M487.1 242.9l0.7 -1.7M485.1 239.9l-1.3 0.1M494.1 250.4L493.5 248.7L493.7 246.9L493.5 245.6L492.6 243.7L493.0 242.1L492.5 240.7L492.2 238.9L492.0 237.2L491.1 235.6M493.5 248.7l2.1 -1.5M493.7 246.9l-2.2 -0.9M493.5 245.6l-2.1 -0.5M493.5 245.6l1.5 -1.6M492.6 243.7l-2.1 -1.4M493.0 242.1l-1.4 -0.4M492.5 240.7l-1.2 -0.2M492.5 240.7l0.9 -0.7M492.2 238.9l-1.6 -1.0M492.2 238.9l0.9 -1.2M492.0 237.2l-1.9 -0.8M492.0 237.2l0.9 -1.2M509.2 250.4Q510.4 253.4 507.9 255.8M505.2 260.6Q504.1 263.6 500.2 262.7M501.5 265.2Q499.1 267.9 495.6 266.2M490.3 263.6Q487.0 264.7 485.4 262.0M478.9 247.6Q478.2 244.3 482.4 243.1M486.0 239.7Q486.5 235.2 489.9 235.6M489.9 235.8Q492.6 233.7 495.5 235.7M495.5 235.5Q498.6 234.5 500.4 237.7M500.5 237.6Q504.4 236.8 505.6 239.9M506.2 239.4Q509.4 240.9 508.1 245.0M507.8 245.1Q512.1 247.0 510.7 250.4M503.5 245.9l-0.2 1.0M500.7 251.0l0.1 1.6M489.2 257.0l-1.3 -0.3M499.1 250.6l-1.6 -0.6M486.4 248.4l0.2 1.3M486.6 259.8l1.3 -1.4M492.2 246.3l-0.4 1.8M497.1 236.0l-1.7 0.8M496.6 253.5l0.7 1.3M485.7 253.5l-1.4 -1.3M483.1 259.9l0.8 -1.4M503.0 260.3l-0.8 -0.8M494.2 246.5l0.2 0.8M479.0 250.6l-1.6 0.3M495.8 252.5l0.5 1.3M496.7 253.0l1.6 0.0M501.6 250.5l1.0 1.3M488.7 261.1l1.7 0.3M487.3 262.3l1.4 -1.1M492.3 250.2l0.3 -1.0M506.1 247.4l0.6 -1.2M491.0 255.1l0.9 -0.8M501.3 241.0l-1.6 0.2M502.1 251.6l1.9 -0.1M489.7 260.5l-1.2 -1.5M493.8 260.7l-0.7 -0.9M501.1 244.8l1.1 1.5M490.7 243.8l-0.2 1.3M502.6 259.7l-0.9 -0.0M493.0 263.2l-1.1 -0.7M505.6 249.4l1.7 0.0M498.1 236.7l0.3 0.8M493.4 251.4l-1.6 0.2M480.0 251.9l-1.0 1.2M483.1 244.8l1.3 0.5M505.2 255.4l1.2 -0.2M484.6 255.8l0.4 -1.4M500.0 251.7l-1.1 -0.7M504.9 244.1l-1.8 0.8M481.7 249.4l-1.7 -0.5M490.3 263.8l0.2 1.1M489.3 258.6l1.3 -1.4M502.2 240.5l-0.8 0.0M503.3 257.3l0.7 1.8M488.5 263.7l-0.9 0.5M497.6 244.8l1.4 -1.4M487.1 242.7l1.2 0.2M492.3 262.7l-0.0 0.9M483.5 253.7l-1.0 -0.6M485.7 242.6l-0.8 -1.5M483.5 249.4l1.5 0.8M498.6 241.1l-0.3 -1.4M492.6 250.1l1.9 -0.1M499.4 244.3l1.6 -0.7M496.0 264.2l-0.8 0.4M482.5 252.8l0.4 1.6M496.0 247.9l-0.9 0.5M499.5 255.3l-0.5 1.4M499.6 248.6l1.3 -1.3M492.4 250.3l1.3 0.5M490.7 260.4l0.7 -0.7M497.3 237.8l0.2 -1.9M485.1 248.5l0.5 1.5M490.1 251.7l1.3 -0.6M488.2 250.6l0.2 1.3M490.6 238.8l0.8 -0.9M501.7 241.4l1.5 -0.2M499.3 261.1l1.7 -0.8M484.1 244.4l-0.5 1.8M494.9 262.4l-0.7 -1.8M487.8 264.2l1.5 1.2M496.3 258.5l1.9 -0.0M492.1 240.2l1.1 0.4M487.6 244.7l1.8 0.8M481.7 255.3l-0.7 -0.6M494.4 240.3l-1.4 -0.5M500.7 245.1l-0.7 -1.3M497.0 263.6l1.4 1.0M495.3 236.2l-0.6 -1.3M501.0 257.4l0.7 -1.4M484.6 246.7l-0.4 -1.4M488.6 256.8l-1.4 -0.8M489.7 237.5l0.8 -1.6M490.2 245.7l1.3 0.5M490.2 251.7l0.2 0.8M493.2 262.4l0.7 -0.6M499.4 264.5l-0.5 -0.9M481.7 251.3l-0.8 1.3M499.5 239.7l-0.4 0.9M506.3 254.3l-0.0 1.4M504.7 255.5l-0.7 -1.8M506.2 256.2l1.5 -0.6M483.2 252.7l1.3 1.0M486.1 255.5l-1.3 -1.4M504.6 254.0l-1.6 -0.6M492.6 262.9l-0.5 -0.8M486.4 243.8l-0.9 -0.2M495.2 236.6l0.5 -0.7M487.9 264.1l-0.1 1.6M488.0 239.6l-1.7 0.6M488.3 246.5l-0.5 -1.3M495.8 247.6l-0.9 -0.7M506.5 250.6l1.0 -0.0M480.7 243.1l1.0 -1.0M494.5 262.5l-1.7 1.0M484.7 238.9l0.5 -0.8M490.5 243.1l-1.6 -0.7M504.9 242.7l1.6 -0.4M489.5 247.9l-0.0 -0.8M479.0 251.3l0.5 1.3M506.5 246.3l-1.1 1.3M506.0 241.2l-0.1 1.1M494.7 241.7l0.2 -1.1M502.6 247.1l-0.6 -0.9M485.8 261.0l1.8 -0.3M502.5 239.1l0.7 0.5M496.6 248.7l0.5 1.1M501.4 262.2l-1.6 -1.2M499.0 240.3l-1.6 -1.1M507.7 244.6l0.8 -0.1M503.4 248.5l1.4 -0.2M503.4 252.2l-1.4 -1.0M489.8 263.3l-0.4 0.9M508.4 255.1l0.1 1.6M504.7 261.2l1.5 -0.4M488.8 259.5l-0.2 1.8M506.1 250.1l1.9 -0.2M485.0 243.4l1.6 0.1M505.7 242.0l-0.2 -0.8M492.7 247.1l0.4 -0.9M507.5 243.4l0.0 -1.9M492.6 262.5l1.1 0.4M494.6 253.5l-2.0 0.2M502.1 251.6l0.6 -0.7M491.0 249.0l-0.8 1.3M492.6 244.1l-1.6 0.8M497.9 246.3l1.0 -0.9M497.0 261.6l-0.8 1.0M498.1 245.2l-0.3 -1.5M506.4 254.6l0.5 1.0M486.6 243.8l-1.6 0.2M504.4 252.1l1.8 0.4M488.1 242.2l-0.0 1.5M501.8 244.6l-0.9 -0.0M495.3 262.1l1.2 0.3M483.3 259.2l0.4 -0.8M503.9 240.0l0.1 -1.9M499.0 260.0l-0.3 0.9M494.6 242.8l-1.0 1.4M479.5 246.4l-0.5 1.0M503.5 239.7l-1.1 0.1M500.0 256.8l-0.9 1.4M496.9 253.6l1.0 0.1M485.8 239.3l0.4 1.3M485.7 262.0l-0.3 -1.6M492.2 244.2l0.4 0.8M481.7 243.9l-1.2 -1.2M505.2 259.7l0.8 -1.4M505.8 242.1l0.5 1.3M487.9 239.3l-0.0 -1.1M492.9 237.2l1.5 -0.1M487.6 257.0l1.0 0.2M487.3 261.1l0.8 1.0M505.9 243.3l-1.7 -0.4M501.8 240.1l-0.6 0.7M494.3 254.5l1.1 -0.2M508.9 249.0l-0.1 0.8M494.3 254.8l0.2 1.4M483.2 252.5l-0.1 1.0M494.9 250.3l0.7 0.5M496.2 256.5l-0.5 0.7M489.9 245.9l0.4 -1.6M497.3 238.2l-1.3 -0.2M496.2 237.2l-0.5 -1.8M487.3 252.1l-0.6 -1.6M496.3 246.3l-1.2 0.7M483.7 241.7l0.9 0.1M500.7 241.4l-1.6 1.2M500.3 244.8l0.2 0.8M489.8 235.9l-1.4 -1.1M499.5 257.1l0.8 -0.2M496.7 240.1l1.1 -1.2M479.9 248.7l0.4 -0.7M493.9 244.3l-0.1 -0.9M487.1 241.0l0.4 1.0M502.4 245.3l-0.8 0.8M499.9 245.5l-0.4 0.7M487.9 243.4l-0.3 -0.8M501.4 253.3l0.9 -0.9M496.6 251.3l-1.1 0.5M507.9 246.5l-0.7 -0.9M508.2 245.1l-1.1 -0.3M503.7 239.4l0.7 0.8M482.9 257.2l-1.3 0.1M485.6 242.8l-1.4 -1.4M491.8 239.7l0.5 -0.7M492.5 264.5l-0.6 1.3M485.9 257.7l0.6 1.1M501.1 263.6l-0.8 0.8M489.5 235.9l-1.4 -0.5M501.5 240.2l1.1 -0.6M501.5 244.8l-1.2 0.1M497.5 260.6l1.0 -0.8M493.7 237.1l1.0 1.2M505.0 246.2l1.3 0.1M482.5 248.4l0.8 0.2M486.4 245.8l-0.5 -1.6M500.3 245.4l-1.5 -0.1M490.9 243.7l1.1 1.1M501.9 255.1l-0.5 0.8M481.9 248.9l-0.9 1.2M490.7 243.7l-1.6 -0.9M501.3 245.4l-0.6 1.8M505.1 254.8l-0.8 1.6M499.8 253.8l0.5 1.8M481.9 255.0l-0.1 -1.0M486.9 257.9l-1.6 1.2M500.4 252.3l-1.0 0.5M496.5 251.8l0.6 -1.4M506.9 245.7l-0.5 -1.0M498.2 253.0l-0.5 -1.0M499.8 243.1l0.1 -1.6M483.6 242.8l-0.6 -1.7M485.2 251.2l0.1 -1.6M483.5 239.9l-1.3 0.5M498.9 247.8l0.4 1.4M499.1 258.3l0.3 1.4M503.3 254.7l0.4 1.2M489.2 250.8l1.0 0.3M482.9 241.1l1.4 -0.3M504.3 243.7l-0.3 1.3M496.7 242.5l-0.4 1.9M499.6 261.1l1.2 -0.7M494.3 244.9l-1.9 0.0M491.4 251.4l0.9 0.9M496.8 255.2l-1.0 1.4M483.6 261.0l0.4 0.8M493.4 243.9l1.0 1.1M500.9 245.6l-1.1 0.4M501.4 253.4l-0.9 0.8M488.0 249.7l0.3 1.6M491.7 238.4l0.2 1.4M503.4 248.6l1.0 1.4M494.1 258.2l0.5 -0.7M500.5 238.9l-0.1 1.3M483.4 246.5l-0.9 0.5M488.8 243.5l-1.7 0.5M493.9 261.1l0.4 1.1M495.8 260.3l1.0 0.8M491.3 256.6l1.2 -1.4M498.3 260.9l1.1 1.0M505.0 259.9l-1.4 -0.1M498.2 265.1l-0.7 1.1M486.4 261.7l-1.0 -0.0M494.0 265.5l1.7 0.3M491.2 256.3l0.9 -1.4M481.1 251.7l0.8 1.8M492.0 263.5l1.3 1.0M501.4 257.1l-1.8 -0.5M501.7 257.2l0.5 -0.8M494.8 263.2l0.4 -0.9M484.6 255.4l0.3 -0.8M496.0 247.8l0.3 0.7M493.2 258.9l-0.7 0.8M484.2 259.3l-1.0 1.5M483.1 256.0l-0.4 -0.7M492.4 236.5l-0.5 1.2M501.4 241.8l-0.3 -1.0M497.8 256.3l-1.1 0.0M483.7 241.2l-0.6 1.6M499.6 243.8l0.2 -1.6M490.6 250.2l-0.2 1.7M495.8 242.0l-1.5 -1.0M482.3 257.7l-0.9 -1.1M481.6 246.0l1.7 0.5M488.1 263.7l-1.3 -0.1M489.9 243.0l0.7 -1.8M492.5 256.4l0.6 -1.1M494.6 256.1l1.0 0.3M497.5 263.9l-1.2 -1.1M493.1 235.8l-0.9 -1.6M508.0 248.3l1.0 0.1M503.2 241.8l-0.7 -0.7M502.9 259.6l0.7 -1.6M500.7 251.8l0.7 -0.9M490.7 264.2l-0.3 -1.4M500.7 250.1l1.8 -0.2M494.9 235.9l-1.0 1.4M489.8 243.2l-0.9 -1.0M504.6 240.4l0.2 1.7M501.7 257.8l1.7 -0.5M482.5 251.1l-0.9 -0.1M479.5 254.0l1.7 -0.6M500.3 247.8l0.9 -0.4M497.0 244.1l-0.5 1.4M503.5 253.1l1.9 0.0M502.3 246.8l0.1 -2.0M486.6 245.7l-0.9 -1.5M507.3 250.7l0.8 0.6M494.2 263.9l-0.7 -1.8M483.1 245.0l-0.8 0.6M499.8 236.4l-1.5 -0.2M496.2 253.4l-0.6 0.8M489.6 259.8l-0.8 1.2M491.9 252.7l0.2 -0.9M481.1 252.0l-0.0 0.9M508.3 245.8l0.7 -0.4M497.2 261.9l0.3 -1.0M495.9 242.5l-0.3 -1.4M498.0 239.7l-0.9 1.0M485.7 255.9l-0.8 -0.6M488.5 247.7l-1.2 -0.5M507.0 243.3l1.2 0.5M488.9 239.6l0.3 -1.7M503.6 250.7l0.7 -0.8M489.7 252.2l-0.7 0.6M492.9 265.6l0.9 0.7M488.6 246.1l1.3 0.9M501.1 257.8l0.7 -0.7M501.1 248.4l-1.1 -0.3M488.3 242.4l0.8 -1.0M494.3 240.8l-0.1 -1.7M479.1 249.1l0.9 1.1M495.0 254.4l1.0 0.1M494.9 245.9l1.0 0.1M503.8 262.1l1.2 -0.3M497.6 261.8l1.2 -0.0M501.6 249.1l-0.2 -0.9M492.4 250.0l-1.2 -0.3M490.2 248.5l-1.4 -0.3M486.2 251.5l-0.3 -1.4M497.2 239.7l-0.2 -1.2M500.9 254.9l-0.0 1.2M490.5 248.6l0.9 -0.4M501.8 241.7l-0.9 -0.9M494.7 243.7l-1.6 0.5M494.3 245.8l0.4 -1.0M491.8 241.2l1.0 0.5" fill="none" stroke="#a2a2a2" stroke-width="0.45"/>
<path d="M465.7 263.7L465.5 261.8L464.9 259.8L464.9 257.7M465.5 261.8l-1.4 -1.0M465.5 261.8l1.6 -1.1M464.9 259.8l0.8 -0.6M465.7 263.7L467.4 262.0L468.9 261.0L469.7 258.9M467.4 262.0l-0.2 -1.9M468.9 261.0l-0.3 -1.2M468.9 261.0l2.0 0.7M465.7 263.7L467.7 263.0L469.0 262.8L470.9 262.8L472.1 261.8M467.7 263.0l0.7 -1.1M469.0 262.8l0.3 -1.3M469.0 262.8l1.3 1.5M470.9 262.8l0.4 -1.6M470.9 262.8l0.7 0.9M465.7 263.7L467.3 264.9L468.8 265.1L471.1 266.4L472.7 266.5M468.8 265.1l1.3 -1.1M471.1 266.4l1.3 -0.6M465.7 263.7L466.1 265.4L466.6 267.1L467.2 268.0L467.8 269.8M466.1 265.4l-0.7 0.8M466.6 267.1l1.9 0.2M467.2 268.0l-1.2 1.0M465.7 263.7L464.6 265.3L464.4 266.6L463.7 267.9L462.5 269.7M464.6 265.3l1.1 1.9M464.6 265.3l-1.7 0.0M464.4 266.6l-1.1 0.3M463.7 267.9l0.4 1.1M463.7 267.9l-1.7 -0.1M465.7 263.7L463.9 264.1L462.5 265.4L461.2 266.0L459.6 266.8M463.9 264.1l-0.1 1.9M462.5 265.4l0.0 1.1M461.2 266.0l-0.2 1.8M465.7 263.7L463.8 263.5L462.2 263.3L460.5 262.5L458.4 262.5M463.8 263.5l-1.0 0.7M463.8 263.5l-1.0 -2.0M462.2 263.3l-1.2 1.8M462.2 263.3l-0.6 -2.2M460.5 262.5l-0.7 1.1M465.7 263.7L464.3 262.2L463.6 261.4L463.0 260.0L461.6 258.7M464.3 262.2l-2.2 0.5M464.3 262.2l0.2 -1.5M463.6 261.4l-1.7 0.2M463.0 260.0l-1.7 -0.0M463.0 260.0l0.2 -1.9M466.5 270.1Q464.8 271.5 463.2 270.4M459.8 258.5Q460.8 256.6 463.1 257.0M470.1 257.4Q472.0 258.1 471.5 260.7M464.7 257.6l1.1 -0.3M464.1 268.8l1.0 1.1M461.8 260.2l1.1 0.6M465.7 262.3l1.0 -0.1M465.3 262.4l0.2 -1.3M458.8 263.2l-0.1 0.8M464.3 263.6l-0.8 -0.9M460.9 264.4l1.5 -0.3M459.3 262.6l1.1 -0.2M465.9 257.1l-1.4 0.0M464.6 260.2l0.6 -1.5M468.0 267.3l0.6 0.8M471.4 264.0l-0.5 -1.9M464.3 258.6l-0.5 0.8M464.9 266.2l-0.3 -1.7M469.1 259.3l-1.6 -0.6M468.8 266.9l-0.6 1.8M461.4 263.8l-1.4 -0.1M463.8 259.4l-1.1 0.7M459.6 262.2l-0.4 1.0M465.3 266.1l-0.2 1.8M470.2 260.3l-1.0 1.3M467.7 270.0l-0.1 1.6M458.9 261.3l-1.4 0.0M464.6 258.4l-0.1 -1.2M460.8 266.0l-0.2 1.9M465.7 259.6l0.8 -1.3M461.8 260.4l0.9 1.1M460.2 263.3l0.3 -1.2M460.0 264.7l-0.5 -1.9M462.0 265.1l1.5 0.7M464.1 262.5l-1.8 0.3M467.6 268.4l-0.1 -1.5M468.5 264.9l-0.5 1.9M465.8 270.4l-1.7 0.4M465.6 262.3l0.7 -0.8M462.5 263.3l-0.2 1.4M469.8 265.4l0.2 1.8M471.9 266.3l0.7 1.5M465.1 269.0l0.6 1.6M460.8 268.7l-0.2 -0.9M460.5 268.1l-1.4 -0.4M470.4 258.8l0.8 0.9M461.6 260.2l-1.6 -0.7M466.0 267.9l0.3 -1.0M458.7 264.9l0.3 -1.8M459.0 261.2l-0.5 -1.4M468.9 266.9l0.7 0.5M463.6 270.2l-0.5 0.9M466.6 270.6l-1.6 -0.7M460.1 268.2l1.6 0.7M472.2 266.5l-0.7 0.6M461.2 267.3l-1.6 -0.2M460.8 266.9l-0.8 0.3M471.3 263.1l0.5 -1.3M470.9 266.8l0.4 1.3M468.2 270.0l-0.8 1.5M471.2 265.8l1.4 -1.3M467.5 267.6l0.5 1.0M469.6 263.9l-0.4 1.1M463.7 258.2l0.7 0.6M463.0 263.2l-1.0 -0.2M464.7 260.5l-0.6 1.2M459.1 261.4l-0.9 1.4M463.7 264.5l0.9 1.7M468.4 267.3l-1.4 -1.0M459.6 263.5l1.1 1.1M466.2 262.4l-0.2 -1.6M459.8 267.8l-0.3 -1.1M467.2 257.9l1.2 0.3M464.2 259.0l1.2 -0.9M465.7 270.6l0.9 -0.7M466.2 269.0l0.0 -1.7M463.1 268.6l-0.7 -0.6M466.1 270.6l0.1 -0.8M463.9 269.9l-0.5 1.8M470.5 264.0l0.8 -0.8M464.5 268.4l-1.7 -0.8M469.1 259.6l0.7 -1.6M466.0 261.8l-0.7 1.0M464.9 259.8l-0.9 -1.6" fill="none" stroke="#a2a2a2" stroke-width="0.45"/>
<path d="M105.9 388.8L106.4 390.7L107.2 392.4L107.6 394.0M106.4 390.7l-0.6 1.0M107.2 392.4l1.9 0.2M107.2 392.4l-1.0 0.9M105.9 388.8L105.4 390.5L104.9 391.6L103.7 393.4M105.4 390.5l0.7 1.3M105.4 390.5l-1.8 0.6M104.9 391.6l1.1 1.7M105.9 388.8L104.8 390.0L103.2 390.4L101.6 391.4M104.8 390.0l-0.1 1.1M103.2 390.4l-1.1 -0.3M105.9 388.8L104.2 387.6L102.7 387.1L100.6 386.4M104.2 387.6l-1.8 1.0M104.2 387.6l-0.6 -1.6M102.7 387.1l-0.2 -1.2M105.9 388.8L105.0 387.6L104.1 385.6L103.0 384.5M105.0 387.6l0.7 -1.4M104.1 385.6l0.5 -1.0M105.9 388.8L106.0 387.1L107.1 385.7L107.0 383.8M106.0 387.1l-0.7 -0.8M107.1 385.7l1.7 -0.5M105.9 388.8L107.3 388.0L108.6 388.2L110.4 387.7M107.3 388.0l1.2 1.6M108.6 388.2l1.0 -1.5M108.6 388.2l1.1 0.9M105.9 388.8L107.7 389.7L109.3 391.0L111.1 391.9M107.7 389.7l0.1 1.4M109.3 391.0l1.5 -0.4M109.3 391.0l-0.3 1.7M111.5 388.8Q111.9 390.4 110.2 391.3M108.5 393.3Q107.4 394.6 105.9 394.2M105.9 394.6Q104.2 395.0 103.0 393.8M103.0 393.8Q101.4 393.3 101.3 391.4M101.0 391.6Q99.9 390.4 100.4 388.8M100.7 388.8Q100.4 387.3 101.6 386.3M105.9 383.3Q107.5 382.8 108.7 383.9M108.6 384.2Q110.4 384.3 110.9 385.9M110.2 386.3Q111.4 387.3 111.1 388.8M109.2 391.9l1.2 -1.4M108.2 384.4l-1.0 0.9M103.4 384.2l1.6 0.9M103.8 387.4l-1.1 -0.4M109.4 391.7l1.3 0.9M101.6 392.1l1.7 0.6M102.5 386.5l-0.4 -1.3M106.7 384.0l-0.6 -0.5M108.7 388.0l0.8 -1.3M101.9 391.6l-1.0 0.2M103.8 385.3l0.8 -1.0M104.5 384.3l-1.1 -0.6M108.6 392.8l1.1 -1.2M104.5 384.7l-1.2 1.1M103.8 391.0l-1.0 -0.7M103.6 387.1l-1.7 0.5M101.6 389.9l-0.8 0.3M108.5 384.5l0.7 -0.6M107.9 386.8l1.2 1.2M108.8 390.3l-0.7 1.2M107.2 389.2l-1.7 -0.2M106.7 387.7l-0.6 -0.6M101.9 388.3l-0.9 -0.2M106.9 390.1l-1.2 0.2M108.4 390.8l-1.8 -0.4M101.1 389.5l0.6 -1.8M103.4 385.6l0.5 -0.8M102.7 386.0l-1.1 -0.7M109.6 385.9l-1.1 0.3M106.9 390.8l-0.3 1.1M103.5 385.5l0.9 -0.8M108.6 385.6l-0.5 -1.7M103.3 384.1l-0.5 1.2M105.9 389.3l0.3 -1.7M109.7 386.3l1.8 -0.2M108.8 387.0l0.8 -0.8M110.5 390.1l1.5 -0.7M105.1 388.2l-0.9 -1.1M108.5 385.4l1.2 1.0M109.8 385.5l-0.4 -1.2M109.0 385.5l-0.6 -1.4M108.8 392.1l1.6 0.9M102.5 392.0l-1.5 -1.1M106.5 389.5l-0.8 1.7M103.0 386.6l-1.4 0.9M103.4 391.1l-1.6 0.2M105.9 390.4l1.1 0.3" fill="none" stroke="#a2a2a2" stroke-width="0.45"/>
<path d="M120.4 399.7L120.0 398.0L119.6 396.2L119.1 394.8L118.7 392.6L118.2 391.6M120.0 398.0l-1.0 -0.3M120.0 398.0l0.9 -1.5M119.6 396.2l-2.0 -0.6M119.1 394.8l-1.5 -0.2M119.1 394.8l1.1 -1.6M118.7 392.6l0.9 -0.6M120.4 399.7L121.8 398.3L122.6 397.1L123.6 396.0L125.1 394.7L126.5 393.6M121.8 398.3l-0.5 -2.1M122.6 397.1l-0.4 -1.8M122.6 397.1l1.9 0.5M123.6 396.0l2.0 0.7M125.1 394.7l-0.4 -2.1M125.1 394.7l1.1 0.3M120.4 399.7L122.0 399.3L124.2 399.0L125.5 398.5L127.8 398.5L129.2 398.5M124.2 399.0l1.0 -1.1M124.2 399.0l1.2 1.2M125.5 398.5l0.4 -1.8M125.5 398.5l0.9 1.0M127.8 398.5l0.9 -1.3M127.8 398.5l1.0 1.3M120.4 399.7L121.9 400.4L123.8 401.2L125.5 401.9L127.6 403.1L128.8 403.9M121.9 400.4l1.4 -0.6M123.8 401.2l-0.0 1.0M125.5 401.9l0.4 2.0M127.6 403.1l1.5 -0.4M127.6 403.1l0.2 1.0M120.4 399.7L121.0 401.2L121.4 402.6L122.6 403.9L123.3 405.9L123.9 406.7M121.0 401.2l-0.7 2.0M121.4 402.6l2.0 0.2M121.4 402.6l-0.5 1.0M122.6 403.9l2.2 0.7M122.6 403.9l-0.8 1.5M123.3 405.9l2.0 0.4M123.3 405.9l-1.0 1.3M120.4 399.7L119.3 401.3L118.6 402.3L118.1 404.2L117.0 405.7L116.4 406.9M119.3 401.3l0.5 1.3M119.3 401.3l-1.4 0.1M118.6 402.3l0.3 1.1M118.6 402.3l-1.6 0.4M118.1 404.2l-1.9 0.6M117.0 405.7l-2.3 -0.3M120.4 399.7L119.2 401.2L117.7 401.6L116.8 403.5L115.1 404.5L113.9 405.7M119.2 401.2l0.4 2.1M117.7 401.6l-0.0 2.2M116.8 403.5l0.2 1.4M115.1 404.5l0.4 1.4M120.4 399.7L118.2 399.5L116.9 398.8L114.6 398.4L112.8 397.9M118.2 399.5l-1.4 0.8M116.9 398.8l-1.3 1.4M116.9 398.8l-1.0 -1.8M114.6 398.4l-0.7 0.9M114.6 398.4l-0.8 -1.2M120.4 399.7L119.2 398.5L117.6 397.2L116.3 396.2L115.1 395.1L113.1 393.6M119.2 398.5l-2.3 0.6M119.2 398.5l-0.2 -1.3M117.6 397.2l-1.7 0.2M116.3 396.2l-1.7 0.3M116.3 396.2l0.3 -2.4M115.1 395.1l-1.5 0.4M129.7 399.7Q130.4 402.0 127.7 403.2M128.7 403.7Q128.4 406.1 125.5 406.1M125.8 406.4Q124.5 408.2 122.1 407.3M118.6 407.4Q116.2 408.4 114.9 406.6M114.7 406.8Q112.5 406.0 112.7 403.4M111.2 399.7Q110.5 397.4 112.9 396.1M118.5 391.5Q120.4 390.4 122.2 391.6M122.3 391.2Q124.8 390.6 126.1 392.5M125.4 393.4Q127.4 394.2 127.6 396.2M123.3 407.8l-1.0 -0.0M119.3 407.7l0.5 0.9M120.0 393.9l-0.8 1.6M125.5 395.5l-0.2 -1.2M118.7 405.1l-0.5 -1.5M117.8 393.8l1.3 -0.6M126.1 406.3l-1.6 0.7M120.1 390.8l0.3 1.3M117.4 407.6l-1.7 0.8M126.0 400.2l-0.5 0.7M120.0 397.2l1.1 -0.6M114.4 400.2l-0.9 0.6M125.7 392.7l-0.5 -0.8M128.2 395.6l-0.6 0.5M114.7 405.6l-1.4 -0.8M124.2 395.8l-1.5 -0.2M113.2 404.9l-0.7 0.4M120.1 399.7l-0.1 -0.9M127.2 403.7l-0.9 -1.3M126.2 402.2l0.9 0.4M118.3 405.4l1.0 -0.2M114.9 405.2l0.7 -0.9M117.4 393.7l0.4 0.9M125.1 400.8l-0.5 -1.9M127.3 397.5l1.5 0.7M114.6 400.6l0.6 -0.5M116.2 406.7l1.8 0.2M112.5 401.2l0.4 -0.7M124.0 393.5l0.8 0.8M128.0 401.2l-1.5 0.3M125.9 400.8l-1.4 0.4M126.7 397.5l-1.0 1.6M121.5 407.4l-0.8 -1.4M126.3 401.9l0.1 1.4M119.1 397.1l1.0 1.6M118.5 394.6l-0.4 1.5M113.7 397.3l-1.7 -0.3M126.5 403.6l-1.4 0.2M120.3 394.4l0.5 0.9M122.9 395.5l0.5 1.2M128.5 398.7l-0.2 -1.0M118.9 407.1l-0.3 0.9M128.2 401.8l-1.6 0.3M122.6 401.5l-1.2 -0.0M128.8 401.4l1.8 -0.3M115.0 396.6l0.3 -1.5M124.5 405.3l0.7 1.2M121.4 406.7l1.4 0.5M118.0 399.7l0.7 1.0M117.6 393.4l-0.5 -1.6M113.0 400.6l0.3 0.8M112.5 399.2l-0.6 -0.6M122.3 399.8l-1.6 -0.8M122.5 399.9l0.4 -0.9M123.9 399.4l0.2 -1.9M118.6 393.3l1.9 -0.4M116.2 396.9l-1.3 -1.5M123.1 407.0l0.8 0.2M120.1 393.6l-1.5 0.1M125.6 395.8l-1.4 -1.3M116.6 407.2l0.8 -1.8M118.9 395.4l0.2 -0.9M127.4 401.5l0.1 0.9M120.7 392.2l-1.7 0.7M121.8 404.1l-0.2 -1.9M123.3 396.3l0.1 -1.0M118.6 392.1l1.4 -0.3M123.5 397.0l-1.0 -1.4M123.9 393.2l-0.6 -1.4M115.7 398.3l0.7 -0.5M115.9 407.0l-1.1 -0.7M124.5 401.6l0.3 1.2M114.4 393.4l-0.3 1.2M124.7 400.8l1.3 0.4M120.4 397.2l-1.5 -0.5M123.9 397.4l-0.7 -1.9M117.2 401.6l0.9 -0.2M128.2 399.8l0.2 -2.0M127.4 404.6l-0.5 -0.9M122.4 393.7l0.9 1.1M113.0 397.2l1.5 -0.6M124.1 400.5l1.6 1.2M124.0 401.9l0.1 -0.8M111.9 400.2l-0.2 -0.9M119.2 391.9l-1.2 1.4M120.0 396.0l-1.2 -0.3M124.1 394.0l1.3 0.2M126.3 404.0l0.4 -1.0M111.7 397.9l1.5 -0.6M119.8 394.4l-0.9 -0.1M115.3 397.2l1.0 0.0M123.1 392.1l0.7 -1.7M126.6 406.1l1.1 -1.2M120.7 397.3l-1.2 0.0M120.2 408.2l-0.9 -0.6M121.1 401.5l0.3 0.9M116.0 407.1l-1.9 -0.5M128.6 398.3l1.4 -0.9M115.7 396.7l1.2 -0.1M112.9 400.3l-0.9 0.8M117.4 399.5l-1.3 0.4M121.5 400.3l-1.5 -1.2M124.5 394.9l0.5 -1.1M122.6 406.5l1.6 -1.1M112.7 399.0l1.4 0.2M116.6 394.0l0.7 0.7M115.1 395.4l-1.2 -1.2M119.3 397.5l1.4 -0.7M123.4 399.7l1.1 -1.6M121.4 394.9l-0.0 -1.8M116.4 401.6l1.6 -0.8M117.4 396.1l-1.1 -1.1M128.0 398.0l0.5 0.7M124.4 396.6l-1.7 0.2M128.9 400.9l1.0 -0.3M122.1 396.5l-0.3 -1.1M117.5 402.4l0.3 -0.9M119.6 397.7l1.5 0.2M123.4 405.2l-0.8 0.8M118.6 396.9l1.7 1.0" fill="none" stroke="#a2a2a2" stroke-width="0.45"/>
<path d="M305.1 403.8L303.9 405.5L302.2 406.6L301.0 407.8L299.4 409.7M303.9 405.5l0.3 1.8M303.9 405.5l-1.3 0.1M302.2 406.6l-0.0 1.2M302.2 406.6l-1.2 0.1M301.0 407.8l-1.8 0.1M305.1 403.8L303.5 403.8L301.5 404.2L299.8 404.4L297.5 404.7M303.5 403.8l-1.4 1.8M303.5 403.8l-1.1 -1.5M301.5 404.2l-1.7 -1.5M299.8 404.4l-1.2 1.7M305.1 403.8L303.8 402.7L302.2 401.9L300.4 400.8L299.1 399.9M303.8 402.7l0.1 -1.7M305.1 403.8L304.3 402.6L304.1 400.5L302.7 399.5L302.3 398.2L302.0 396.3M304.3 402.6l-1.2 -0.5M304.3 402.6l0.7 -1.9M304.1 400.5l0.7 -2.1M302.7 399.5l-1.6 -0.3M302.7 399.5l0.5 -1.0M302.3 398.2l-1.4 0.0M305.1 403.8L305.0 402.4L305.4 400.0L305.9 398.5L305.9 396.5M305.4 400.0l-1.5 -1.8M305.9 398.5l-1.2 -1.5M305.9 398.5l1.9 -0.5M305.1 403.8L306.9 403.1L307.8 402.2L309.0 401.0L310.6 400.3L311.9 399.8M306.9 403.1l0.3 -1.7M306.9 403.1l1.6 0.8M307.8 402.2l1.0 0.6M309.0 401.0l0.4 -1.6M309.0 401.0l2.0 0.6M310.6 400.3l1.9 0.7M305.1 403.8L307.0 404.0L308.6 405.1L310.4 405.6L312.8 405.9M307.0 404.0l0.9 -1.1M308.6 405.1l0.9 -0.9M310.4 405.6l1.1 -0.9M310.4 405.6l0.6 2.1M305.1 403.8L306.5 405.4L307.6 406.3L308.9 407.8L310.9 408.8M306.5 405.4l2.3 -0.4M307.6 406.3l1.5 -0.5M308.9 407.8l1.0 0.0M305.1 403.8L305.2 405.5L305.0 407.1L304.9 409.1L304.8 410.7M305.2 405.5l1.5 1.1M305.2 405.5l-1.1 0.4M305.0 407.1l1.4 1.4M304.9 409.1l1.3 1.6M304.9 409.1l-1.9 1.4M311.2 407.0Q311.4 409.4 309.4 410.1M309.9 410.8Q308.4 412.6 306.1 411.7M297.7 405.6Q296.7 403.8 298.1 402.1M296.9 401.8Q296.8 399.5 299.4 398.7M299.4 398.8Q300.4 397.0 302.4 396.8M306.1 395.7Q308.4 395.2 309.9 396.9M309.9 396.8Q312.1 397.6 312.2 400.1M312.5 399.9Q314.0 401.6 312.6 403.8M303.1 410.8l1.9 -0.4M303.8 404.7l-0.8 -0.5M299.3 407.8l0.2 -0.9M300.7 407.1l1.3 -1.2M310.8 398.6l0.5 -1.0M308.2 398.1l0.2 -1.1M304.8 408.0l1.5 -0.9M311.4 403.2l0.9 -0.4M304.4 396.1l1.8 0.1M304.6 405.1l0.8 0.4M308.4 408.6l-1.1 -0.1M311.6 406.8l-0.8 1.2M300.6 408.6l-0.1 -0.8M298.0 401.1l0.6 0.8M312.6 406.1l1.3 -0.4M299.4 402.4l0.6 1.5M301.9 401.3l-1.8 0.2M302.3 404.9l-1.2 1.4M305.5 409.3l1.2 1.2M298.0 405.4l-1.7 -0.5M302.7 409.4l1.7 -0.0M306.8 405.6l0.9 0.1M304.4 409.0l-0.5 -1.8M311.3 403.8l0.0 2.0M306.7 400.5l1.3 -0.1M298.1 400.8l-0.8 0.8M307.3 402.4l-0.6 -0.7M311.8 403.0l-1.7 -1.1M301.4 397.2l-1.5 0.1M306.7 402.2l1.6 0.6M305.5 397.5l0.7 0.6M307.5 399.5l-0.6 -0.6M303.7 409.1l1.1 0.3M306.2 411.0l-0.9 -1.8M311.0 401.1l-0.9 -0.3M304.3 405.7l-0.8 1.4M303.6 396.0l-0.8 0.2M304.3 405.2l1.3 1.0M308.4 408.9l-1.6 0.9M299.9 399.6l-0.1 -0.9M310.8 405.6l-1.1 -0.4M300.5 403.0l1.5 0.3M309.5 398.4l-0.0 -1.9M298.8 405.9l0.6 1.4M301.2 403.8l1.6 -0.3M298.4 400.9l0.2 -1.6M300.2 398.6l-1.3 -0.5M310.4 403.2l-0.2 1.1M308.8 397.7l-0.6 0.8M306.6 399.0l0.9 0.2M297.3 404.8l-1.8 0.0M301.7 405.0l0.4 1.3M311.2 405.9l0.7 -1.3M307.1 407.2l-0.4 1.3M304.4 403.8l1.3 -0.3M307.9 399.2l-0.4 -0.9M312.0 405.8l-0.7 1.7M301.9 405.2l-0.7 -1.6M306.1 411.2l0.3 -1.7M311.1 401.7l1.2 0.6M309.4 399.8l-0.3 -1.4M307.8 408.8l-1.2 -1.3M309.4 397.7l1.3 1.2M309.4 401.2l1.2 -1.5M306.1 397.0l0.9 0.0M297.7 405.3l-0.3 1.1M308.7 404.9l1.4 0.9M300.1 409.5l-0.7 1.3M304.8 407.1l-1.7 0.4M310.9 407.5l0.3 0.9M308.8 410.2l-0.5 -0.7M305.7 410.6l-0.9 -1.6M308.9 404.4l-1.1 -0.4M301.2 409.3l1.7 0.0M312.3 403.3l0.2 -1.5M308.0 404.3l-1.2 0.5M307.5 407.9l-0.3 -1.8M306.5 402.0l0.7 1.1M301.2 398.9l-0.1 -1.0M303.2 399.4l-1.2 -0.7M307.2 411.2l0.7 -1.8M305.8 403.0l0.4 -1.1M300.7 402.6l0.9 -0.4M300.3 398.6l1.6 1.1M307.8 406.6l0.7 -1.1M304.4 408.9l1.4 0.3M301.5 406.0l0.1 -1.8M301.4 408.2l-0.2 0.9M307.3 402.9l-1.4 1.1M307.5 408.4l0.8 -1.5M300.2 405.5l1.4 -0.3M302.5 408.6l0.5 -0.9M302.7 405.7l-0.9 -1.7M302.3 397.6l-0.1 -1.2M307.9 409.6l-0.7 -0.7" fill="none" stroke="#a2a2a2" stroke-width="0.45"/>
<path d="M330.6 393.2L329.2 392.7L327.4 392.9L326.1 391.9M329.2 392.7l-1.6 1.4M329.2 392.7l-0.5 -2.0M327.4 392.9l-1.2 1.2M327.4 392.9l-0.6 -1.5M330.6 393.2L329.9 392.3L329.0 390.6L328.2 390.1M329.9 392.3l-2.1 -0.4M329.9 392.3l0.4 -0.9M329.0 390.6l-1.8 0.5M329.0 390.6l0.5 -1.7M330.6 393.2L330.8 391.7L331.5 390.0L331.6 388.4M331.5 390.0l-1.3 -1.2M331.5 390.0l1.2 -0.4M330.6 393.2L332.4 392.4L333.4 392.0L335.1 391.0M332.4 392.4l0.1 -1.8M332.4 392.4l1.4 1.2M333.4 392.0l0.0 -1.4M333.4 392.0l1.0 0.3M330.6 393.2L332.3 393.8L333.7 394.4L334.7 394.5M332.3 393.8l0.2 1.2M333.7 394.4l1.3 -1.3M330.6 393.2L331.1 394.3L331.5 395.7L332.1 397.1M331.1 394.3l1.8 0.1M331.1 394.3l-0.9 1.2M331.5 395.7l1.1 0.0M331.5 395.7l-0.8 1.4M330.6 393.2L330.2 394.9L329.4 396.0L329.0 397.0M330.2 394.9l0.9 1.8M329.4 396.0l0.8 1.5M330.6 393.2L329.4 393.5L327.8 394.2L326.8 394.5M329.4 393.5l-0.1 1.5M329.4 393.5l-1.5 -0.9M332.4 397.2Q331.3 398.0 330.0 397.5M329.9 397.8Q328.2 398.5 327.1 397.2M327.6 396.6Q325.8 396.3 325.6 394.7M326.3 394.5Q325.1 393.2 325.8 391.8M325.8 391.8Q326.0 390.2 327.6 389.7M327.2 389.3Q328.3 388.1 329.9 388.4M330.0 388.9Q331.4 387.5 332.8 388.4M332.4 392.4l1.6 0.5M326.1 393.4l-0.5 1.2M332.1 390.2l1.1 -1.2M332.1 394.0l-0.9 1.3M335.3 393.6l-1.5 0.2M331.7 395.0l-0.8 0.5M332.9 394.7l0.8 0.7M326.7 391.0l0.3 1.2M332.9 391.9l-0.5 -1.4M329.3 391.9l-1.4 -1.1M331.4 391.8l1.1 -1.6M326.7 390.7l-1.0 0.5M329.1 388.9l0.5 -1.1M333.5 393.0l1.7 0.9M325.7 393.7l0.4 -1.9M328.2 389.6l-1.1 -1.4M329.0 397.2l-0.0 1.7M331.2 394.4l1.7 0.2M333.3 392.4l0.9 -1.7M331.8 396.8l0.7 -1.4M335.1 394.2l0.4 -1.2M331.7 390.8l-1.7 0.9M333.4 393.0l-0.4 0.8M327.6 394.9l1.1 0.8M327.0 392.6l1.5 1.1M329.1 396.0l1.0 1.4M333.3 392.6l0.4 -0.8M329.8 397.0l-1.4 -0.4M328.9 388.9l1.2 0.6M326.5 395.2l1.9 0.3M329.1 397.4l-1.7 -0.9M327.5 396.6l-1.2 1.2M331.7 391.7l0.5 0.6M330.0 390.4l1.0 -1.3M330.7 393.5l0.2 1.9M330.4 391.6l1.1 -0.6M333.5 396.1l0.8 -1.2M325.9 394.5l-0.9 -0.2M326.4 392.4l-0.0 -1.3M327.1 391.3l-0.8 0.3" fill="none" stroke="#a2a2a2" stroke-width="0.45"/>
<path d="M347.9 402.0L346.7 403.4L345.2 405.2L344.3 406.6L343.2 408.3M346.7 403.4l0.6 1.1M346.7 403.4l-1.1 0.1M345.2 405.2l0.8 1.4M344.3 406.6l-1.5 0.3M347.9 402.0L346.0 402.6L344.8 402.6L343.0 402.7L341.4 403.5L339.6 403.8M346.0 402.6l-0.6 1.7M344.8 402.6l-0.5 1.6M343.0 402.7l-0.3 1.8M343.0 402.7l-1.8 -1.5M341.4 403.5l-1.3 2.0M341.4 403.5l-1.1 -0.7M347.9 402.0L346.4 400.8L345.2 399.6L344.4 399.0L343.7 397.1L341.9 396.7M346.4 400.8l-1.7 0.4M345.2 399.6l0.6 -1.8M344.4 399.0l-1.0 0.3M343.7 397.1l-2.1 0.4M347.9 402.0L347.7 400.6L347.5 398.6L347.5 396.5L347.0 395.0L346.9 392.7M347.7 400.6l-1.7 -1.2M347.7 400.6l1.0 -0.7M347.5 398.6l-1.4 -1.2M347.5 398.6l1.5 -1.1M347.5 396.5l-1.6 -1.5M347.5 396.5l1.9 -1.3M347.0 395.0l-1.3 -0.5M347.9 402.0L348.7 400.4L349.3 398.9L350.2 397.2L350.8 395.6L351.8 393.4M348.7 400.4l-0.6 -1.3M349.3 398.9l-0.9 -1.4M349.3 398.9l1.5 -0.3M350.2 397.2l-0.8 -1.2M350.2 397.2l2.2 -0.2M350.8 395.6l-0.9 -1.8M350.8 395.6l1.3 -0.3M347.9 402.0L349.4 401.6L350.8 400.8L352.3 399.6L353.9 399.1L355.5 398.3M349.4 401.6l0.3 -1.7M349.4 401.6l0.9 0.5M350.8 400.8l0.0 -1.5M350.8 400.8l0.8 0.7M352.3 399.6l1.8 1.2M353.9 399.1l0.3 -2.0M347.9 402.0L349.8 402.4L351.7 403.0L353.0 403.4L355.3 403.4L356.5 404.1M349.8 402.4l0.3 1.9M351.7 403.0l1.0 -1.2M351.7 403.0l1.0 1.8M353.0 403.4l0.7 -0.8M353.0 403.4l0.5 1.0M355.3 403.4l1.6 -1.7M355.3 403.4l0.4 2.3M347.9 402.0L348.6 403.7L349.8 405.2L350.2 406.7L351.6 408.2L352.1 409.7M348.6 403.7l-1.0 1.8M349.8 405.2l2.0 0.3M349.8 405.2l-0.6 1.4M351.6 408.2l1.7 -0.0M347.9 402.0L347.6 403.9L347.4 405.6L347.2 407.5L347.2 409.4L347.5 411.0M347.6 403.9l1.0 1.0M347.6 403.9l-1.0 0.4M347.4 405.6l1.0 0.6M347.4 405.6l-1.1 1.0M347.2 407.5l0.9 1.0M347.2 409.4l1.6 1.7M347.2 409.4l-1.2 1.0M357.2 402.0Q358.9 404.5 357.1 406.5M355.6 405.7Q355.9 408.4 353.7 409.2M345.8 411.2Q343.4 411.4 342.5 408.7M341.9 409.6Q339.6 408.6 340.3 405.7M340.0 405.8Q337.8 404.3 338.4 402.0M337.9 402.0Q337.1 399.5 338.8 397.6M340.5 398.4Q339.7 395.5 342.0 394.6M342.5 395.2Q343.7 393.3 346.0 393.6M345.7 392.4Q347.9 391.2 350.0 392.9M354.1 394.2Q356.5 395.2 356.9 397.7M356.9 397.7Q358.6 399.6 357.9 402.0M342.8 409.3l0.6 -0.5M341.6 395.3l0.6 1.1M342.4 403.9l-0.0 1.3M348.0 399.3l0.8 -1.2M347.7 395.8l-1.7 -0.1M349.5 398.7l-1.3 -1.1M339.5 403.9l-1.2 -0.7M340.7 397.0l-0.9 -0.3M350.4 404.5l-0.5 0.7M346.3 394.9l0.2 -1.9M347.1 395.8l-1.3 0.8M343.0 396.2l1.8 -0.1M353.2 407.2l1.2 -0.3M352.0 405.5l-1.1 -1.2M343.1 394.0l0.1 1.8M354.7 396.8l0.0 1.3M348.5 409.1l1.2 -1.1M349.4 397.0l1.0 -0.7M339.3 400.0l-1.5 0.0M349.8 399.3l0.9 1.6M353.1 404.4l-0.7 1.4M352.2 406.3l-1.2 -0.3M343.1 394.9l0.6 -1.5M340.1 399.1l-0.1 1.1M345.8 399.8l-1.0 -0.6M351.5 407.9l1.3 -0.5M354.3 407.8l-1.4 0.1M354.2 408.2l-0.6 -1.5M354.1 403.5l0.1 1.1M340.0 406.3l0.7 0.9M344.6 393.9l-0.9 1.4M352.4 409.3l-0.3 1.9M357.2 402.4l-1.7 -0.3M351.0 398.0l0.6 -0.7M352.6 407.1l1.8 0.7M353.4 402.0l-1.0 -0.1M351.0 400.9l1.1 1.5M343.6 399.0l1.3 0.0M350.7 402.3l-1.3 -0.0M349.6 394.2l0.8 -1.6M351.4 409.9l-0.8 -1.2M352.8 395.4l0.3 1.5M346.5 401.3l1.8 -0.7M339.7 402.6l-1.7 0.8M348.7 405.2l-1.7 -0.1M350.1 404.2l-1.0 0.5M341.0 405.7l-0.9 0.6M341.2 397.3l-1.3 -0.7M342.4 394.9l1.1 0.4M346.8 398.5l-1.7 -0.6M339.9 402.4l0.4 -1.3M341.4 398.5l0.0 0.9M343.8 397.0l0.9 0.9M339.7 403.7l0.9 0.1M340.7 405.8l0.1 1.4M354.2 408.2l1.2 1.1M346.2 398.6l-1.6 -1.1M344.8 405.7l0.2 1.6M344.5 397.9l0.9 1.5M350.4 410.0l0.8 -0.5M345.8 400.9l1.2 0.7M344.2 401.8l-1.8 0.1M345.4 408.4l0.7 0.7M354.3 399.0l1.4 0.5M340.6 400.4l-1.1 0.6M342.6 404.4l0.0 -0.9M346.9 405.0l-1.6 -0.8M340.4 406.8l0.3 -1.5M347.0 403.4l-1.3 -1.0M356.1 406.4l1.3 -0.4M353.9 399.4l-1.0 -0.5M352.9 397.9l-1.5 0.5M344.8 410.3l-1.8 -0.6M349.5 407.8l0.6 0.7M353.2 402.7l1.0 -1.2M354.1 402.6l-1.2 0.7M349.3 397.5l-0.7 -1.1M347.1 401.0l1.3 0.3M353.6 407.1l-1.2 -1.0M350.2 401.4l0.9 0.3M340.7 398.6l-0.4 -0.9M353.8 397.1l-1.8 0.8M354.1 396.6l1.0 1.2M343.8 397.3l-1.3 -1.5M340.6 407.5l0.4 1.0M348.2 398.1l1.2 1.2M347.7 410.3l0.1 0.8M346.0 402.8l-1.9 0.2M352.6 397.8l-1.1 0.2M339.9 400.7l0.1 1.3M347.7 402.8l0.3 -1.0M341.7 398.4l-1.5 0.5M350.0 401.9l0.4 1.0M347.9 395.8l-1.6 -0.9M344.2 400.3l-0.9 -0.1M344.1 403.7l-0.9 0.4M350.4 403.0l1.3 -1.0M354.5 408.3l-1.9 0.3M339.0 402.2l-0.3 1.4M349.7 410.0l0.4 1.2M343.5 401.6l-0.7 0.4M342.7 397.2l-1.4 -0.0M346.9 406.2l-0.7 -0.5M350.7 395.8l-0.0 -1.9M344.3 400.5l0.5 1.2M347.1 395.2l-1.2 1.0M339.8 398.7l-1.5 1.2M350.3 407.8l-0.7 -0.5M344.9 400.7l1.9 0.0M354.6 406.0l-0.7 1.4M354.7 399.4l-1.3 -0.9M352.4 394.8l-0.2 -1.9M350.7 394.9l-1.5 -0.4M343.0 405.3l-0.9 0.6M339.0 402.4l-1.7 -1.0M354.2 403.3l0.6 -1.0M345.5 406.9l-0.4 -1.8M345.5 398.5l1.4 -0.3M354.0 406.2l-1.1 -0.2M355.6 401.2l1.4 -0.6M355.4 401.1l0.8 1.6M350.1 405.0l-0.5 1.1M341.1 403.1l-0.1 1.7M344.4 395.6l-0.3 -1.1M351.0 406.6l-1.7 -0.3M339.6 406.5l-0.2 -0.9M347.6 407.6l-1.1 0.1M350.7 403.0l1.0 0.3M348.8 396.6l1.3 -1.5M348.2 404.0l-1.8 -0.2M342.2 403.5l1.1 -0.7M347.1 404.2l-0.2 0.8" fill="none" stroke="#a2a2a2" stroke-width="0.45"/>
<path d="M445.9 393.1L445.9 391.5L445.8 389.4L446.3 388.3M445.9 391.5l2.0 -0.8M445.8 389.4l-1.6 -1.5M445.8 389.4l1.2 -1.0M445.9 393.1L447.4 392.6L448.4 391.3L450.2 391.1M447.4 392.6l0.1 -1.8M448.4 391.3l-0.3 -2.1M448.4 391.3l1.0 0.4M445.9 393.1L447.7 393.6L449.5 393.8L451.3 394.1M447.7 393.6l0.9 -1.4M447.7 393.6l1.3 1.6M449.5 393.8l1.5 -1.4M445.9 393.1L447.1 394.9L447.6 396.5L448.4 398.2M447.1 394.9l-0.6 1.8M447.6 396.5l-0.6 1.6M445.9 393.1L445.9 394.5L445.9 396.5L445.8 398.0M445.9 394.5l-1.5 0.6M445.9 396.5l1.2 0.5M445.9 396.5l-1.2 1.0M445.9 393.1L444.2 394.6L443.5 395.6L441.6 396.1M444.2 394.6l0.2 1.4M444.2 394.6l-1.4 -0.8M443.5 395.6l-0.1 1.3M443.5 395.6l-2.1 -0.6M445.9 393.1L444.2 393.1L442.9 393.1L441.0 393.2M444.2 393.1l-0.9 -1.1M442.9 393.1l-0.8 1.5M442.9 393.1l-0.6 -1.0M445.9 393.1L444.8 391.8L444.0 390.7L442.4 388.6M444.8 391.8l-1.2 0.3M444.8 391.8l0.4 -2.0M444.0 390.7l-1.2 -0.1M451.4 393.1Q451.9 394.9 450.7 396.2M445.2 397.9Q443.6 398.2 442.6 397.0M441.1 391.7Q440.9 389.9 442.4 389.0M445.1 387.6Q446.8 387.1 448.2 388.1M444.1 388.6l0.8 1.7M443.5 397.0l1.8 0.2M444.9 389.6l1.6 -0.4M442.5 394.6l0.2 -1.2M446.7 397.0l1.6 -0.3M444.1 393.1l-0.4 0.8M448.9 391.9l0.2 0.8M449.6 392.8l-0.8 0.5M441.8 391.5l-1.9 0.6M450.4 392.9l-0.3 -1.1M446.1 393.9l1.0 -1.3M448.1 390.5l1.7 -0.5M448.2 391.0l0.3 -1.7M445.5 397.5l1.4 -0.6M449.5 391.2l-1.6 -0.1M443.9 392.2l-1.0 1.3M444.4 395.2l0.5 1.4M446.7 391.7l0.6 -0.6M444.1 395.1l-1.3 -1.3M443.8 390.2l0.5 -0.7M444.8 394.3l0.2 -1.2M442.1 393.4l0.9 -0.3M443.9 395.9l0.4 -1.1M449.1 396.1l1.4 0.5M448.9 393.4l0.8 -0.6M444.9 395.2l0.1 1.0M447.4 392.1l0.9 0.1M445.8 397.3l1.2 -0.8M450.4 393.5l-0.9 0.8M449.4 390.8l-0.8 0.6M442.6 394.1l-0.8 -0.4M445.8 395.9l-0.8 0.6M448.3 396.0l-0.9 -1.5M444.7 391.4l-0.7 0.8M448.0 397.4l0.6 -1.3M444.2 390.0l-0.8 -1.2M448.1 397.5l-1.0 -0.3M446.4 389.3l1.8 -0.5M446.3 395.6l-1.5 1.1M448.5 388.9l-1.0 -0.3M445.5 392.1l-0.2 1.3M446.0 393.0l1.6 0.0M446.2 388.7l-0.5 1.6M444.9 393.9l-0.7 0.7M448.3 390.3l-1.1 -0.5M449.1 391.0l1.1 1.5" fill="none" stroke="#a2a2a2" stroke-width="0.45"/>
<path d="M466.6 399.4L466.2 401.0L465.4 402.1L464.4 403.7L463.7 405.6L463.4 406.9L462.0 408.4M466.2 401.0l-2.0 0.3M465.4 402.1l0.6 2.1M465.4 402.1l-2.4 0.2M464.4 403.7l-2.5 -0.0M463.4 406.9l0.9 1.0M463.4 406.9l-1.2 0.5M466.6 399.4L465.0 400.3L463.6 401.5L462.7 402.4L461.1 403.5L459.9 404.3L458.9 405.5M465.0 400.3l-1.1 -0.4M463.6 401.5l0.3 2.4M463.6 401.5l-1.3 -0.7M462.7 402.4l0.0 1.9M462.7 402.4l-2.1 -1.2M461.1 403.5l0.5 2.2M459.9 404.3l-1.7 -0.5M466.6 399.4L465.0 399.3L463.6 398.4L462.2 398.5L460.4 397.9L458.7 397.6L456.8 396.6L455.1 396.5M465.0 399.3l-1.2 0.8M465.0 399.3l-1.3 -1.8M463.6 398.4l-1.1 1.2M460.4 397.9l-0.4 -1.3M458.7 397.6l-1.3 0.7M458.7 397.6l-0.3 -1.3M456.8 396.6l-1.2 0.7M456.8 396.6l-0.7 -1.5M466.6 399.4L465.3 398.0L464.8 396.6L463.4 395.1L462.8 393.5L461.4 392.0L460.6 390.8M465.3 398.0l-1.6 0.1M465.3 398.0l0.1 -1.1M464.8 396.6l-2.0 -0.5M464.8 396.6l1.0 -1.9M463.4 395.1l-2.1 0.1M463.4 395.1l0.5 -1.6M462.8 393.5l-1.5 -0.3M462.8 393.5l0.6 -1.0M461.4 392.0l-1.6 0.1M461.4 392.0l0.4 -1.3M466.6 399.4L465.8 397.8L465.6 396.6L464.9 395.1L464.0 393.2L463.9 391.4L462.8 390.3L462.2 388.3M465.8 397.8l-2.0 -0.1M465.8 397.8l1.3 -1.3M465.6 396.6l0.9 -1.1M464.9 395.1l0.6 -1.3M464.0 393.2l1.2 -1.3M463.9 391.4l-1.9 -0.4M462.8 390.3l0.8 -1.2M466.6 399.4L467.4 397.6L468.2 396.7L468.4 395.0L469.6 393.5L470.1 391.9L470.8 390.2L471.9 388.9M467.4 397.6l-1.1 -1.7M468.2 396.7l-0.8 -1.4M468.2 396.7l2.0 0.2M468.4 395.0l2.1 0.0M469.6 393.5l1.2 -0.4M470.1 391.9l-0.8 -1.1M470.1 391.9l1.6 -0.5M470.8 390.2l-0.9 -1.0M470.8 390.2l1.8 -0.4M466.6 399.4L467.9 398.8L469.7 398.2L471.6 397.5L473.2 397.7L474.7 397.0L476.1 396.3M467.9 398.8l0.6 -1.0M467.9 398.8l2.2 1.0M469.7 398.2l0.3 -2.1M469.7 398.2l1.2 1.0M471.6 397.5l0.6 -1.0M471.6 397.5l1.4 1.3M473.2 397.7l1.5 1.2M474.7 397.0l0.6 -1.0M474.7 397.0l1.4 1.0M466.6 399.4L468.7 399.3L470.4 399.6L471.5 399.3L473.3 399.9L475.0 399.7L476.8 399.9L479.1 400.0M468.7 399.3l1.1 -2.0M468.7 399.3l0.6 1.5M470.4 399.6l0.9 -1.4M470.4 399.6l0.8 1.0M471.5 399.3l1.7 -1.7M473.3 399.9l1.4 -2.0M473.3 399.9l1.0 1.0M475.0 399.7l1.3 -1.1M475.0 399.7l0.9 2.2M476.8 399.9l0.7 -1.6M476.8 399.9l1.0 1.8M466.6 399.4L468.1 400.3L469.2 401.7L470.4 403.1L471.2 404.7L472.6 405.4L474.0 406.9L475.3 408.2M468.1 400.3l1.2 -0.5M468.1 400.3l-0.3 1.4M469.2 401.7l-0.0 1.5M470.4 403.1l0.9 -0.3M470.4 403.1l-0.4 1.9M471.2 404.7l1.6 -0.1M472.6 405.4l1.1 -0.4M472.6 405.4l-0.4 1.9M474.0 406.9l1.1 -0.2M474.0 406.9l-0.6 1.9M466.6 399.4L467.3 401.1L467.6 402.3L467.6 404.1L468.3 405.4L468.7 407.3L468.3 409.3L468.7 410.6M467.3 401.1l1.4 1.0M467.3 401.1l-1.7 1.6M467.6 402.3l-1.0 1.3M467.6 404.1l1.5 1.1M467.6 404.1l-0.9 0.8M468.3 405.4l-1.0 0.8M468.7 407.3l1.9 0.7M468.3 409.3l2.2 1.1M468.3 409.3l-1.1 1.7M474.3 407.9Q472.9 410.3 470.0 409.8M465.5 410.0Q462.7 411.3 460.9 409.3M460.6 409.8Q457.7 409.2 457.4 406.1M456.4 406.8Q453.9 405.1 454.9 401.9M455.3 401.8Q453.9 399.4 456.5 397.2M456.1 397.2Q455.3 394.4 457.5 392.8M461.0 389.7Q462.6 387.0 465.4 387.6M469.8 389.5Q472.6 389.1 473.8 391.3M475.1 389.9Q477.9 391.2 477.5 394.5M477.9 394.4Q480.0 396.6 477.4 399.4M458.4 396.6l0.3 -0.8M470.7 410.2l-1.2 0.2M473.3 392.3l-1.1 -1.6M475.2 398.5l1.2 0.1M471.2 398.6l1.1 0.2M469.8 403.1l-0.2 1.0M469.3 406.1l-0.5 1.8M462.8 401.4l-0.3 -1.2M469.8 404.0l0.1 -1.1M458.2 397.3l1.1 -1.0M466.8 404.6l0.9 1.8M458.2 392.2l0.0 -1.8M471.1 398.5l0.9 -1.4M467.0 400.0l-1.2 -1.0M469.0 392.2l-2.0 0.1M466.2 398.8l-1.2 0.1M475.6 396.5l-0.0 1.4M469.6 405.3l0.3 1.5M472.5 403.9l-0.5 -1.8M472.0 403.1l-1.2 -0.4M471.3 406.6l1.2 0.2M458.3 398.8l-0.8 1.5M466.3 392.3l0.7 -1.6M466.5 394.6l-1.4 -0.7M477.2 397.4l-0.3 -1.9M466.1 404.1l-0.8 -1.8M472.3 404.4l-1.4 0.2M469.0 409.5l-0.7 -1.2M474.4 398.7l-0.8 1.3M469.0 404.9l0.9 -1.3M472.5 389.4l-0.6 -1.8M456.8 397.3l-0.6 -0.5M456.3 396.8l-0.8 0.1M478.3 399.9l-1.2 -0.5M468.4 389.8l0.3 -0.8M473.9 403.3l1.4 0.5M467.9 393.4l-1.4 -0.3M468.1 399.6l-1.1 -1.0M460.8 393.3l1.1 -0.6M471.4 392.9l-0.1 1.1M458.3 396.5l0.5 0.9M468.5 407.3l-1.8 0.3M474.2 406.4l1.9 -0.1M461.1 390.4l1.0 -0.5M469.9 393.4l-1.2 1.1M458.3 404.5l0.4 0.8M471.7 401.0l-0.8 -0.9M459.4 399.9l-0.0 -1.9M463.0 407.8l-0.0 -1.4M465.4 401.1l1.1 0.0M469.9 396.6l1.1 -0.8M467.0 390.8l0.3 -0.9M464.4 390.5l-0.7 0.8M457.8 405.5l0.9 -1.5M466.2 404.1l0.7 -1.4M465.0 407.8l-1.1 -1.3M469.3 405.3l1.7 0.7M472.2 398.4l1.2 0.5M464.3 398.1l1.3 0.1M468.9 397.9l0.3 1.6M460.7 394.6l-1.7 0.4M472.0 400.9l-0.1 1.3M467.5 402.3l-0.4 1.5M466.2 402.6l0.5 1.0M458.2 394.7l0.5 1.1M469.1 409.6l-0.5 1.2M475.1 406.2l-0.4 -1.8M467.8 405.0l1.0 0.1M466.4 392.1l-0.5 -0.9M456.4 401.2l0.9 -1.2M472.4 397.1l-1.4 1.1M472.6 408.4l1.3 -0.8M477.1 396.4l0.2 0.8M463.0 403.5l1.3 -0.5M458.7 399.5l-0.9 0.3M477.2 398.4l0.2 -0.9M463.9 410.3l-0.8 0.4M458.1 396.2l1.6 -0.4M464.9 388.5l-1.2 -1.0M474.1 397.9l1.1 -1.1M465.2 403.0l0.2 1.9M460.9 392.8l-0.2 -1.6M475.5 397.3l-0.4 -1.6M471.0 408.8l-0.9 0.5M463.8 399.5l-1.1 -0.8M470.0 405.4l0.0 -1.1M462.0 410.1l0.9 -1.2M465.8 389.4l-1.1 1.6M458.4 403.5l-0.3 1.4M474.6 400.5l-1.0 0.3M467.5 406.3l0.1 1.2M469.1 393.0l0.9 1.7M463.8 409.9l1.5 -0.0M465.8 396.4l1.5 -0.9M458.2 397.5l-0.1 0.8M470.8 406.4l1.0 -0.8M466.1 398.1l0.2 -1.0M462.7 404.0l0.9 -0.8M477.7 398.7l-0.4 -1.6M471.4 396.9l0.8 -1.6M469.8 406.4l-0.6 1.0M470.6 401.8l-1.6 -1.1M467.9 397.2l1.5 0.1M473.6 404.1l-1.0 0.5M464.2 397.6l-0.1 1.3M463.1 394.3l-0.3 1.1M455.7 402.7l1.7 -0.2M466.6 407.7l-0.0 -1.9M457.2 399.3l0.2 -0.9M475.7 403.9l-0.1 -1.0M461.1 402.8l1.5 -0.7M473.5 399.3l-1.3 0.2M468.6 405.0l-0.8 0.5M475.8 405.4l0.6 1.1M462.4 403.2l1.5 -0.9M471.7 394.4l-0.9 -1.4M465.4 397.4l-1.9 0.1M459.1 406.2l-0.5 1.2M471.7 396.9l1.5 0.2M469.8 403.1l-0.8 0.5M469.9 409.6l-1.9 -0.1M465.8 398.7l0.4 -1.4M464.7 407.8l1.3 -0.6M460.2 396.9l0.6 1.5M466.2 403.3l1.1 0.5M471.1 391.4l1.1 -1.0M456.4 393.9l0.8 0.4M465.4 403.4l-1.4 -0.2M464.2 399.4l-0.4 1.2M470.6 407.1l0.2 -1.8M470.7 394.7l1.8 0.2M468.7 399.6l1.3 -1.0M465.1 390.7l0.2 1.7M476.7 404.2l-0.9 1.2M471.1 389.0l-0.6 0.7M474.3 406.7l1.3 0.4M463.9 390.8l-0.1 1.4M471.5 393.3l-0.1 1.7M459.8 401.3l-1.9 0.3M463.8 410.2l-1.4 -0.2M465.2 404.7l1.2 0.8M464.3 395.8l0.6 -1.5M468.0 405.9l0.1 0.9M458.5 395.2l0.1 -1.6M463.0 388.9l0.2 -1.8M462.2 401.3l0.7 -1.1M473.7 401.0l-1.8 -0.4M475.0 400.7l-0.5 1.2M474.8 401.4l0.4 1.2M463.4 402.3l-1.3 -0.4M469.9 399.4l-0.5 -0.8M458.8 395.6l-1.3 1.3M468.5 388.7l-1.1 -0.7M472.3 392.5l1.3 0.6M474.9 403.4l-0.6 -0.7M460.2 399.0l-0.8 0.9M458.4 397.7l1.1 -0.1M475.8 401.3l0.7 0.5M474.1 401.3l0.1 1.9M463.6 400.1l0.1 1.7M466.0 399.3l-1.1 -0.1M464.7 390.2l-0.0 -1.8M471.4 404.6l-0.5 1.8M475.9 396.9l1.0 -0.7M465.4 392.0l1.1 0.8M462.5 403.5l-0.4 1.5M469.4 400.3l0.1 0.9M469.0 398.5l-1.6 0.6M461.3 395.0l-0.2 -1.0M459.5 406.2l0.2 1.6M463.5 400.7l-1.5 -1.2M466.1 393.1l-0.9 -1.6M471.0 404.4l-0.4 -1.9M458.9 396.2l-1.0 0.5M464.2 388.5l-0.6 0.5M462.2 395.4l1.0 -1.6M469.0 391.3l1.3 -0.4M464.2 390.4l-1.4 -0.9M458.3 398.7l-1.2 1.3M470.3 396.3l0.7 -1.5M462.4 407.6l0.7 1.2M474.8 397.5l-0.5 -1.8M460.3 394.3l0.7 1.1M456.3 395.1l0.8 1.1M473.4 399.6l-1.0 -0.0M474.8 393.0l1.1 0.7M465.7 403.5l1.4 0.1M469.6 405.0l0.4 -0.9M457.8 399.9l0.2 -1.3M466.7 407.4l-0.9 -0.0M462.4 395.5l-1.4 -0.5M462.2 396.6l0.2 -1.7M470.0 403.5l1.3 1.0M475.0 394.8l1.7 -0.5M471.4 404.8l-0.4 1.0M463.6 399.8l-0.8 0.9M456.0 402.9l0.3 0.8M466.8 408.7l-0.8 -0.0M462.8 406.5l1.2 0.2M467.9 389.8l1.8 -0.7" fill="none" stroke="#a2a2a2" stroke-width="0.45"/>
<path d="M536.8 404.2L537.2 405.9L537.4 407.1L537.7 409.1L538.6 410.9L538.8 412.4M537.2 405.9l1.0 0.7M537.2 405.9l-1.0 1.9M537.4 407.1l1.3 0.8M537.4 407.1l-1.5 1.4M537.7 409.1l1.3 0.2M537.7 409.1l-1.5 1.5M538.6 410.9l2.1 0.8M536.8 404.2L535.5 405.4L534.7 407.6L533.9 408.8L533.2 410.2M535.5 405.4l1.0 1.4M535.5 405.4l-1.0 0.2M534.7 407.6l0.7 0.9M534.7 407.6l-1.0 0.0M533.9 408.8l0.4 1.2M533.9 408.8l-1.4 0.3M536.8 404.2L535.1 404.7L533.6 405.7L532.6 405.7L530.5 406.8L529.7 407.6M535.1 404.7l-0.6 1.3M532.6 405.7l-0.0 1.6M532.6 405.7l-0.8 -0.6M536.8 404.2L534.6 403.6L533.1 403.7L530.8 403.9L528.9 403.6M533.1 403.7l-0.7 0.8M530.8 403.9l-1.2 1.6M536.8 404.2L535.3 403.1L534.2 401.1L533.2 400.3L531.8 398.9M535.3 403.1l0.6 -1.5M534.2 401.1l0.4 -1.5M533.2 400.3l-1.2 0.2M533.2 400.3l0.5 -1.4M536.8 404.2L536.9 402.0L536.5 400.7L536.8 398.0L536.5 396.3M536.9 402.0l-1.5 -1.4M536.9 402.0l1.8 -1.2M536.5 400.7l1.9 -1.1M536.8 398.0l0.8 -0.6M536.8 404.2L538.0 403.0L539.3 401.8L541.2 400.4L542.2 399.1M538.0 403.0l-0.3 -2.1M538.0 403.0l1.2 0.6M539.3 401.8l-0.0 -1.7M541.2 400.4l-0.6 -2.2M541.2 400.4l1.7 0.8M536.8 404.2L538.9 404.6L541.0 404.6L542.7 405.1L544.4 404.7M538.9 404.6l0.7 -0.9M538.9 404.6l1.2 1.3M541.0 404.6l0.8 -1.5M542.7 405.1l1.8 -1.5M542.7 405.1l0.7 2.2M536.8 404.2L537.9 404.7L539.5 405.8L541.6 406.1L542.8 407.0M537.9 404.7l1.8 -0.7M537.9 404.7l0.3 1.9M539.5 405.8l0.9 -0.6M539.5 405.8l0.7 2.0M541.6 406.1l1.0 -0.3M544.5 404.2Q545.1 406.2 542.9 407.4M537.8 412.2Q535.7 412.9 534.4 410.6M533.8 412.0Q531.6 411.8 531.4 409.0M529.7 406.0Q528.4 404.2 529.3 402.4M529.4 402.4Q529.0 400.1 530.8 398.9M537.8 396.3Q539.9 396.1 541.1 398.0M541.5 397.3Q543.7 398.1 542.9 401.0M532.9 407.0l-1.2 -0.1M537.1 408.0l1.1 -0.2M541.7 404.1l0.6 1.0M536.0 398.0l-0.3 -1.7M541.3 402.1l1.0 0.9M536.6 403.5l-1.0 -0.3M536.2 397.1l0.4 1.2M542.2 402.6l-0.3 -1.3M532.7 397.9l1.1 0.0M535.4 410.1l0.5 0.8M541.4 404.2l-0.5 -0.7M542.7 403.6l-0.8 -0.6M542.9 408.6l0.6 1.4M539.8 398.0l-0.4 -1.7M533.5 398.9l-0.1 -1.0M532.3 399.2l-0.3 -1.7M532.7 397.9l1.7 0.3M539.0 399.1l-0.4 -1.8M539.3 411.1l-0.2 -1.0M542.3 403.1l-0.4 1.8M537.0 409.7l0.5 -1.6M530.5 400.5l1.2 -0.6M541.0 404.9l0.6 0.9M542.9 406.5l0.8 -1.2M532.5 403.2l1.6 -0.7M534.2 410.7l0.8 -0.7M530.0 406.1l-0.3 -1.1M539.7 406.3l-0.8 0.5M543.7 402.9l0.1 1.5M536.8 401.8l-0.3 -0.8M538.2 397.0l0.9 0.9M534.5 411.3l1.1 0.7M534.4 402.4l1.0 0.1M533.7 409.2l-1.4 0.5M543.1 408.2l1.0 1.5M542.0 400.2l-1.1 0.1M534.6 410.2l1.4 -1.0M530.3 407.3l-0.5 1.7M529.5 404.0l1.9 0.1M537.4 399.1l-1.8 0.9M532.1 404.9l-0.6 1.4M534.4 403.6l-1.3 1.1M537.5 396.5l0.8 0.7M536.6 403.4l1.2 -0.0M534.0 404.1l-1.5 -0.8M535.8 406.1l-0.3 -0.8M533.7 408.0l1.8 0.1M534.5 410.4l-1.7 -0.3M543.6 405.7l1.2 -0.9M536.3 407.2l-0.5 -0.6M538.4 406.2l-2.0 0.1M532.4 397.8l2.0 0.1M540.8 397.9l-0.4 1.0M534.5 408.9l1.6 -0.5M541.0 404.7l0.8 0.6M536.0 405.1l0.6 -1.5M540.4 405.6l0.6 -1.5M543.9 404.1l0.1 -1.7M533.9 407.3l-1.3 -1.2M536.9 400.9l-1.1 0.3M537.6 397.6l0.9 -0.3M532.0 407.1l1.1 1.6M532.4 402.2l1.4 0.5M540.6 402.2l1.1 -0.1M543.1 401.0l0.7 -0.9M531.9 408.9l0.2 1.4M536.5 405.4l-1.3 1.1M530.4 403.6l-0.1 1.0M542.5 400.3l-0.8 -0.6M544.0 403.6l0.4 1.5M538.2 405.3l0.4 1.1M536.1 402.8l-0.4 -0.9M530.2 407.2l0.7 1.1M530.3 404.3l1.5 -0.2M532.5 402.1l1.6 1.2M536.7 398.2l1.0 0.7M532.9 407.1l0.3 -0.9M536.9 410.2l0.3 -0.8M536.9 398.3l1.8 -0.3M537.6 398.0l1.9 -0.4M536.4 406.6l-1.3 -1.0M532.8 404.6l0.9 -0.2M532.6 400.9l1.3 -1.2M531.9 405.0l-0.2 -1.4M534.6 410.7l-0.7 0.5M535.5 411.0l-1.4 -0.7M535.9 404.5l0.5 -1.1M542.0 408.5l0.9 0.8M531.8 408.9l1.2 -0.1M536.4 398.7l-0.4 0.9M536.9 409.0l-1.1 0.8M534.2 398.5l1.1 1.3M542.6 407.1l0.3 1.8" fill="none" stroke="#a2a2a2" stroke-width="0.45"/>
</svg></body></html>
